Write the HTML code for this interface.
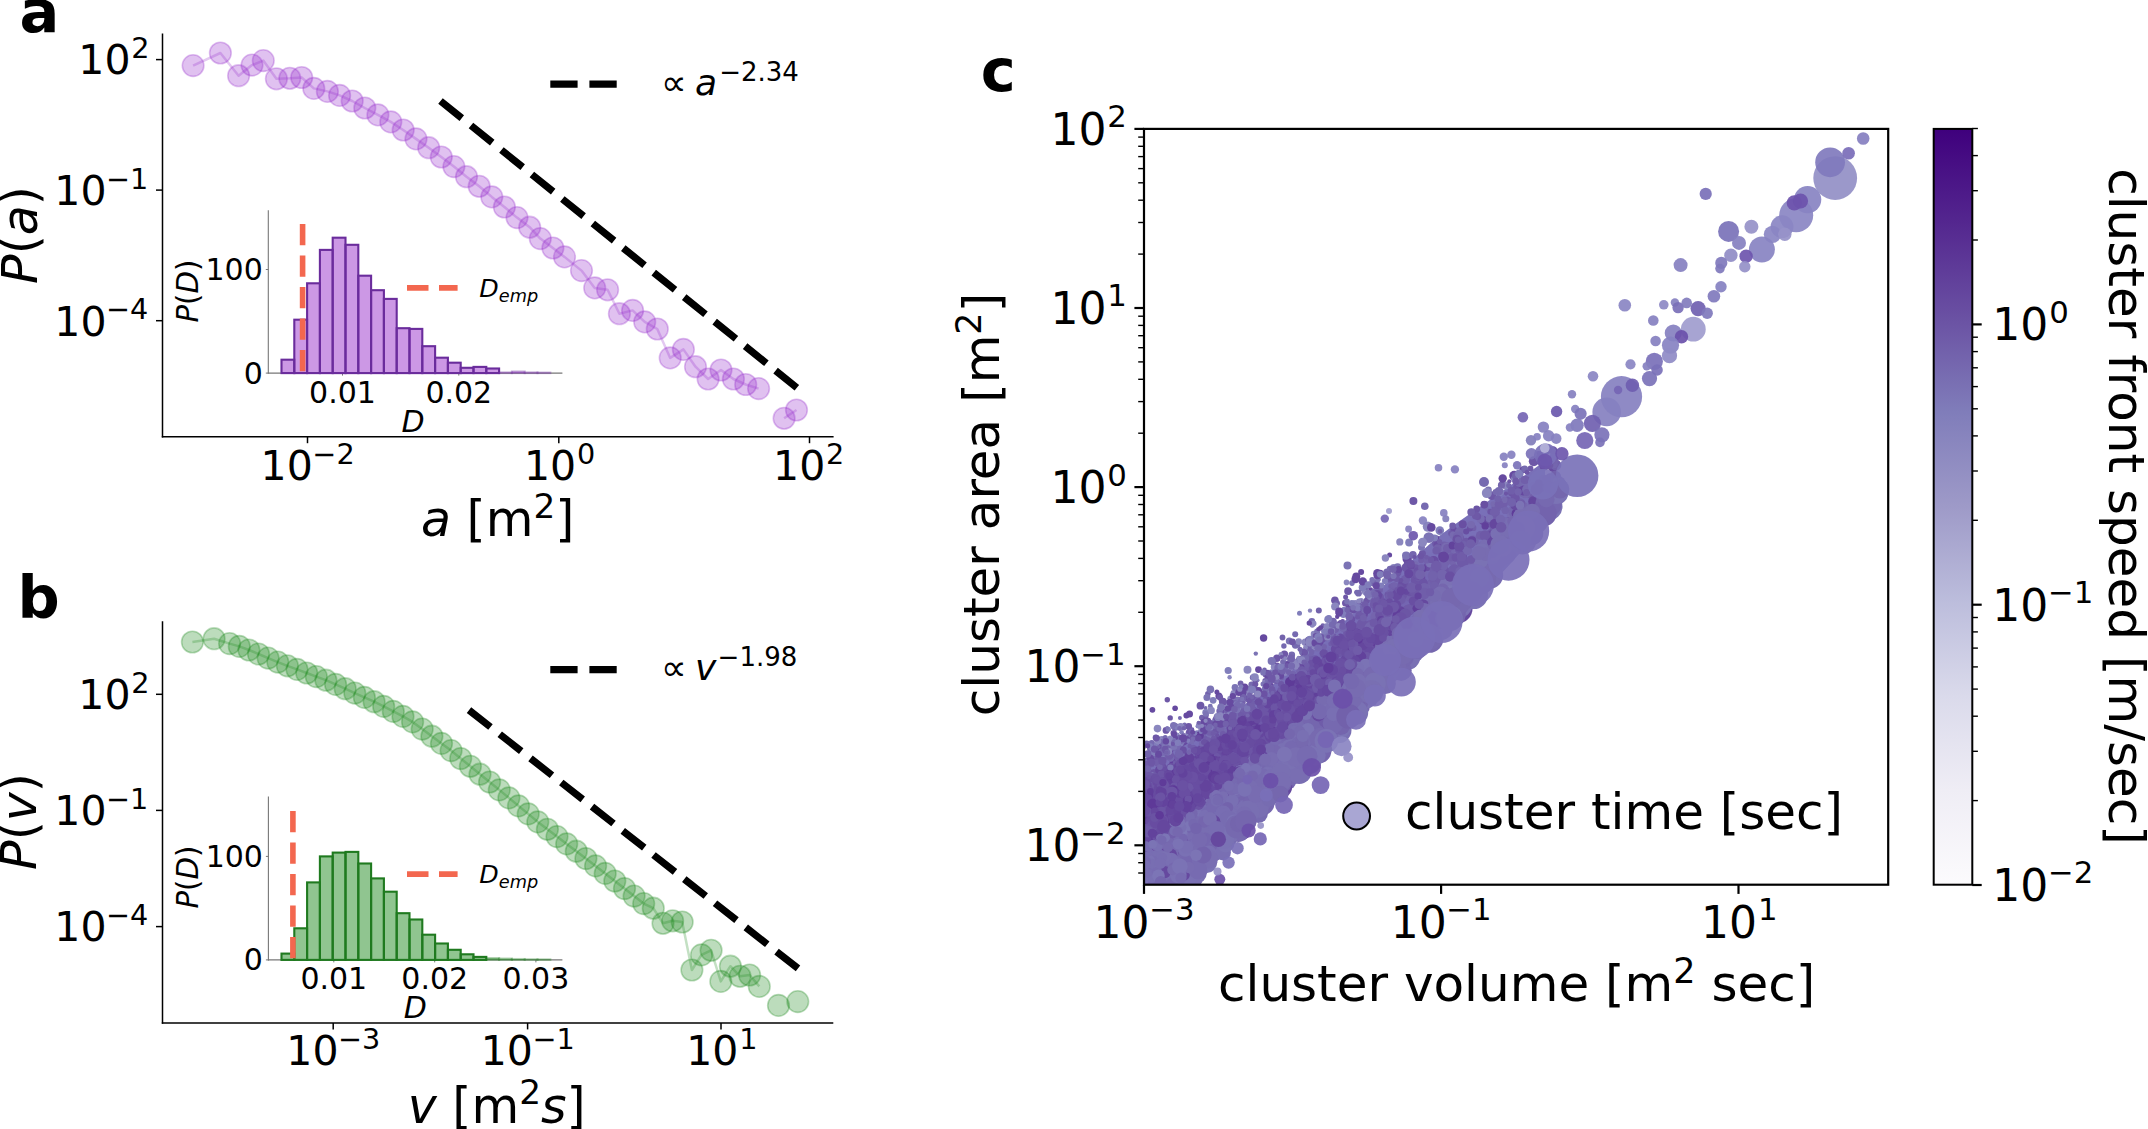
<!DOCTYPE html>
<html lang="en"><head><meta charset="utf-8"><title>Cluster statistics figure</title>
<style>
html,body{margin:0;padding:0;background:#fff;}
body{width:2148px;height:1129px;overflow:hidden;}
svg{display:block;font-family:'DejaVu Sans','Liberation Sans',sans-serif;}
</style></head><body>
<svg width="2148" height="1129" viewBox="0 0 2148 1129">
<rect width="2148" height="1129" fill="#fff"/>
<g id="panel-a">
<text x="19.6" y="32.4" font-size="59" text-anchor="start" font-weight="bold" fill="#000">a</text>
<line x1="162.5" y1="33.6" x2="162.5" y2="437.5" stroke="#000" stroke-width="1.5" />
<line x1="161.8" y1="436.8" x2="833.6" y2="436.8" stroke="#000" stroke-width="1.5" />
<line x1="156" y1="59.6" x2="162.5" y2="59.6" stroke="#000" stroke-width="1.5" />
<text x="78.3" y="74.4" font-size="41">10<tspan dx="0.8" dy="-16.4" font-size="28.7">2</tspan></text>
<line x1="156" y1="190.1" x2="162.5" y2="190.1" stroke="#000" stroke-width="1.5" />
<text x="54.3" y="204.9" font-size="41">10<tspan dx="-0.4" dy="-16.4" font-size="28.7">−1</tspan></text>
<line x1="156" y1="320.7" x2="162.5" y2="320.7" stroke="#000" stroke-width="1.5" />
<text x="54.3" y="335.5" font-size="41">10<tspan dx="-0.4" dy="-16.4" font-size="28.7">−4</tspan></text>
<line x1="307.5" y1="436.8" x2="307.5" y2="443.2" stroke="#000" stroke-width="1.5" />
<text x="260.6" y="480.1" font-size="41">10<tspan dx="-0.4" dy="-16.4" font-size="28.7">−2</tspan></text>
<line x1="558.8" y1="436.8" x2="558.8" y2="443.2" stroke="#000" stroke-width="1.5" />
<text x="524" y="480.1" font-size="41">10<tspan dx="0.8" dy="-16.4" font-size="28.7">0</tspan></text>
<line x1="809.5" y1="436.8" x2="809.5" y2="443.2" stroke="#000" stroke-width="1.5" />
<text x="773.1" y="480.1" font-size="41">10<tspan dx="0.8" dy="-16.4" font-size="28.7">2</tspan></text>
<text x="36.5" y="235" font-size="49" text-anchor="middle" transform="rotate(-90 36.5 235)"><tspan font-style="italic">P</tspan>(<tspan font-style="italic">a</tspan>)</text>
<text x="421" y="536" font-size="49"><tspan font-style="italic">a</tspan> [m<tspan dy="-18.5" font-size="34.3">2</tspan><tspan dy="18.5">]</tspan></text>
<g fill="#9932cc" stroke="#9932cc">
<path d="M193.1 65.6 L220.4 53 L238.6 75.7 L252 65.1 L263.3 60.6 L276.4 78.8 L289.8 78.3 L301.7 77.5 L313.8 88.4 L327.4 91.4 L339.6 95.4 L352.2 101 L364.8 108 L377.9 114.9 L390.8 121.9 L403.2 130 L416 138.9 L428.7 147.7 L441.3 157 L453.9 166.6 L466.5 176.7 L479.2 186.3 L491.8 196.9 L504.4 207 L517 217.6 L529.7 227.2 L540.3 238.6 L552.9 248 L564.5 256.9 L581.5 270.6 L594.7 287.9 L607.6 289.8 L619.4 313.7 L632.6 310.4 L644.7 321.9 L657.3 329 L670.2 357.9 L683.4 349.4 L695.5 366.7 L708.1 379 L721 370 L733.4 379 L745.7 384.5 L758.6 388.6M784.1 418.3 L796.5 410" fill="none" stroke-width="2.5" stroke-opacity="0.27" stroke-linejoin="round"/>
<circle cx="193.1" cy="65.6" r="10.8" fill-opacity="0.3" stroke-opacity="0.3" stroke-width="1.6"/>
<circle cx="220.4" cy="53" r="10.8" fill-opacity="0.3" stroke-opacity="0.3" stroke-width="1.6"/>
<circle cx="238.6" cy="75.7" r="10.8" fill-opacity="0.3" stroke-opacity="0.3" stroke-width="1.6"/>
<circle cx="252" cy="65.1" r="10.8" fill-opacity="0.3" stroke-opacity="0.3" stroke-width="1.6"/>
<circle cx="263.3" cy="60.6" r="10.8" fill-opacity="0.3" stroke-opacity="0.3" stroke-width="1.6"/>
<circle cx="276.4" cy="78.8" r="10.8" fill-opacity="0.3" stroke-opacity="0.3" stroke-width="1.6"/>
<circle cx="289.8" cy="78.3" r="10.8" fill-opacity="0.3" stroke-opacity="0.3" stroke-width="1.6"/>
<circle cx="301.7" cy="77.5" r="10.8" fill-opacity="0.3" stroke-opacity="0.3" stroke-width="1.6"/>
<circle cx="313.8" cy="88.4" r="10.8" fill-opacity="0.3" stroke-opacity="0.3" stroke-width="1.6"/>
<circle cx="327.4" cy="91.4" r="10.8" fill-opacity="0.3" stroke-opacity="0.3" stroke-width="1.6"/>
<circle cx="339.6" cy="95.4" r="10.8" fill-opacity="0.3" stroke-opacity="0.3" stroke-width="1.6"/>
<circle cx="352.2" cy="101" r="10.8" fill-opacity="0.3" stroke-opacity="0.3" stroke-width="1.6"/>
<circle cx="364.8" cy="108" r="10.8" fill-opacity="0.3" stroke-opacity="0.3" stroke-width="1.6"/>
<circle cx="377.9" cy="114.9" r="10.8" fill-opacity="0.3" stroke-opacity="0.3" stroke-width="1.6"/>
<circle cx="390.8" cy="121.9" r="10.8" fill-opacity="0.3" stroke-opacity="0.3" stroke-width="1.6"/>
<circle cx="403.2" cy="130" r="10.8" fill-opacity="0.3" stroke-opacity="0.3" stroke-width="1.6"/>
<circle cx="416" cy="138.9" r="10.8" fill-opacity="0.3" stroke-opacity="0.3" stroke-width="1.6"/>
<circle cx="428.7" cy="147.7" r="10.8" fill-opacity="0.3" stroke-opacity="0.3" stroke-width="1.6"/>
<circle cx="441.3" cy="157" r="10.8" fill-opacity="0.3" stroke-opacity="0.3" stroke-width="1.6"/>
<circle cx="453.9" cy="166.6" r="10.8" fill-opacity="0.3" stroke-opacity="0.3" stroke-width="1.6"/>
<circle cx="466.5" cy="176.7" r="10.8" fill-opacity="0.3" stroke-opacity="0.3" stroke-width="1.6"/>
<circle cx="479.2" cy="186.3" r="10.8" fill-opacity="0.3" stroke-opacity="0.3" stroke-width="1.6"/>
<circle cx="491.8" cy="196.9" r="10.8" fill-opacity="0.3" stroke-opacity="0.3" stroke-width="1.6"/>
<circle cx="504.4" cy="207" r="10.8" fill-opacity="0.3" stroke-opacity="0.3" stroke-width="1.6"/>
<circle cx="517" cy="217.6" r="10.8" fill-opacity="0.3" stroke-opacity="0.3" stroke-width="1.6"/>
<circle cx="529.7" cy="227.2" r="10.8" fill-opacity="0.3" stroke-opacity="0.3" stroke-width="1.6"/>
<circle cx="540.3" cy="238.6" r="10.8" fill-opacity="0.3" stroke-opacity="0.3" stroke-width="1.6"/>
<circle cx="552.9" cy="248" r="10.8" fill-opacity="0.3" stroke-opacity="0.3" stroke-width="1.6"/>
<circle cx="564.5" cy="256.9" r="10.8" fill-opacity="0.3" stroke-opacity="0.3" stroke-width="1.6"/>
<circle cx="581.5" cy="270.6" r="10.8" fill-opacity="0.3" stroke-opacity="0.3" stroke-width="1.6"/>
<circle cx="594.7" cy="287.9" r="10.8" fill-opacity="0.3" stroke-opacity="0.3" stroke-width="1.6"/>
<circle cx="607.6" cy="289.8" r="10.8" fill-opacity="0.3" stroke-opacity="0.3" stroke-width="1.6"/>
<circle cx="619.4" cy="313.7" r="10.8" fill-opacity="0.3" stroke-opacity="0.3" stroke-width="1.6"/>
<circle cx="632.6" cy="310.4" r="10.8" fill-opacity="0.3" stroke-opacity="0.3" stroke-width="1.6"/>
<circle cx="644.7" cy="321.9" r="10.8" fill-opacity="0.3" stroke-opacity="0.3" stroke-width="1.6"/>
<circle cx="657.3" cy="329" r="10.8" fill-opacity="0.3" stroke-opacity="0.3" stroke-width="1.6"/>
<circle cx="670.2" cy="357.9" r="10.8" fill-opacity="0.3" stroke-opacity="0.3" stroke-width="1.6"/>
<circle cx="683.4" cy="349.4" r="10.8" fill-opacity="0.3" stroke-opacity="0.3" stroke-width="1.6"/>
<circle cx="695.5" cy="366.7" r="10.8" fill-opacity="0.3" stroke-opacity="0.3" stroke-width="1.6"/>
<circle cx="708.1" cy="379" r="10.8" fill-opacity="0.3" stroke-opacity="0.3" stroke-width="1.6"/>
<circle cx="721" cy="370" r="10.8" fill-opacity="0.3" stroke-opacity="0.3" stroke-width="1.6"/>
<circle cx="733.4" cy="379" r="10.8" fill-opacity="0.3" stroke-opacity="0.3" stroke-width="1.6"/>
<circle cx="745.7" cy="384.5" r="10.8" fill-opacity="0.3" stroke-opacity="0.3" stroke-width="1.6"/>
<circle cx="758.6" cy="388.6" r="10.8" fill-opacity="0.3" stroke-opacity="0.3" stroke-width="1.6"/>
<circle cx="784.1" cy="418.3" r="10.8" fill-opacity="0.3" stroke-opacity="0.3" stroke-width="1.6"/>
<circle cx="796.5" cy="410" r="10.8" fill-opacity="0.3" stroke-opacity="0.3" stroke-width="1.6"/>
</g>
<line x1="440.5" y1="101" x2="797.9" y2="388.6" stroke="#000" stroke-width="7.2" stroke-dasharray="27.3 11.8"/>
<line x1="550.3" y1="84.1" x2="616.7" y2="84.1" stroke="#000" stroke-width="7.2" stroke-dasharray="27.3 11.8"/>
<text x="661" y="95.3" font-size="36">∝</text>
<text x="695" y="95.3" font-size="36" font-style="italic">a</text>
<text x="719.2" y="81" font-size="26">−2.34</text>
<line x1="268.3" y1="210.3" x2="268.3" y2="373.6" stroke="#777" stroke-width="1.1" />
<line x1="267.8" y1="373.1" x2="562.4" y2="373.1" stroke="#777" stroke-width="1.1" />
<line x1="342.5" y1="373.1" x2="342.5" y2="375.6" stroke="#777" stroke-width="1.0" />
<text x="342.5" y="402.6" font-size="30" text-anchor="middle" fill="#000">0.01</text>
<line x1="458.8" y1="373.1" x2="458.8" y2="375.6" stroke="#777" stroke-width="1.0" />
<text x="458.8" y="402.6" font-size="30" text-anchor="middle" fill="#000">0.02</text>
<line x1="265.8" y1="373.1" x2="268.3" y2="373.1" stroke="#777" stroke-width="1.0" />
<text x="262.8" y="383.5" font-size="30" text-anchor="end" fill="#000">0</text>
<line x1="265.8" y1="269.5" x2="268.3" y2="269.5" stroke="#777" stroke-width="1.0" />
<text x="262.8" y="279.9" font-size="30" text-anchor="end" fill="#000">100</text>
<g fill="#9932cc" fill-opacity="0.5" stroke="#6a2c9c" stroke-width="2.1" stroke-linejoin="miter">
<rect x="281.5" y="359.7" width="12.8" height="13.4"/>
<rect x="294.3" y="319.7" width="12.8" height="53.4"/>
<rect x="307.1" y="283.3" width="12.8" height="89.8"/>
<rect x="319.9" y="249.9" width="12.8" height="123.2"/>
<rect x="332.7" y="237.7" width="12.8" height="135.4"/>
<rect x="345.5" y="244.8" width="12.8" height="128.3"/>
<rect x="358.3" y="275.7" width="12.8" height="97.4"/>
<rect x="371.1" y="290.2" width="12.8" height="82.9"/>
<rect x="383.9" y="298.9" width="12.8" height="74.2"/>
<rect x="396.7" y="328.2" width="12.8" height="44.9"/>
<rect x="409.5" y="328.9" width="12.8" height="44.2"/>
<rect x="422.3" y="346.2" width="12.8" height="26.9"/>
<rect x="435.1" y="357.7" width="12.8" height="15.4"/>
<rect x="447.9" y="362.7" width="12.8" height="10.4"/>
<rect x="460.7" y="367.8" width="12.8" height="5.3"/>
<rect x="473.5" y="366.9" width="12.8" height="6.2"/>
<rect x="486.3" y="368.5" width="12.8" height="4.6"/>
<rect x="499.1" y="372.4" width="12.8" height="0.7" stroke-opacity="0.35"/>
<rect x="511.9" y="371.5" width="12.8" height="1.6" stroke-opacity="0.35"/>
<rect x="524.7" y="372.4" width="12.8" height="0.7" stroke-opacity="0.35"/>
<rect x="537.5" y="372.6" width="12.8" height="0.5" stroke-opacity="0.35"/>
</g>
<line x1="302.6" y1="224" x2="302.6" y2="373.1" stroke="#f3674f" stroke-width="5.6" stroke-dasharray="21.3 10.2"/>
<line x1="407" y1="287.9" x2="457.6" y2="287.9" stroke="#f3674f" stroke-width="5.6" stroke-dasharray="21.5 10.5"/>
<text x="479.3" y="296.5" font-size="25.3" font-style="italic">D<tspan dy="5.5" font-size="17.7">emp</tspan></text>
<text x="413" y="432" font-size="30" text-anchor="middle" font-style="italic" fill="#000">D</text>
<text x="197.5" y="291" font-size="29.3" text-anchor="middle" transform="rotate(-90 197.5 291)"><tspan font-style="italic">P</tspan>(<tspan font-style="italic">D</tspan>)</text>
</g>
<g id="panel-b">
<text x="17.4" y="618.4" font-size="59" text-anchor="start" font-weight="bold" fill="#000">b</text>
<line x1="162.5" y1="621.2" x2="162.5" y2="1023.7" stroke="#000" stroke-width="1.5" />
<line x1="161.8" y1="1023" x2="833.3" y2="1023" stroke="#000" stroke-width="1.5" />
<line x1="156" y1="694.3" x2="162.5" y2="694.3" stroke="#000" stroke-width="1.5" />
<text x="78.3" y="709.1" font-size="41">10<tspan dx="0.8" dy="-16.4" font-size="28.7">2</tspan></text>
<line x1="156" y1="810.4" x2="162.5" y2="810.4" stroke="#000" stroke-width="1.5" />
<text x="54.3" y="825.2" font-size="41">10<tspan dx="-0.4" dy="-16.4" font-size="28.7">−1</tspan></text>
<line x1="156" y1="926.6" x2="162.5" y2="926.6" stroke="#000" stroke-width="1.5" />
<text x="54.3" y="941.4" font-size="41">10<tspan dx="-0.4" dy="-16.4" font-size="28.7">−4</tspan></text>
<line x1="333.2" y1="1023" x2="333.2" y2="1029.4" stroke="#000" stroke-width="1.5" />
<text x="286.3" y="1065.3" font-size="41">10<tspan dx="-0.4" dy="-16.4" font-size="28.7">−3</tspan></text>
<line x1="527.6" y1="1023" x2="527.6" y2="1029.4" stroke="#000" stroke-width="1.5" />
<text x="480.7" y="1065.3" font-size="41">10<tspan dx="-0.4" dy="-16.4" font-size="28.7">−1</tspan></text>
<line x1="721" y1="1023" x2="721" y2="1029.4" stroke="#000" stroke-width="1.5" />
<text x="686.2" y="1065.3" font-size="41">10<tspan dx="0.8" dy="-16.4" font-size="28.7">1</tspan></text>
<text x="36" y="821.5" font-size="49" text-anchor="middle" transform="rotate(-90 36 821.5)"><tspan font-style="italic">P</tspan>(<tspan font-style="italic">v</tspan>)</text>
<text x="407.7" y="1122.5" font-size="49"><tspan font-style="italic">v</tspan> [m<tspan dy="-18.5" font-size="34.3">2</tspan><tspan dy="18.5" font-style="italic">s</tspan>]</text>
<g fill="#228b22" stroke="#228b22">
<path d="M192.4 642 L214.1 638.7 L229.6 643.6 L239.3 646.4 L248.9 650 L258.5 654 L268.1 658.1 L277.8 662.1 L287.4 665.8 L297 669.4 L306.7 673 L316.3 676.6 L325.9 680.2 L335.6 684.4 L345.2 688.7 L354.8 693.1 L364.4 697.4 L374.1 701.7 L383.7 706.4 L393.3 711.4 L403 716.4 L412.6 721.9 L422.2 729.1 L431.9 736.2 L441.5 743.4 L451.1 750.6 L460.7 758.5 L470.4 766.3 L480 774.2 L489.6 782 L499.3 789.9 L508.9 797.9 L518.5 805.9 L528.2 813.9 L537.8 821.9 L547.4 829.3 L557 836.6 L566.7 843.9 L576.3 851.2 L585.9 858.5 L595.6 865.9 L605.2 873.4 L614.8 881 L624.5 888.5 L634.1 896.1 L643.7 903.6 L653.3 908.2 L663 923.3 L672.6 920.8 L682.2 922 L691.9 970 L701.5 954.9 L711.1 950.3 L720.8 981.4 L730.4 966.2 L740 976.3 L749.6 975 L759.3 986.4" fill="none" stroke-width="2.5" stroke-opacity="0.27" stroke-linejoin="round"/>
<circle cx="192.4" cy="642" r="10.8" fill-opacity="0.3" stroke-opacity="0.3" stroke-width="1.6"/>
<circle cx="214.1" cy="638.7" r="10.8" fill-opacity="0.3" stroke-opacity="0.3" stroke-width="1.6"/>
<circle cx="229.6" cy="643.6" r="10.8" fill-opacity="0.3" stroke-opacity="0.3" stroke-width="1.6"/>
<circle cx="239.3" cy="646.4" r="10.8" fill-opacity="0.3" stroke-opacity="0.3" stroke-width="1.6"/>
<circle cx="248.9" cy="650" r="10.8" fill-opacity="0.3" stroke-opacity="0.3" stroke-width="1.6"/>
<circle cx="258.5" cy="654" r="10.8" fill-opacity="0.3" stroke-opacity="0.3" stroke-width="1.6"/>
<circle cx="268.1" cy="658.1" r="10.8" fill-opacity="0.3" stroke-opacity="0.3" stroke-width="1.6"/>
<circle cx="277.8" cy="662.1" r="10.8" fill-opacity="0.3" stroke-opacity="0.3" stroke-width="1.6"/>
<circle cx="287.4" cy="665.8" r="10.8" fill-opacity="0.3" stroke-opacity="0.3" stroke-width="1.6"/>
<circle cx="297" cy="669.4" r="10.8" fill-opacity="0.3" stroke-opacity="0.3" stroke-width="1.6"/>
<circle cx="306.7" cy="673" r="10.8" fill-opacity="0.3" stroke-opacity="0.3" stroke-width="1.6"/>
<circle cx="316.3" cy="676.6" r="10.8" fill-opacity="0.3" stroke-opacity="0.3" stroke-width="1.6"/>
<circle cx="325.9" cy="680.2" r="10.8" fill-opacity="0.3" stroke-opacity="0.3" stroke-width="1.6"/>
<circle cx="335.6" cy="684.4" r="10.8" fill-opacity="0.3" stroke-opacity="0.3" stroke-width="1.6"/>
<circle cx="345.2" cy="688.7" r="10.8" fill-opacity="0.3" stroke-opacity="0.3" stroke-width="1.6"/>
<circle cx="354.8" cy="693.1" r="10.8" fill-opacity="0.3" stroke-opacity="0.3" stroke-width="1.6"/>
<circle cx="364.4" cy="697.4" r="10.8" fill-opacity="0.3" stroke-opacity="0.3" stroke-width="1.6"/>
<circle cx="374.1" cy="701.7" r="10.8" fill-opacity="0.3" stroke-opacity="0.3" stroke-width="1.6"/>
<circle cx="383.7" cy="706.4" r="10.8" fill-opacity="0.3" stroke-opacity="0.3" stroke-width="1.6"/>
<circle cx="393.3" cy="711.4" r="10.8" fill-opacity="0.3" stroke-opacity="0.3" stroke-width="1.6"/>
<circle cx="403" cy="716.4" r="10.8" fill-opacity="0.3" stroke-opacity="0.3" stroke-width="1.6"/>
<circle cx="412.6" cy="721.9" r="10.8" fill-opacity="0.3" stroke-opacity="0.3" stroke-width="1.6"/>
<circle cx="422.2" cy="729.1" r="10.8" fill-opacity="0.3" stroke-opacity="0.3" stroke-width="1.6"/>
<circle cx="431.9" cy="736.2" r="10.8" fill-opacity="0.3" stroke-opacity="0.3" stroke-width="1.6"/>
<circle cx="441.5" cy="743.4" r="10.8" fill-opacity="0.3" stroke-opacity="0.3" stroke-width="1.6"/>
<circle cx="451.1" cy="750.6" r="10.8" fill-opacity="0.3" stroke-opacity="0.3" stroke-width="1.6"/>
<circle cx="460.7" cy="758.5" r="10.8" fill-opacity="0.3" stroke-opacity="0.3" stroke-width="1.6"/>
<circle cx="470.4" cy="766.3" r="10.8" fill-opacity="0.3" stroke-opacity="0.3" stroke-width="1.6"/>
<circle cx="480" cy="774.2" r="10.8" fill-opacity="0.3" stroke-opacity="0.3" stroke-width="1.6"/>
<circle cx="489.6" cy="782" r="10.8" fill-opacity="0.3" stroke-opacity="0.3" stroke-width="1.6"/>
<circle cx="499.3" cy="789.9" r="10.8" fill-opacity="0.3" stroke-opacity="0.3" stroke-width="1.6"/>
<circle cx="508.9" cy="797.9" r="10.8" fill-opacity="0.3" stroke-opacity="0.3" stroke-width="1.6"/>
<circle cx="518.5" cy="805.9" r="10.8" fill-opacity="0.3" stroke-opacity="0.3" stroke-width="1.6"/>
<circle cx="528.2" cy="813.9" r="10.8" fill-opacity="0.3" stroke-opacity="0.3" stroke-width="1.6"/>
<circle cx="537.8" cy="821.9" r="10.8" fill-opacity="0.3" stroke-opacity="0.3" stroke-width="1.6"/>
<circle cx="547.4" cy="829.3" r="10.8" fill-opacity="0.3" stroke-opacity="0.3" stroke-width="1.6"/>
<circle cx="557" cy="836.6" r="10.8" fill-opacity="0.3" stroke-opacity="0.3" stroke-width="1.6"/>
<circle cx="566.7" cy="843.9" r="10.8" fill-opacity="0.3" stroke-opacity="0.3" stroke-width="1.6"/>
<circle cx="576.3" cy="851.2" r="10.8" fill-opacity="0.3" stroke-opacity="0.3" stroke-width="1.6"/>
<circle cx="585.9" cy="858.5" r="10.8" fill-opacity="0.3" stroke-opacity="0.3" stroke-width="1.6"/>
<circle cx="595.6" cy="865.9" r="10.8" fill-opacity="0.3" stroke-opacity="0.3" stroke-width="1.6"/>
<circle cx="605.2" cy="873.4" r="10.8" fill-opacity="0.3" stroke-opacity="0.3" stroke-width="1.6"/>
<circle cx="614.8" cy="881" r="10.8" fill-opacity="0.3" stroke-opacity="0.3" stroke-width="1.6"/>
<circle cx="624.5" cy="888.5" r="10.8" fill-opacity="0.3" stroke-opacity="0.3" stroke-width="1.6"/>
<circle cx="634.1" cy="896.1" r="10.8" fill-opacity="0.3" stroke-opacity="0.3" stroke-width="1.6"/>
<circle cx="643.7" cy="903.6" r="10.8" fill-opacity="0.3" stroke-opacity="0.3" stroke-width="1.6"/>
<circle cx="653.3" cy="908.2" r="10.8" fill-opacity="0.3" stroke-opacity="0.3" stroke-width="1.6"/>
<circle cx="663" cy="923.3" r="10.8" fill-opacity="0.3" stroke-opacity="0.3" stroke-width="1.6"/>
<circle cx="672.6" cy="920.8" r="10.8" fill-opacity="0.3" stroke-opacity="0.3" stroke-width="1.6"/>
<circle cx="682.2" cy="922" r="10.8" fill-opacity="0.3" stroke-opacity="0.3" stroke-width="1.6"/>
<circle cx="691.9" cy="970" r="10.8" fill-opacity="0.3" stroke-opacity="0.3" stroke-width="1.6"/>
<circle cx="701.5" cy="954.9" r="10.8" fill-opacity="0.3" stroke-opacity="0.3" stroke-width="1.6"/>
<circle cx="711.1" cy="950.3" r="10.8" fill-opacity="0.3" stroke-opacity="0.3" stroke-width="1.6"/>
<circle cx="720.8" cy="981.4" r="10.8" fill-opacity="0.3" stroke-opacity="0.3" stroke-width="1.6"/>
<circle cx="730.4" cy="966.2" r="10.8" fill-opacity="0.3" stroke-opacity="0.3" stroke-width="1.6"/>
<circle cx="740" cy="976.3" r="10.8" fill-opacity="0.3" stroke-opacity="0.3" stroke-width="1.6"/>
<circle cx="749.6" cy="975" r="10.8" fill-opacity="0.3" stroke-opacity="0.3" stroke-width="1.6"/>
<circle cx="759.3" cy="986.4" r="10.8" fill-opacity="0.3" stroke-opacity="0.3" stroke-width="1.6"/>
<circle cx="778.5" cy="1005.4" r="10.8" fill-opacity="0.3" stroke-opacity="0.3" stroke-width="1.6"/>
<circle cx="797.8" cy="1001.6" r="10.8" fill-opacity="0.3" stroke-opacity="0.3" stroke-width="1.6"/>
</g>
<line x1="469" y1="710.1" x2="798.5" y2="968.8" stroke="#000" stroke-width="7.2" stroke-dasharray="27.3 11.8"/>
<line x1="550.3" y1="669.7" x2="616.7" y2="669.7" stroke="#000" stroke-width="7.2" stroke-dasharray="27.3 11.8"/>
<text x="661" y="680.4" font-size="36">∝</text>
<text x="695" y="680.4" font-size="36" font-style="italic">v</text>
<text x="717.6" y="666.1" font-size="26">−1.98</text>
<line x1="268.4" y1="796.5" x2="268.4" y2="960.4" stroke="#777" stroke-width="1.1" />
<line x1="267.9" y1="959.9" x2="562.4" y2="959.9" stroke="#777" stroke-width="1.1" />
<line x1="333.8" y1="959.9" x2="333.8" y2="962.4" stroke="#777" stroke-width="1.0" />
<text x="333.8" y="989.4" font-size="30" text-anchor="middle" fill="#000">0.01</text>
<line x1="434.7" y1="959.9" x2="434.7" y2="962.4" stroke="#777" stroke-width="1.0" />
<text x="434.7" y="989.4" font-size="30" text-anchor="middle" fill="#000">0.02</text>
<line x1="535.9" y1="959.9" x2="535.9" y2="962.4" stroke="#777" stroke-width="1.0" />
<text x="535.9" y="989.4" font-size="30" text-anchor="middle" fill="#000">0.03</text>
<line x1="265.9" y1="959.9" x2="268.4" y2="959.9" stroke="#777" stroke-width="1.0" />
<text x="262.9" y="970.3" font-size="30" text-anchor="end" fill="#000">0</text>
<line x1="265.9" y1="856.4" x2="268.4" y2="856.4" stroke="#777" stroke-width="1.0" />
<text x="262.9" y="866.8" font-size="30" text-anchor="end" fill="#000">100</text>
<g fill="#228b22" fill-opacity="0.5" stroke="#1f7a1f" stroke-width="2.1" stroke-linejoin="miter">
<rect x="281.5" y="953.6" width="12.8" height="6.3"/>
<rect x="294.3" y="928.3" width="12.8" height="31.6"/>
<rect x="307.1" y="882.4" width="12.8" height="77.5"/>
<rect x="319.9" y="856.4" width="12.8" height="103.5"/>
<rect x="332.7" y="852.6" width="12.8" height="107.3"/>
<rect x="345.5" y="851.9" width="12.8" height="108"/>
<rect x="358.3" y="863.5" width="12.8" height="96.4"/>
<rect x="371.1" y="878.4" width="12.8" height="81.5"/>
<rect x="383.9" y="891.7" width="12.8" height="68.2"/>
<rect x="396.7" y="913.2" width="12.8" height="46.7"/>
<rect x="409.5" y="919.5" width="12.8" height="40.4"/>
<rect x="422.3" y="934.7" width="12.8" height="25.2"/>
<rect x="435.1" y="943.5" width="12.8" height="16.4"/>
<rect x="447.9" y="949.8" width="12.8" height="10.1"/>
<rect x="460.7" y="954.3" width="12.8" height="5.6"/>
<rect x="473.5" y="956.9" width="12.8" height="3"/>
<rect x="486.3" y="958.1" width="12.8" height="1.8" stroke-opacity="0.35"/>
<rect x="499.1" y="958.6" width="12.8" height="1.3" stroke-opacity="0.35"/>
<rect x="511.9" y="959" width="12.8" height="0.9" stroke-opacity="0.35"/>
<rect x="524.7" y="959.3" width="12.8" height="0.6" stroke-opacity="0.35"/>
<rect x="537.5" y="959.4" width="12.8" height="0.5" stroke-opacity="0.35"/>
</g>
<line x1="292.9" y1="811" x2="292.9" y2="959.9" stroke="#f3674f" stroke-width="5.6" stroke-dasharray="21.3 10.2"/>
<line x1="407" y1="874.1" x2="457.6" y2="874.1" stroke="#f3674f" stroke-width="5.6" stroke-dasharray="21.5 10.5"/>
<text x="479.3" y="882.7" font-size="25.3" font-style="italic">D<tspan dy="5.5" font-size="17.7">emp</tspan></text>
<text x="415.3" y="1017.7" font-size="30" text-anchor="middle" font-style="italic" fill="#000">D</text>
<text x="197.5" y="877" font-size="29.3" text-anchor="middle" transform="rotate(-90 197.5 877)"><tspan font-style="italic">P</tspan>(<tspan font-style="italic">D</tspan>)</text>
</g>
<g id="panel-c">
<text x="980.8" y="91" font-size="59" text-anchor="start" font-weight="bold" fill="#000">c</text>
<defs><clipPath id="clipc"><rect x="1144.0" y="128.9" width="744.2" height="755.8000000000001"/></clipPath>
<linearGradient id="purples" x1="0" y1="1" x2="0" y2="0"><stop offset="0.0" stop-color="#fcfbfd"/><stop offset="0.125" stop-color="#efedf5"/><stop offset="0.25" stop-color="#dadaeb"/><stop offset="0.375" stop-color="#bcbddc"/><stop offset="0.5" stop-color="#9e9ac8"/><stop offset="0.625" stop-color="#807dba"/><stop offset="0.75" stop-color="#6a51a3"/><stop offset="0.875" stop-color="#54278f"/><stop offset="1.0" stop-color="#3f007d"/></linearGradient><filter id="blr" x="-10%" y="-10%" width="120%" height="120%"><feGaussianBlur stdDeviation="5"/></filter></defs>
<g clip-path="url(#clipc)">
<polygon points="1140,767.8 1150.7,761.8 1161.4,755.8 1172.1,749.8 1182.9,743.9 1193.6,737.9 1204.3,731.9 1215,725.4 1225.7,717.8 1236.4,710.3 1247.1,702.7 1257.9,695.2 1268.6,687.7 1279.3,679.6 1290,671.2 1290,789.1 1279.3,798 1268.6,806.8 1257.9,817 1247.1,828.1 1236.4,839.3 1225.7,850.4 1215,861.6 1204.3,872.6 1193.6,883.3 1182.9,894 1172.1,904.7 1161.4,915.4 1150.7,926.1 1140,936.7" fill="#7970b8" opacity="1"/>
<polygon points="1289,671.9 1307.3,656.4 1325.6,639.1 1343.9,621.8 1362.1,604.9 1380.4,588.4 1398.7,572 1417,555.5 1435.3,539 1453.6,525.2 1471.9,512.4 1490.1,499.7 1508.4,486.8 1526.7,474 1545,461.1 1545,525.1 1526.7,545.5 1508.4,566 1490.1,585.4 1471.9,603.9 1453.6,622.4 1435.3,641 1417,659.9 1398.7,678.1 1380.4,696.3 1362.1,714.6 1343.9,732.9 1325.6,751.2 1307.3,769.5 1289,785.9" fill="#7970b8" opacity="1"/>
<polygon points="1120,802.9 1135,793.6 1150,784.4 1165,775.1 1180,765.9 1195,756.6 1210,747.3 1225,736.2 1240,725 1255,713.8 1270,702.8 1285,691 1300,679.1 1315,664.8 1330,650.5 1330,686.9 1315,701.5 1300,716.1 1285,728.2 1270,740.2 1255,752.4 1240,765.2 1225,778 1210,790.8 1195,802.2 1180,813.5 1165,824.9 1150,836.2 1135,847.4 1120,858.6" fill="#66489f" opacity="0.6" filter="url(#blr)"/>
<polygon points="1330,650.5 1337.1,643.7 1344.3,636.9 1351.4,630.1 1358.6,623.5 1365.7,616.9 1372.9,610.4 1380,603.9 1387.1,597.3 1394.3,590.8 1401.4,584.3 1408.6,577.7 1415.7,571.2 1422.9,564.6 1430,558.1 1430,586.7 1422.9,593.6 1415.7,600.4 1408.6,607.1 1401.4,613.8 1394.3,620.6 1387.1,627.3 1380,634 1372.9,640.7 1365.7,647.5 1358.6,654.2 1351.4,660.9 1344.3,667.9 1337.1,674.8 1330,681.7" fill="#66489f" opacity="0.3" filter="url(#blr)"/>
<circle cx="1255.4" cy="783.7" r="5.9" fill="#7a72b4"/>
<circle cx="1161.6" cy="848" r="4" fill="#766ab0"/>
<circle cx="1251.4" cy="757.5" r="6.4" fill="#66499f"/>
<circle cx="1483.3" cy="546.8" r="6" fill="#776ab0"/>
<circle cx="1491.7" cy="495.6" r="4.4" fill="#6e58a7"/>
<circle cx="1237.7" cy="700.1" r="3.6" fill="#7c74b5"/>
<circle cx="1220" cy="721.1" r="3.1" fill="#7362ac"/>
<circle cx="1415.5" cy="564.2" r="2.9" fill="#776bb0"/>
<circle cx="1314.4" cy="688.5" r="4" fill="#674aa0"/>
<circle cx="1146.9" cy="848.7" r="4" fill="#7669b0"/>
<circle cx="1192" cy="801" r="3.8" fill="#664aa0"/>
<circle cx="1276.9" cy="765.3" r="9.2" fill="#786cb1"/>
<circle cx="1169" cy="900.4" r="6" fill="#7a70b3"/>
<circle cx="1197" cy="733.3" r="3" fill="#817ebb"/>
<circle cx="1161.9" cy="750.7" r="2.5" fill="#6e58a7"/>
<circle cx="1361.4" cy="606.3" r="3.1" fill="#6f5ca9"/>
<circle cx="1386.6" cy="623.3" r="5.2" fill="#684ea1"/>
<circle cx="1523" cy="526.2" r="10.6" fill="#7669af"/>
<circle cx="1332.7" cy="669.4" r="5.3" fill="#6a52a3"/>
<circle cx="1314.1" cy="679.1" r="3.2" fill="#694fa2"/>
<circle cx="1353.7" cy="626.9" r="4.6" fill="#6d57a6"/>
<circle cx="1248.3" cy="761.1" r="5.2" fill="#786cb1"/>
<circle cx="1204" cy="727.1" r="2.5" fill="#817ebb"/>
<circle cx="1472.8" cy="540.7" r="5.5" fill="#7567af"/>
<circle cx="1317" cy="668.8" r="3.5" fill="#6b53a4"/>
<circle cx="1201.3" cy="867.2" r="8.2" fill="#786eb2"/>
<circle cx="1184.8" cy="763" r="4.9" fill="#66499f"/>
<circle cx="1272.4" cy="692.3" r="2.9" fill="#6b53a4"/>
<circle cx="1254.8" cy="676.2" r="2" fill="#7363ac"/>
<circle cx="1299.6" cy="753.5" r="9.6" fill="#7466ae"/>
<circle cx="1149.3" cy="798.9" r="3.5" fill="#694ea2"/>
<circle cx="1381.9" cy="658.9" r="7.8" fill="#776bb1"/>
<circle cx="1385.4" cy="629.8" r="6" fill="#684da1"/>
<circle cx="1495.9" cy="555.7" r="8" fill="#786db1"/>
<circle cx="1278.3" cy="771" r="7.5" fill="#776ab0"/>
<circle cx="1202" cy="736.2" r="2.4" fill="#705ca9"/>
<circle cx="1322" cy="728.1" r="7.5" fill="#7566ae"/>
<circle cx="1322.9" cy="625.6" r="2.4" fill="#7363ac"/>
<circle cx="1285.3" cy="698.7" r="3.9" fill="#6950a2"/>
<circle cx="1315" cy="699.3" r="3.9" fill="#694fa2"/>
<circle cx="1249.6" cy="793.1" r="7.6" fill="#796eb2"/>
<circle cx="1462.2" cy="594" r="10.2" fill="#66499f"/>
<circle cx="1409.6" cy="609.7" r="5.2" fill="#6950a2"/>
<circle cx="1355.4" cy="609.7" r="3" fill="#766ab0"/>
<circle cx="1278" cy="782.2" r="7.5" fill="#7a71b4"/>
<circle cx="1276.9" cy="658.2" r="3.7" fill="#6e58a7"/>
<circle cx="1529.6" cy="493" r="5.2" fill="#715faa"/>
<circle cx="1170.4" cy="835.9" r="4.9" fill="#766ab0"/>
<circle cx="1163.7" cy="778.6" r="4.3" fill="#65489f"/>
<circle cx="1188.4" cy="736.8" r="3.1" fill="#8b87bf"/>
<circle cx="1320.8" cy="730.8" r="7.4" fill="#776bb1"/>
<circle cx="1318.8" cy="610.5" r="3" fill="#7363ac"/>
<circle cx="1238.1" cy="792.8" r="5.1" fill="#7b72b4"/>
<circle cx="1307.1" cy="754.6" r="10.8" fill="#7669b0"/>
<circle cx="1370.7" cy="589.7" r="2.4" fill="#664aa0"/>
<circle cx="1153.9" cy="772.5" r="2.9" fill="#6a52a3"/>
<circle cx="1422.4" cy="553.4" r="3.5" fill="#6d58a7"/>
<circle cx="1297.9" cy="764.3" r="10.7" fill="#66499f"/>
<circle cx="1155.6" cy="885.1" r="7" fill="#776cb1"/>
<circle cx="1328.5" cy="701.8" r="5.5" fill="#786eb2"/>
<circle cx="1324.8" cy="682.3" r="6.1" fill="#64469e"/>
<circle cx="1291.2" cy="757.6" r="7.4" fill="#776cb1"/>
<circle cx="1158.6" cy="788.8" r="4.9" fill="#64459d"/>
<circle cx="1167.1" cy="841" r="4.5" fill="#7669b0"/>
<circle cx="1196.8" cy="798.1" r="5.7" fill="#62419c"/>
<circle cx="1478.9" cy="578.7" r="14.2" fill="#786eb2"/>
<circle cx="1445.8" cy="518.8" r="3.5" fill="#8b87bf"/>
<circle cx="1203.1" cy="729.4" r="2" fill="#6e58a7"/>
<circle cx="1172.7" cy="868.9" r="6.5" fill="#786db2"/>
<circle cx="1350.4" cy="651.3" r="5.2" fill="#63439c"/>
<circle cx="1447.3" cy="607.9" r="10.1" fill="#7b74b5"/>
<circle cx="1173.2" cy="783.3" r="3.9" fill="#674ba0"/>
<circle cx="1337.2" cy="719" r="10.2" fill="#7669b0"/>
<circle cx="1190.9" cy="736.7" r="2.2" fill="#664aa0"/>
<circle cx="1326.3" cy="701" r="6" fill="#796eb2"/>
<circle cx="1511.2" cy="492.7" r="3.7" fill="#776cb1"/>
<circle cx="1155" cy="850.4" r="3.9" fill="#7970b3"/>
<circle cx="1180.3" cy="762.5" r="2.2" fill="#7466ae"/>
<circle cx="1399.4" cy="649.2" r="8.9" fill="#66499f"/>
<circle cx="1242.6" cy="740.6" r="3.5" fill="#684da1"/>
<circle cx="1166.3" cy="859" r="6.6" fill="#7568af"/>
<circle cx="1404.1" cy="581.8" r="4.1" fill="#6c54a5"/>
<circle cx="1253.5" cy="742.4" r="3.6" fill="#64469e"/>
<circle cx="1369.2" cy="598.1" r="4.2" fill="#766ab0"/>
<circle cx="1240.6" cy="683.5" r="2.9" fill="#7363ac"/>
<circle cx="1171.7" cy="773.8" r="4.6" fill="#6b53a4"/>
<circle cx="1431.6" cy="582.8" r="4.4" fill="#7260ab"/>
<circle cx="1164" cy="814.9" r="5.1" fill="#6950a3"/>
<circle cx="1371" cy="643.6" r="4.7" fill="#694ea2"/>
<circle cx="1161.8" cy="803.2" r="4.7" fill="#61419b"/>
<circle cx="1178.1" cy="889.5" r="7.8" fill="#7567af"/>
<circle cx="1312.4" cy="678.8" r="5.1" fill="#664aa0"/>
<circle cx="1320.7" cy="685.3" r="3.9" fill="#664a9f"/>
<circle cx="1154.2" cy="879" r="7.1" fill="#776ab0"/>
<circle cx="1297.9" cy="699.3" r="3.6" fill="#6d57a6"/>
<circle cx="1218.2" cy="764.9" r="5.4" fill="#64469e"/>
<circle cx="1535.9" cy="519.2" r="12.3" fill="#786db2"/>
<circle cx="1168.2" cy="746.2" r="2.1" fill="#7363ac"/>
<circle cx="1302.7" cy="762.3" r="10" fill="#776bb0"/>
<circle cx="1362" cy="656.4" r="5.7" fill="#61409b"/>
<circle cx="1185.9" cy="774.1" r="3.7" fill="#684ea1"/>
<circle cx="1338.3" cy="730.1" r="13.2" fill="#796fb3"/>
<circle cx="1243.2" cy="686.8" r="2.2" fill="#6e58a7"/>
<circle cx="1184.5" cy="740.9" r="3.3" fill="#664aa0"/>
<circle cx="1203.1" cy="800.2" r="4.4" fill="#684da1"/>
<circle cx="1347.9" cy="666.6" r="5" fill="#6a51a3"/>
<circle cx="1299.5" cy="613.3" r="2.5" fill="#817ebb"/>
<circle cx="1204.5" cy="758.8" r="4.4" fill="#613f9a"/>
<circle cx="1294.2" cy="683.8" r="4.7" fill="#674ba0"/>
<circle cx="1179.3" cy="798.3" r="5.5" fill="#6d57a6"/>
<circle cx="1174.5" cy="743.2" r="2.8" fill="#766ab0"/>
<circle cx="1381.6" cy="604" r="4" fill="#6e58a7"/>
<circle cx="1460.9" cy="588.8" r="8.7" fill="#786db1"/>
<circle cx="1343" cy="672.7" r="4.1" fill="#7363ad"/>
<circle cx="1313.9" cy="634" r="3.2" fill="#8b87bf"/>
<circle cx="1144.6" cy="844.1" r="5.5" fill="#6b52a4"/>
<circle cx="1319.4" cy="664.3" r="5.4" fill="#63449d"/>
<circle cx="1189.6" cy="733.1" r="4" fill="#6e58a7"/>
<circle cx="1221.8" cy="782.5" r="4.2" fill="#63449d"/>
<circle cx="1177.1" cy="802.4" r="5.7" fill="#674ba0"/>
<circle cx="1233.3" cy="701.6" r="2.7" fill="#7c74b5"/>
<circle cx="1323.5" cy="714.7" r="5.8" fill="#776bb0"/>
<circle cx="1421.5" cy="547.2" r="3.5" fill="#7c74b5"/>
<circle cx="1481.7" cy="519.3" r="3.5" fill="#7668af"/>
<circle cx="1169.3" cy="790.2" r="4.4" fill="#674ca1"/>
<circle cx="1536.4" cy="522.3" r="11.3" fill="#776bb1"/>
<circle cx="1295.1" cy="689.2" r="3.3" fill="#603d9a"/>
<circle cx="1268.5" cy="748" r="4.7" fill="#7466ae"/>
<circle cx="1280" cy="773" r="7.7" fill="#796eb2"/>
<circle cx="1210" cy="738" r="3.4" fill="#796eb2"/>
<circle cx="1233.8" cy="792.7" r="5.8" fill="#776cb1"/>
<circle cx="1233.9" cy="796" r="5.4" fill="#776cb1"/>
<circle cx="1190" cy="737.2" r="3.9" fill="#6c56a5"/>
<circle cx="1361.3" cy="706.8" r="8.6" fill="#7668af"/>
<circle cx="1176.5" cy="863.1" r="6.7" fill="#7568af"/>
<circle cx="1227.2" cy="794.8" r="5.7" fill="#7465ad"/>
<circle cx="1151.6" cy="843.9" r="3.7" fill="#7b73b5"/>
<circle cx="1228.8" cy="771.9" r="5.2" fill="#5e3b98"/>
<circle cx="1393.4" cy="587.1" r="4.1" fill="#7669b0"/>
<circle cx="1433.4" cy="586" r="4.1" fill="#6d57a6"/>
<circle cx="1522.6" cy="491.7" r="5.2" fill="#776bb1"/>
<circle cx="1156.9" cy="801.6" r="3.8" fill="#694fa2"/>
<circle cx="1516.8" cy="507.7" r="3.7" fill="#715faa"/>
<circle cx="1150" cy="883.9" r="5.1" fill="#796fb3"/>
<circle cx="1197.1" cy="873.5" r="9.6" fill="#796eb2"/>
<circle cx="1148.5" cy="780.7" r="5.2" fill="#64459d"/>
<circle cx="1212.1" cy="777.4" r="4.6" fill="#66499f"/>
<circle cx="1324.8" cy="637.9" r="2.8" fill="#6e58a7"/>
<circle cx="1229.3" cy="812.2" r="6.5" fill="#776bb0"/>
<circle cx="1187.9" cy="854.9" r="6.5" fill="#66499f"/>
<circle cx="1273.2" cy="729.7" r="5.3" fill="#64459d"/>
<circle cx="1216" cy="720.8" r="4" fill="#817ebb"/>
<circle cx="1386.4" cy="645.6" r="8.5" fill="#7567af"/>
<circle cx="1392.3" cy="637.4" r="6" fill="#766ab0"/>
<circle cx="1205.8" cy="730.6" r="2.6" fill="#7363ac"/>
<circle cx="1261" cy="749.2" r="4.2" fill="#62429c"/>
<circle cx="1269" cy="735.8" r="4.8" fill="#5f3d99"/>
<circle cx="1515.2" cy="539" r="9.2" fill="#7a71b4"/>
<circle cx="1501.3" cy="544.9" r="9.7" fill="#776cb1"/>
<circle cx="1167.1" cy="748.7" r="3.6" fill="#7363ac"/>
<circle cx="1260" cy="709.4" r="3.2" fill="#7364ad"/>
<circle cx="1231.9" cy="822.9" r="8.6" fill="#66499f"/>
<circle cx="1204.3" cy="840.5" r="8.2" fill="#7c75b6"/>
<circle cx="1157.7" cy="843.5" r="4.2" fill="#776bb1"/>
<circle cx="1269.5" cy="685.7" r="3.9" fill="#664aa0"/>
<circle cx="1159.1" cy="831.1" r="4.7" fill="#61409b"/>
<circle cx="1234.9" cy="720.5" r="2" fill="#694ea2"/>
<circle cx="1149.7" cy="822.9" r="3.7" fill="#684ea2"/>
<circle cx="1274.4" cy="789" r="12.2" fill="#776cb1"/>
<circle cx="1432.9" cy="590.9" r="5.9" fill="#715faa"/>
<circle cx="1364.2" cy="630.4" r="4.2" fill="#6d56a6"/>
<circle cx="1297.6" cy="662.1" r="3.4" fill="#7363ac"/>
<circle cx="1276.8" cy="753" r="7.2" fill="#796eb2"/>
<circle cx="1495.1" cy="507.5" r="3.3" fill="#664aa0"/>
<circle cx="1389.3" cy="608.9" r="3.4" fill="#7363ad"/>
<circle cx="1159.1" cy="786.8" r="5.5" fill="#6d57a6"/>
<circle cx="1272.6" cy="709.3" r="4.3" fill="#63459d"/>
<circle cx="1248.2" cy="743" r="4" fill="#684ca1"/>
<circle cx="1230" cy="752" r="5.7" fill="#664aa0"/>
<circle cx="1310.5" cy="703.3" r="4.5" fill="#6b52a4"/>
<circle cx="1278.3" cy="693.9" r="3.5" fill="#6a50a3"/>
<circle cx="1160.5" cy="782.2" r="3" fill="#64469e"/>
<circle cx="1292.6" cy="733.6" r="6.1" fill="#786db2"/>
<circle cx="1401.6" cy="653.1" r="7.8" fill="#796eb2"/>
<circle cx="1347" cy="650.2" r="4.6" fill="#63439c"/>
<circle cx="1168.4" cy="826.4" r="5.1" fill="#6e5aa8"/>
<circle cx="1234.8" cy="752.8" r="3.8" fill="#63449d"/>
<circle cx="1309.6" cy="692.9" r="5.2" fill="#684ca1"/>
<circle cx="1200" cy="862.3" r="8.1" fill="#7568af"/>
<circle cx="1295.7" cy="740.1" r="6.5" fill="#776bb1"/>
<circle cx="1218.9" cy="696" r="3.5" fill="#664aa0"/>
<circle cx="1210.6" cy="732" r="2.4" fill="#6e59a7"/>
<circle cx="1178.1" cy="857.3" r="7.3" fill="#7a72b4"/>
<circle cx="1165.6" cy="769.8" r="3" fill="#684ca1"/>
<circle cx="1435.9" cy="543.5" r="3.8" fill="#6f5ba8"/>
<circle cx="1176.9" cy="826.5" r="4.7" fill="#7669b0"/>
<circle cx="1265.3" cy="719" r="3.4" fill="#6e5aa8"/>
<circle cx="1172.1" cy="857.4" r="6.8" fill="#7b73b5"/>
<circle cx="1288.6" cy="782.2" r="7.2" fill="#7566ae"/>
<circle cx="1161.3" cy="818.8" r="4" fill="#684ea2"/>
<circle cx="1436.3" cy="610.1" r="10.2" fill="#776ab0"/>
<circle cx="1165.4" cy="810.5" r="5.7" fill="#62419b"/>
<circle cx="1349.6" cy="610.2" r="4.2" fill="#817ebb"/>
<circle cx="1351.9" cy="670.8" r="5.9" fill="#7568af"/>
<circle cx="1194.3" cy="801.7" r="4.5" fill="#64459d"/>
<circle cx="1229.7" cy="837.2" r="8.2" fill="#7b74b5"/>
<circle cx="1232.3" cy="788.4" r="5" fill="#786cb1"/>
<circle cx="1172.6" cy="858.6" r="6.5" fill="#776ab0"/>
<circle cx="1383.8" cy="671.4" r="8" fill="#786db2"/>
<circle cx="1153.3" cy="786.8" r="4.4" fill="#694fa2"/>
<circle cx="1159.7" cy="758.7" r="2.7" fill="#705daa"/>
<circle cx="1299.5" cy="753.8" r="6.9" fill="#7a70b3"/>
<circle cx="1148.6" cy="873.7" r="4.3" fill="#796fb3"/>
<circle cx="1441" cy="610.5" r="9.2" fill="#7567ae"/>
<circle cx="1324.9" cy="671.5" r="4.2" fill="#684ca1"/>
<circle cx="1193.2" cy="880.1" r="7" fill="#786db2"/>
<circle cx="1193.6" cy="779.7" r="4.8" fill="#6a51a3"/>
<circle cx="1277.6" cy="675.9" r="2.2" fill="#7465ad"/>
<circle cx="1271.3" cy="777" r="6.7" fill="#7669af"/>
<circle cx="1439.9" cy="579.6" r="4.5" fill="#7567af"/>
<circle cx="1188.8" cy="816.9" r="4" fill="#7b74b5"/>
<circle cx="1210.9" cy="767" r="4.9" fill="#6b53a4"/>
<circle cx="1347.5" cy="565.4" r="4" fill="#7c74b5"/>
<circle cx="1198.3" cy="797.9" r="4.7" fill="#65479e"/>
<circle cx="1144.5" cy="882.4" r="5.4" fill="#776ab0"/>
<circle cx="1192.6" cy="761.2" r="3.6" fill="#674ca1"/>
<circle cx="1164.2" cy="856.4" r="4.7" fill="#776cb1"/>
<circle cx="1156.6" cy="748.5" r="1.9" fill="#664aa0"/>
<circle cx="1396.5" cy="616.5" r="4.5" fill="#6d58a7"/>
<circle cx="1332.8" cy="680.5" r="5.4" fill="#664a9f"/>
<circle cx="1293.8" cy="727.8" r="5.2" fill="#776cb1"/>
<circle cx="1379.3" cy="612.6" r="3.4" fill="#6b54a5"/>
<circle cx="1363.4" cy="614.2" r="4.6" fill="#684da1"/>
<circle cx="1152.8" cy="898.8" r="8.9" fill="#786cb1"/>
<circle cx="1267.4" cy="767.8" r="6.7" fill="#7464ad"/>
<circle cx="1238.1" cy="727" r="4.1" fill="#63449d"/>
<circle cx="1324.9" cy="679.5" r="4.4" fill="#6950a2"/>
<circle cx="1429" cy="627.6" r="10.8" fill="#796eb2"/>
<circle cx="1340" cy="712.8" r="7.6" fill="#7567ae"/>
<circle cx="1184.5" cy="740.5" r="3.6" fill="#6c56a6"/>
<circle cx="1409.3" cy="597.4" r="3.9" fill="#7261ab"/>
<circle cx="1216.6" cy="792.1" r="4.9" fill="#7b73b5"/>
<circle cx="1447.4" cy="550.1" r="5.5" fill="#7261ab"/>
<circle cx="1407.2" cy="559" r="4.7" fill="#664aa0"/>
<circle cx="1189" cy="761.3" r="5" fill="#64469e"/>
<circle cx="1476.7" cy="509" r="3.4" fill="#6c56a5"/>
<circle cx="1227.2" cy="781.9" r="5.8" fill="#65479e"/>
<circle cx="1274.2" cy="762.4" r="7.6" fill="#7970b3"/>
<circle cx="1181.2" cy="840" r="6.2" fill="#7a70b3"/>
<circle cx="1155.3" cy="824.7" r="3.7" fill="#6f5ba8"/>
<circle cx="1310.5" cy="712.5" r="5.9" fill="#7568af"/>
<circle cx="1152.3" cy="751.5" r="1.9" fill="#664aa0"/>
<circle cx="1207.1" cy="805.4" r="4.5" fill="#776cb1"/>
<circle cx="1201.9" cy="717.6" r="2.9" fill="#7363ac"/>
<circle cx="1183" cy="837.7" r="6.1" fill="#7970b3"/>
<circle cx="1201.1" cy="773.9" r="4.3" fill="#63449d"/>
<circle cx="1151.4" cy="845.5" r="4" fill="#786db2"/>
<circle cx="1304.6" cy="681" r="3.8" fill="#674ca0"/>
<circle cx="1284.4" cy="654.1" r="3.7" fill="#6e58a7"/>
<circle cx="1332.8" cy="621.9" r="4.1" fill="#766ab0"/>
<circle cx="1309.6" cy="695.1" r="5.9" fill="#63439c"/>
<circle cx="1453.6" cy="529.5" r="3.2" fill="#684da1"/>
<circle cx="1181.6" cy="732.3" r="2.3" fill="#817ebb"/>
<circle cx="1154.9" cy="746.3" r="2.1" fill="#817ebb"/>
<circle cx="1234.7" cy="828.3" r="6.7" fill="#766ab0"/>
<circle cx="1363.7" cy="614.2" r="2" fill="#7260ab"/>
<circle cx="1241.7" cy="757.6" r="4.6" fill="#6a50a3"/>
<circle cx="1334.7" cy="688.2" r="5.6" fill="#786cb1"/>
<circle cx="1169.8" cy="796.3" r="4.3" fill="#613f9a"/>
<circle cx="1203.9" cy="831.7" r="5.6" fill="#7a72b4"/>
<circle cx="1254.7" cy="747.2" r="4.6" fill="#6a52a3"/>
<circle cx="1162.8" cy="752.1" r="3.9" fill="#8b87bf"/>
<circle cx="1183.8" cy="735.4" r="2.3" fill="#7363ac"/>
<circle cx="1233.5" cy="780" r="5.1" fill="#7b74b5"/>
<circle cx="1182" cy="893" r="8.1" fill="#7c75b6"/>
<circle cx="1303.2" cy="760.5" r="11.1" fill="#786db2"/>
<circle cx="1327.3" cy="707" r="5.8" fill="#7d76b6"/>
<circle cx="1376.9" cy="609.9" r="4" fill="#6b53a4"/>
<circle cx="1394.4" cy="620.2" r="4" fill="#694ea2"/>
<circle cx="1242.9" cy="693.4" r="3.2" fill="#6e58a7"/>
<circle cx="1226.2" cy="807" r="6.3" fill="#7669b0"/>
<circle cx="1154.9" cy="822.4" r="3.8" fill="#63449d"/>
<circle cx="1508.1" cy="522.9" r="3.9" fill="#7567ae"/>
<circle cx="1217.2" cy="794.2" r="5" fill="#7a70b3"/>
<circle cx="1201.3" cy="837.8" r="7" fill="#796eb2"/>
<circle cx="1204.6" cy="801" r="5.6" fill="#66489f"/>
<circle cx="1252.6" cy="738.1" r="5.8" fill="#63449d"/>
<circle cx="1144.6" cy="763.9" r="2.1" fill="#8b87bf"/>
<circle cx="1553" cy="466.7" r="5.5" fill="#7464ad"/>
<circle cx="1172.7" cy="828.1" r="4" fill="#7364ad"/>
<circle cx="1158.1" cy="893.8" r="8.8" fill="#7668af"/>
<circle cx="1196.9" cy="759.1" r="4.8" fill="#63449d"/>
<circle cx="1259.2" cy="693.3" r="2.3" fill="#664aa0"/>
<circle cx="1245.1" cy="810.2" r="6.5" fill="#796eb2"/>
<circle cx="1279.4" cy="746.5" r="6.5" fill="#7261ab"/>
<circle cx="1168.3" cy="849.1" r="5.5" fill="#66499f"/>
<circle cx="1233.8" cy="775.3" r="4.1" fill="#6b53a4"/>
<circle cx="1366.4" cy="683" r="9.1" fill="#66499f"/>
<circle cx="1244.6" cy="691.5" r="3.1" fill="#817ebb"/>
<circle cx="1255.7" cy="739.5" r="4.9" fill="#684da1"/>
<circle cx="1162" cy="780.3" r="4.6" fill="#684ea1"/>
<circle cx="1422.2" cy="572.8" r="4.6" fill="#7668af"/>
<circle cx="1176.4" cy="796.9" r="4.3" fill="#603e9a"/>
<circle cx="1542.5" cy="459.8" r="4.7" fill="#6e58a7"/>
<circle cx="1181.1" cy="836.2" r="5.4" fill="#7970b3"/>
<circle cx="1188.5" cy="806.1" r="5" fill="#6e59a7"/>
<circle cx="1336" cy="649.1" r="5.2" fill="#684ca1"/>
<circle cx="1223.1" cy="721.1" r="4.1" fill="#7363ac"/>
<circle cx="1365.3" cy="591.8" r="3.4" fill="#8b87bf"/>
<circle cx="1291.7" cy="753.9" r="8.7" fill="#66499f"/>
<circle cx="1358.6" cy="658.3" r="5.8" fill="#694fa2"/>
<circle cx="1185.3" cy="813.2" r="6.1" fill="#603f9a"/>
<circle cx="1209.4" cy="803" r="4.4" fill="#766ab0"/>
<circle cx="1243.4" cy="712.5" r="2.9" fill="#7464ad"/>
<circle cx="1239.7" cy="735.9" r="5.5" fill="#63449d"/>
<circle cx="1229.2" cy="729.3" r="2.9" fill="#6a51a3"/>
<circle cx="1286" cy="668.4" r="2.9" fill="#664aa0"/>
<circle cx="1294.4" cy="708.9" r="5.3" fill="#6e58a7"/>
<circle cx="1258.5" cy="731" r="4.9" fill="#64469e"/>
<circle cx="1153.4" cy="868" r="5.2" fill="#7567ae"/>
<circle cx="1211.9" cy="723.3" r="2.2" fill="#7464ad"/>
<circle cx="1372.6" cy="600.1" r="2.2" fill="#705ca9"/>
<circle cx="1544.7" cy="479.5" r="4.3" fill="#715eaa"/>
<circle cx="1249.7" cy="731.6" r="5.8" fill="#694fa2"/>
<circle cx="1147.6" cy="761.5" r="3.3" fill="#664aa0"/>
<circle cx="1342.7" cy="621.3" r="2.3" fill="#664aa0"/>
<circle cx="1200.5" cy="705.7" r="3.9" fill="#6e58a7"/>
<circle cx="1304.7" cy="653.8" r="4" fill="#664aa0"/>
<circle cx="1202.6" cy="804.9" r="4.1" fill="#786db2"/>
<circle cx="1484.4" cy="504.6" r="3.6" fill="#705ca9"/>
<circle cx="1267.8" cy="743.5" r="6.1" fill="#684ca1"/>
<circle cx="1444.2" cy="545.4" r="3.9" fill="#7160ab"/>
<circle cx="1191.6" cy="875.4" r="9.3" fill="#7a71b4"/>
<circle cx="1220.7" cy="711.7" r="2" fill="#6e58a7"/>
<circle cx="1291.5" cy="663" r="3.1" fill="#8b87bf"/>
<circle cx="1453.8" cy="562" r="4.4" fill="#766ab0"/>
<circle cx="1361.1" cy="600.9" r="3" fill="#8b87bf"/>
<circle cx="1161.8" cy="796.8" r="4.1" fill="#684da1"/>
<circle cx="1243.7" cy="736.9" r="5.5" fill="#63449d"/>
<circle cx="1420.7" cy="599.4" r="5" fill="#6c54a5"/>
<circle cx="1233.4" cy="813.6" r="9.2" fill="#776bb1"/>
<circle cx="1296.8" cy="735.5" r="7" fill="#776cb1"/>
<circle cx="1380.7" cy="656.5" r="7" fill="#786cb1"/>
<circle cx="1144.8" cy="782.6" r="3.8" fill="#6c56a6"/>
<circle cx="1512.5" cy="513.5" r="3.7" fill="#674ca1"/>
<circle cx="1421.2" cy="578.1" r="4" fill="#684ca1"/>
<circle cx="1147.4" cy="800.4" r="3.6" fill="#694fa2"/>
<circle cx="1259.2" cy="784" r="8.9" fill="#7465ad"/>
<circle cx="1208.8" cy="826.3" r="5.5" fill="#7b74b5"/>
<circle cx="1356.3" cy="576.6" r="4" fill="#664aa0"/>
<circle cx="1225.5" cy="757.1" r="4.5" fill="#674ba0"/>
<circle cx="1200.3" cy="764.4" r="4.9" fill="#705ca9"/>
<circle cx="1185.1" cy="843.7" r="4.9" fill="#776cb1"/>
<circle cx="1493.9" cy="555.4" r="7.3" fill="#786db2"/>
<circle cx="1160.1" cy="895.7" r="7.7" fill="#776bb0"/>
<circle cx="1442.6" cy="578.8" r="5.4" fill="#65489f"/>
<circle cx="1268" cy="791" r="11.5" fill="#7a71b4"/>
<circle cx="1173.2" cy="805.2" r="5.7" fill="#6c56a5"/>
<circle cx="1251.6" cy="684.6" r="3.2" fill="#766ab0"/>
<circle cx="1464.7" cy="597.4" r="11.1" fill="#776cb1"/>
<circle cx="1463" cy="570.1" r="6.1" fill="#776cb1"/>
<circle cx="1171" cy="749.1" r="2.3" fill="#7c74b5"/>
<circle cx="1241.3" cy="716.6" r="3.3" fill="#705ca9"/>
<circle cx="1196.4" cy="797.9" r="5.4" fill="#5f3b99"/>
<circle cx="1222.5" cy="777.1" r="5.2" fill="#66499f"/>
<circle cx="1163.5" cy="802.4" r="5.4" fill="#6950a3"/>
<circle cx="1315.2" cy="728.5" r="8.2" fill="#786eb2"/>
<circle cx="1379.7" cy="589.8" r="3.3" fill="#7260ab"/>
<circle cx="1293" cy="749.2" r="9.3" fill="#7669b0"/>
<circle cx="1302.2" cy="737" r="5.7" fill="#766ab0"/>
<circle cx="1178.9" cy="830.7" r="5" fill="#7568af"/>
<circle cx="1388.5" cy="651.7" r="9" fill="#766ab0"/>
<circle cx="1270.6" cy="743" r="4.9" fill="#7a71b4"/>
<circle cx="1315.3" cy="700.9" r="4.9" fill="#6c55a5"/>
<circle cx="1265.3" cy="682.8" r="2.8" fill="#817ebb"/>
<circle cx="1149.1" cy="748.8" r="2.2" fill="#7363ac"/>
<circle cx="1278.7" cy="782.7" r="9.8" fill="#796fb3"/>
<circle cx="1177.1" cy="861.6" r="7.7" fill="#776cb1"/>
<circle cx="1216.3" cy="796.7" r="4.6" fill="#776bb0"/>
<circle cx="1176.1" cy="798.2" r="5.5" fill="#6950a3"/>
<circle cx="1194.1" cy="835" r="5.5" fill="#766ab0"/>
<circle cx="1200.8" cy="782.4" r="5.9" fill="#684da1"/>
<circle cx="1161.9" cy="759.9" r="2" fill="#705da9"/>
<circle cx="1154.2" cy="813" r="5.2" fill="#6b53a4"/>
<circle cx="1230.2" cy="727.8" r="3.6" fill="#664a9f"/>
<circle cx="1161.8" cy="772.9" r="4.8" fill="#6b53a4"/>
<circle cx="1219" cy="815.8" r="5.1" fill="#796eb2"/>
<circle cx="1288.7" cy="668.9" r="3.7" fill="#766ab0"/>
<circle cx="1217.5" cy="784.3" r="3.8" fill="#64469e"/>
<circle cx="1505.9" cy="485.5" r="3.9" fill="#8b87bf"/>
<circle cx="1249.1" cy="794.8" r="8.4" fill="#7c74b6"/>
<circle cx="1239.5" cy="760.6" r="3.9" fill="#6b54a4"/>
<circle cx="1198" cy="851.6" r="8.8" fill="#776bb1"/>
<circle cx="1146.4" cy="801.3" r="3.6" fill="#6950a2"/>
<circle cx="1182.5" cy="809.4" r="5.9" fill="#6a50a3"/>
<circle cx="1536.8" cy="511.7" r="10.2" fill="#776ab0"/>
<circle cx="1319.3" cy="730.7" r="7.7" fill="#7c75b6"/>
<circle cx="1253.9" cy="741.9" r="4.7" fill="#715eaa"/>
<circle cx="1339" cy="705.6" r="9.2" fill="#786db2"/>
<circle cx="1433.7" cy="561.2" r="5.1" fill="#694ea2"/>
<circle cx="1180.3" cy="760.5" r="3.2" fill="#61409b"/>
<circle cx="1155.2" cy="855.2" r="5.4" fill="#7a72b4"/>
<circle cx="1207.9" cy="834.4" r="7.4" fill="#7b72b4"/>
<circle cx="1261.6" cy="771" r="6.6" fill="#776cb1"/>
<circle cx="1239.3" cy="797.2" r="6.1" fill="#7466ae"/>
<circle cx="1356.6" cy="592.2" r="2.5" fill="#766ab0"/>
<circle cx="1229" cy="792.3" r="5.1" fill="#7465ae"/>
<circle cx="1186.9" cy="736.2" r="2.4" fill="#766ab0"/>
<circle cx="1242.6" cy="726.2" r="3.1" fill="#664aa0"/>
<circle cx="1266.8" cy="741.2" r="6.2" fill="#694fa2"/>
<circle cx="1202.7" cy="757.1" r="4.8" fill="#65479e"/>
<circle cx="1361.3" cy="653" r="5" fill="#6b52a4"/>
<circle cx="1176.1" cy="737.5" r="2" fill="#817ebb"/>
<circle cx="1352.6" cy="605.9" r="3.2" fill="#6e58a7"/>
<circle cx="1281.1" cy="684.1" r="3.2" fill="#6d58a6"/>
<circle cx="1175.1" cy="726.9" r="3.8" fill="#766ab0"/>
<circle cx="1289.4" cy="763.6" r="6.5" fill="#776ab0"/>
<circle cx="1166.1" cy="790.5" r="3.2" fill="#63439c"/>
<circle cx="1150.9" cy="838.1" r="4.3" fill="#62419c"/>
<circle cx="1247.3" cy="697.9" r="3.3" fill="#6e59a7"/>
<circle cx="1274.8" cy="692.6" r="2.4" fill="#6f5aa8"/>
<circle cx="1436.9" cy="538" r="2.4" fill="#664aa0"/>
<circle cx="1275.3" cy="732.1" r="5.3" fill="#65489f"/>
<circle cx="1245.8" cy="739.7" r="5.2" fill="#64459d"/>
<circle cx="1167" cy="775.3" r="4.8" fill="#65479e"/>
<circle cx="1151.3" cy="772.9" r="3.7" fill="#7363ac"/>
<circle cx="1145.8" cy="761.3" r="3.8" fill="#8b87bf"/>
<circle cx="1392.6" cy="634.4" r="5.5" fill="#776bb1"/>
<circle cx="1302.3" cy="728.4" r="5.3" fill="#786cb1"/>
<circle cx="1219.4" cy="743.2" r="4.1" fill="#6a50a3"/>
<circle cx="1345.1" cy="699" r="8" fill="#7970b3"/>
<circle cx="1188.5" cy="831.5" r="5.4" fill="#7669af"/>
<circle cx="1264.8" cy="736.8" r="5.6" fill="#6a52a3"/>
<circle cx="1215.1" cy="721.5" r="2.2" fill="#817ebb"/>
<circle cx="1351" cy="704.1" r="8.4" fill="#7668af"/>
<circle cx="1248.4" cy="730.4" r="3.9" fill="#65489f"/>
<circle cx="1162.6" cy="847.9" r="4.7" fill="#7a72b4"/>
<circle cx="1168.2" cy="750.1" r="2.8" fill="#664aa0"/>
<circle cx="1178.7" cy="745.5" r="2.8" fill="#7c74b5"/>
<circle cx="1380.3" cy="677.7" r="10.5" fill="#776bb1"/>
<circle cx="1308.1" cy="680.1" r="4.9" fill="#64459d"/>
<circle cx="1270.1" cy="733.9" r="6.1" fill="#63449d"/>
<circle cx="1335.1" cy="690" r="6.6" fill="#7970b3"/>
<circle cx="1327.9" cy="732.6" r="11.3" fill="#7d77b7"/>
<circle cx="1296.4" cy="705" r="4.6" fill="#63449d"/>
<circle cx="1173.3" cy="803.8" r="5.5" fill="#65489f"/>
<circle cx="1265.1" cy="680.8" r="2.7" fill="#6e58a7"/>
<circle cx="1545.5" cy="511.7" r="11.5" fill="#776ab0"/>
<circle cx="1378.2" cy="633.6" r="5.5" fill="#7262ac"/>
<circle cx="1311" cy="739.5" r="8.9" fill="#66499f"/>
<circle cx="1187.3" cy="798.4" r="3.8" fill="#705da9"/>
<circle cx="1319.8" cy="702.6" r="6.2" fill="#7b73b5"/>
<circle cx="1188.1" cy="877.7" r="8.6" fill="#7a71b4"/>
<circle cx="1161.7" cy="777.7" r="5" fill="#5f3b99"/>
<circle cx="1162.2" cy="836.7" r="3.8" fill="#776bb1"/>
<circle cx="1216.1" cy="723.8" r="3.4" fill="#664aa0"/>
<circle cx="1188.1" cy="777.3" r="4.5" fill="#63449d"/>
<circle cx="1532.9" cy="502.2" r="4.5" fill="#7261ac"/>
<circle cx="1313" cy="646.4" r="3.5" fill="#8b87bf"/>
<circle cx="1155.7" cy="737.6" r="3" fill="#7363ac"/>
<circle cx="1158.2" cy="797.6" r="5.7" fill="#6c55a5"/>
<circle cx="1250.5" cy="692.5" r="2.4" fill="#6e58a7"/>
<circle cx="1489.7" cy="565.6" r="11.8" fill="#786cb1"/>
<circle cx="1239.6" cy="701" r="2.1" fill="#766ab0"/>
<circle cx="1281.8" cy="779.5" r="8.4" fill="#786cb1"/>
<circle cx="1333.5" cy="636.8" r="3.6" fill="#6f5ba8"/>
<circle cx="1187.7" cy="741" r="1.9" fill="#7c74b5"/>
<circle cx="1302.9" cy="657.4" r="2.6" fill="#817ebb"/>
<circle cx="1407.4" cy="649.3" r="12.3" fill="#776cb1"/>
<circle cx="1217.2" cy="847.5" r="7.8" fill="#7669b0"/>
<circle cx="1162.6" cy="752.1" r="3.4" fill="#8b87bf"/>
<circle cx="1330.8" cy="643.7" r="2.5" fill="#705daa"/>
<circle cx="1319.4" cy="642.1" r="4.1" fill="#664aa0"/>
<circle cx="1357.5" cy="662.3" r="4" fill="#6b53a4"/>
<circle cx="1371.4" cy="583.4" r="2.7" fill="#7c74b5"/>
<circle cx="1385.2" cy="646.8" r="7.8" fill="#796fb2"/>
<circle cx="1519.7" cy="503.2" r="5.4" fill="#7669af"/>
<circle cx="1520.5" cy="528.2" r="8.5" fill="#7668af"/>
<circle cx="1348.1" cy="654" r="5.5" fill="#64469e"/>
<circle cx="1171.2" cy="775.6" r="3.2" fill="#684ea1"/>
<circle cx="1232.4" cy="756.7" r="5.2" fill="#65479e"/>
<circle cx="1301.8" cy="686.9" r="5.4" fill="#65489f"/>
<circle cx="1186.7" cy="768" r="4.2" fill="#6950a3"/>
<circle cx="1521.4" cy="478.7" r="2.5" fill="#7568af"/>
<circle cx="1177.5" cy="865.3" r="6.8" fill="#7a71b4"/>
<circle cx="1163.6" cy="876.4" r="6.9" fill="#7b73b5"/>
<circle cx="1235.8" cy="724.6" r="4.1" fill="#6e59a7"/>
<circle cx="1226.6" cy="817.3" r="9" fill="#7a72b4"/>
<circle cx="1376" cy="616.5" r="5.3" fill="#7464ad"/>
<circle cx="1269.5" cy="730.6" r="3.7" fill="#63439c"/>
<circle cx="1446.6" cy="572.7" r="5.3" fill="#7260ab"/>
<circle cx="1292.6" cy="666" r="3.6" fill="#766ab0"/>
<circle cx="1337.7" cy="641.8" r="5.3" fill="#674ba0"/>
<circle cx="1148.8" cy="817.8" r="4.5" fill="#664a9f"/>
<circle cx="1146.3" cy="796.3" r="3.4" fill="#6d58a6"/>
<circle cx="1238.9" cy="768.4" r="6" fill="#674ca0"/>
<circle cx="1175.7" cy="738.4" r="3.6" fill="#817ebb"/>
<circle cx="1182" cy="802.2" r="5.2" fill="#66499f"/>
<circle cx="1165" cy="901.9" r="7.6" fill="#786eb2"/>
<circle cx="1167.2" cy="862" r="6.3" fill="#786eb2"/>
<circle cx="1199.5" cy="779.8" r="3.4" fill="#64459d"/>
<circle cx="1519.3" cy="515.6" r="8.1" fill="#7a70b3"/>
<circle cx="1483.2" cy="520.5" r="4.5" fill="#674ca1"/>
<circle cx="1200" cy="762.2" r="5.1" fill="#664aa0"/>
<circle cx="1219.9" cy="718.3" r="3.4" fill="#6e58a7"/>
<circle cx="1278.2" cy="721.7" r="4.1" fill="#65489f"/>
<circle cx="1259" cy="800.9" r="9.4" fill="#7669af"/>
<circle cx="1512.1" cy="510.9" r="4.7" fill="#786db1"/>
<circle cx="1400.3" cy="618.5" r="6" fill="#684ea2"/>
<circle cx="1318.5" cy="678.3" r="5.5" fill="#6c54a5"/>
<circle cx="1309.5" cy="667.5" r="4.6" fill="#6b54a4"/>
<circle cx="1328.4" cy="665" r="4.9" fill="#694fa2"/>
<circle cx="1209.5" cy="754.8" r="4.7" fill="#64459d"/>
<circle cx="1402.8" cy="589.8" r="4.5" fill="#7160ab"/>
<circle cx="1321.4" cy="709.7" r="6.4" fill="#776ab0"/>
<circle cx="1207.2" cy="831.3" r="6.2" fill="#796fb3"/>
<circle cx="1252" cy="777.4" r="5.6" fill="#776ab0"/>
<circle cx="1250.9" cy="738.5" r="4.4" fill="#63439d"/>
<circle cx="1263" cy="710.5" r="3.5" fill="#6b52a4"/>
<circle cx="1167.2" cy="850.7" r="5.5" fill="#7567af"/>
<circle cx="1248.4" cy="694.4" r="3.5" fill="#664aa0"/>
<circle cx="1472.7" cy="511.9" r="3.1" fill="#6c55a5"/>
<circle cx="1511.7" cy="492.7" r="3.6" fill="#6b54a4"/>
<circle cx="1226.6" cy="720.2" r="4.1" fill="#66499f"/>
<circle cx="1246" cy="690.5" r="2.4" fill="#6e58a7"/>
<circle cx="1204.2" cy="729.7" r="2.6" fill="#766ab0"/>
<circle cx="1201.5" cy="727.1" r="3.5" fill="#7c74b5"/>
<circle cx="1208.7" cy="743.5" r="5.4" fill="#684ea2"/>
<circle cx="1147.2" cy="761.4" r="3.4" fill="#6e58a7"/>
<circle cx="1157.3" cy="774.9" r="4.3" fill="#61409b"/>
<circle cx="1269.1" cy="778" r="9.1" fill="#796fb3"/>
<circle cx="1347.6" cy="606.1" r="2.2" fill="#664aa0"/>
<circle cx="1156.5" cy="751" r="3.7" fill="#7363ac"/>
<circle cx="1206" cy="767.5" r="4.1" fill="#6e59a7"/>
<circle cx="1276.8" cy="666" r="3.4" fill="#6e58a7"/>
<circle cx="1157.6" cy="846" r="4.2" fill="#776cb1"/>
<circle cx="1290.2" cy="712.6" r="4.2" fill="#63449d"/>
<circle cx="1200.6" cy="730.2" r="2" fill="#6e58a7"/>
<circle cx="1233.8" cy="739.6" r="4.3" fill="#66489f"/>
<circle cx="1193.2" cy="747.9" r="3.2" fill="#705eaa"/>
<circle cx="1217.5" cy="774.5" r="5.9" fill="#64469e"/>
<circle cx="1163.2" cy="817.1" r="3.8" fill="#64459d"/>
<circle cx="1387.8" cy="594.8" r="3.2" fill="#6d57a6"/>
<circle cx="1239.3" cy="799.4" r="6.3" fill="#7465ad"/>
<circle cx="1395.5" cy="664.4" r="11.1" fill="#7465ad"/>
<circle cx="1455.8" cy="605.5" r="10.7" fill="#66499f"/>
<circle cx="1324.9" cy="638.2" r="3.3" fill="#7363ac"/>
<circle cx="1155.5" cy="784.6" r="5.1" fill="#64469e"/>
<circle cx="1398.1" cy="627.5" r="6.1" fill="#7669b0"/>
<circle cx="1159.8" cy="754.7" r="1.9" fill="#766ab0"/>
<circle cx="1154.5" cy="826.6" r="5" fill="#6d58a7"/>
<circle cx="1163.6" cy="782.7" r="3.5" fill="#6e59a7"/>
<circle cx="1383.5" cy="625.1" r="4.4" fill="#7566ae"/>
<circle cx="1545.7" cy="465.5" r="2.7" fill="#6f5ba8"/>
<circle cx="1217.4" cy="719.1" r="3.2" fill="#766ab0"/>
<circle cx="1163.9" cy="770.4" r="4.7" fill="#694fa2"/>
<circle cx="1419.9" cy="569" r="3.4" fill="#66499f"/>
<circle cx="1451.2" cy="533.6" r="3" fill="#6f5ba8"/>
<circle cx="1487.1" cy="509.3" r="2" fill="#786eb2"/>
<circle cx="1429.3" cy="638.6" r="14.2" fill="#7567ae"/>
<circle cx="1447.1" cy="547.3" r="4.8" fill="#6f5ba8"/>
<circle cx="1452.6" cy="525.9" r="3.3" fill="#715eaa"/>
<circle cx="1511" cy="527.7" r="7.9" fill="#776bb0"/>
<circle cx="1275.4" cy="726.2" r="4.5" fill="#63449d"/>
<circle cx="1311.9" cy="725" r="7.1" fill="#7a72b4"/>
<circle cx="1159.6" cy="889.1" r="5.7" fill="#66499f"/>
<circle cx="1353.8" cy="673.3" r="5.6" fill="#796fb3"/>
<circle cx="1402.9" cy="651.1" r="7.2" fill="#7c76b6"/>
<circle cx="1173.4" cy="826.2" r="4.4" fill="#664aa0"/>
<circle cx="1189.7" cy="746" r="2.2" fill="#6f5ca9"/>
<circle cx="1175.1" cy="779.7" r="3.8" fill="#63449d"/>
<circle cx="1523.8" cy="506.3" r="4.3" fill="#7668af"/>
<circle cx="1222.8" cy="713" r="3.8" fill="#7c74b5"/>
<circle cx="1170.6" cy="804.6" r="4.1" fill="#694ea2"/>
<circle cx="1174.7" cy="800.1" r="4.7" fill="#674ba0"/>
<circle cx="1200.4" cy="726.1" r="2.2" fill="#817ebb"/>
<circle cx="1151.3" cy="867.9" r="5.5" fill="#786eb2"/>
<circle cx="1198.5" cy="830.1" r="4.6" fill="#7465ae"/>
<circle cx="1509.3" cy="481.3" r="2.1" fill="#6d57a6"/>
<circle cx="1233.8" cy="734.1" r="4.5" fill="#62429c"/>
<circle cx="1452.4" cy="578.3" r="6.1" fill="#796eb2"/>
<circle cx="1161" cy="893.6" r="9.4" fill="#7c74b5"/>
<circle cx="1419.5" cy="606.4" r="3.9" fill="#7568af"/>
<circle cx="1169.8" cy="855.6" r="4.8" fill="#7a71b3"/>
<circle cx="1149.8" cy="819.6" r="6" fill="#6c55a5"/>
<circle cx="1490.8" cy="533.7" r="4.6" fill="#705da9"/>
<circle cx="1186.1" cy="754.8" r="3.1" fill="#664aa0"/>
<circle cx="1247.6" cy="723.2" r="5" fill="#66499f"/>
<circle cx="1284.9" cy="690" r="2.9" fill="#6a52a4"/>
<circle cx="1282" cy="749.6" r="6" fill="#776ab0"/>
<circle cx="1334.9" cy="600.3" r="3.8" fill="#6e58a7"/>
<circle cx="1352" cy="583.1" r="2.8" fill="#7c74b5"/>
<circle cx="1292.7" cy="755.9" r="8.9" fill="#66499f"/>
<circle cx="1178.5" cy="887.3" r="6.8" fill="#796fb3"/>
<circle cx="1156.4" cy="805.4" r="3.4" fill="#664aa0"/>
<circle cx="1259.7" cy="763.4" r="5.8" fill="#7669b0"/>
<circle cx="1542.2" cy="488.7" r="5.6" fill="#766ab0"/>
<circle cx="1247.2" cy="802.7" r="8.2" fill="#776cb1"/>
<circle cx="1305.3" cy="748.2" r="7.3" fill="#807cba"/>
<circle cx="1219.5" cy="719.6" r="2.5" fill="#766ab0"/>
<circle cx="1379.4" cy="621.1" r="5.2" fill="#6e58a7"/>
<circle cx="1519.5" cy="527.2" r="7" fill="#66499f"/>
<circle cx="1295.5" cy="729.1" r="5.2" fill="#766ab0"/>
<circle cx="1199.2" cy="815.5" r="5.3" fill="#776bb0"/>
<circle cx="1156.8" cy="811.6" r="3.5" fill="#65489f"/>
<circle cx="1310.6" cy="642.2" r="3.1" fill="#7c74b5"/>
<circle cx="1269.1" cy="753.9" r="4.9" fill="#66499f"/>
<circle cx="1282.6" cy="727.8" r="4.4" fill="#6a51a3"/>
<circle cx="1276" cy="680.1" r="3.7" fill="#6e58a7"/>
<circle cx="1164.8" cy="750.5" r="2.2" fill="#6e58a7"/>
<circle cx="1289.6" cy="720.1" r="4.5" fill="#6a50a3"/>
<circle cx="1345.9" cy="686" r="6" fill="#7c74b5"/>
<circle cx="1323.2" cy="689.4" r="6" fill="#694fa2"/>
<circle cx="1152.4" cy="709.8" r="2.9" fill="#664aa0"/>
<circle cx="1206.9" cy="757.3" r="4.3" fill="#66499f"/>
<circle cx="1159.4" cy="739.8" r="2" fill="#766ab0"/>
<circle cx="1277.6" cy="765.4" r="7.3" fill="#7669af"/>
<circle cx="1202.6" cy="852" r="6" fill="#776cb1"/>
<circle cx="1196.2" cy="785.2" r="5.3" fill="#674ba0"/>
<circle cx="1167.5" cy="798.8" r="4.7" fill="#6b53a4"/>
<circle cx="1309.3" cy="647.3" r="2.5" fill="#766ab0"/>
<circle cx="1241.3" cy="750.5" r="5.6" fill="#66499f"/>
<circle cx="1180.1" cy="827.9" r="4.1" fill="#766ab0"/>
<circle cx="1189.3" cy="811.7" r="5.1" fill="#66499f"/>
<circle cx="1295.2" cy="634.3" r="3" fill="#766ab0"/>
<circle cx="1514.2" cy="475.8" r="5" fill="#664aa0"/>
<circle cx="1346.3" cy="684.4" r="6" fill="#796fb2"/>
<circle cx="1327.5" cy="627" r="4" fill="#8b87bf"/>
<circle cx="1509.8" cy="529.4" r="6.9" fill="#776cb1"/>
<circle cx="1185.1" cy="881.6" r="6.1" fill="#7a72b4"/>
<circle cx="1178.5" cy="791.3" r="4.7" fill="#664aa0"/>
<circle cx="1210.6" cy="766.1" r="3.2" fill="#6d56a6"/>
<circle cx="1226.3" cy="787.8" r="4.8" fill="#776cb1"/>
<circle cx="1512" cy="514.4" r="5.2" fill="#786cb1"/>
<circle cx="1277.8" cy="672.2" r="2.5" fill="#7363ac"/>
<circle cx="1335.6" cy="641.5" r="5.4" fill="#6c55a5"/>
<circle cx="1251.5" cy="795.6" r="7.4" fill="#66499f"/>
<circle cx="1348.4" cy="613" r="2.4" fill="#6e58a7"/>
<circle cx="1146.5" cy="873.9" r="4.3" fill="#776bb1"/>
<circle cx="1333.8" cy="628.2" r="2.5" fill="#8b87bf"/>
<circle cx="1162.7" cy="844.7" r="4.9" fill="#7970b3"/>
<circle cx="1186.4" cy="715.5" r="3" fill="#664aa0"/>
<circle cx="1283.2" cy="662.1" r="3.1" fill="#766ab0"/>
<circle cx="1243.9" cy="789.1" r="8" fill="#766ab0"/>
<circle cx="1368.2" cy="675.7" r="7.1" fill="#786db1"/>
<circle cx="1457" cy="541" r="4.6" fill="#776cb1"/>
<circle cx="1437.4" cy="544.9" r="3.8" fill="#694ea2"/>
<circle cx="1185.3" cy="882.9" r="9.9" fill="#7669b0"/>
<circle cx="1238.3" cy="778.4" r="5.3" fill="#766ab0"/>
<circle cx="1190.5" cy="820.2" r="4.8" fill="#776cb1"/>
<circle cx="1337" cy="603.3" r="3" fill="#7363ac"/>
<circle cx="1161.5" cy="755.4" r="3.2" fill="#766ab0"/>
<circle cx="1427.3" cy="566.9" r="4.2" fill="#6a50a3"/>
<circle cx="1182.3" cy="755.5" r="2.9" fill="#786db2"/>
<circle cx="1155.6" cy="804.1" r="4.9" fill="#6b53a4"/>
<circle cx="1446.2" cy="555.8" r="5.1" fill="#7669af"/>
<circle cx="1172" cy="843.9" r="5.6" fill="#7a70b3"/>
<circle cx="1328.3" cy="695.6" r="6.4" fill="#7567ae"/>
<circle cx="1459" cy="562.2" r="6" fill="#7567ae"/>
<circle cx="1331.4" cy="674.8" r="4.8" fill="#6d57a6"/>
<circle cx="1500.8" cy="526.6" r="4.2" fill="#64469e"/>
<circle cx="1288.1" cy="663.7" r="3.2" fill="#766ab0"/>
<circle cx="1222.1" cy="816.4" r="5.2" fill="#7669af"/>
<circle cx="1210.9" cy="727.3" r="2.8" fill="#8b87bf"/>
<circle cx="1466.2" cy="543.4" r="5.7" fill="#6e59a7"/>
<circle cx="1167.6" cy="825.6" r="5.7" fill="#674ba0"/>
<circle cx="1473.2" cy="527.9" r="3.2" fill="#715faa"/>
<circle cx="1416.2" cy="580.2" r="5.4" fill="#6c55a5"/>
<circle cx="1183" cy="737.7" r="3.4" fill="#7363ac"/>
<circle cx="1484.7" cy="558.8" r="9.9" fill="#776bb1"/>
<circle cx="1213.2" cy="851.1" r="10" fill="#796fb3"/>
<circle cx="1154" cy="778.5" r="3.3" fill="#6950a2"/>
<circle cx="1526" cy="513.6" r="7.1" fill="#766ab0"/>
<circle cx="1270.1" cy="726.5" r="5.7" fill="#684ea2"/>
<circle cx="1190.7" cy="740.1" r="3.5" fill="#7260ab"/>
<circle cx="1278.4" cy="744" r="4.9" fill="#786eb2"/>
<circle cx="1344.7" cy="674.8" r="4.9" fill="#66499f"/>
<circle cx="1237.1" cy="768.4" r="5" fill="#664aa0"/>
<circle cx="1460.1" cy="531.3" r="4.2" fill="#7566ae"/>
<circle cx="1213.9" cy="769" r="4.2" fill="#694fa2"/>
<circle cx="1502.8" cy="507.5" r="3.5" fill="#776bb1"/>
<circle cx="1265.8" cy="683" r="3.4" fill="#8b87bf"/>
<circle cx="1145.8" cy="814.9" r="4.7" fill="#6950a2"/>
<circle cx="1219.6" cy="847.1" r="7.3" fill="#776bb1"/>
<circle cx="1190.2" cy="831.9" r="5.1" fill="#7568af"/>
<circle cx="1418" cy="574.6" r="3.4" fill="#674ca1"/>
<circle cx="1328.5" cy="703.6" r="6.6" fill="#796eb2"/>
<circle cx="1197.6" cy="847.1" r="7.2" fill="#776cb1"/>
<circle cx="1193.2" cy="781.9" r="5.5" fill="#64469e"/>
<circle cx="1297.3" cy="710.7" r="5.7" fill="#6d56a6"/>
<circle cx="1168.5" cy="903.6" r="10.7" fill="#776bb1"/>
<circle cx="1223.2" cy="790.6" r="4.8" fill="#776ab0"/>
<circle cx="1314.2" cy="695" r="4.1" fill="#684ea1"/>
<circle cx="1273.6" cy="729.9" r="4.5" fill="#684da1"/>
<circle cx="1261.6" cy="753.8" r="4.7" fill="#776bb0"/>
<circle cx="1167.7" cy="778.4" r="3.1" fill="#64459d"/>
<circle cx="1258.2" cy="761.1" r="5.1" fill="#7a71b4"/>
<circle cx="1305.3" cy="642.3" r="3.8" fill="#8b87bf"/>
<circle cx="1442.7" cy="575.9" r="6" fill="#6b53a4"/>
<circle cx="1273.1" cy="750.3" r="5.2" fill="#796fb3"/>
<circle cx="1225.2" cy="770.1" r="5.2" fill="#6b53a4"/>
<circle cx="1488.1" cy="546.2" r="7.7" fill="#796fb3"/>
<circle cx="1299.2" cy="660.5" r="3.8" fill="#7c74b5"/>
<circle cx="1420.5" cy="588.5" r="3.9" fill="#7262ac"/>
<circle cx="1169" cy="818.3" r="3.9" fill="#6a50a3"/>
<circle cx="1369.8" cy="646.6" r="5.6" fill="#694fa2"/>
<circle cx="1324" cy="723.3" r="6.6" fill="#66499f"/>
<circle cx="1226.7" cy="760" r="4.5" fill="#664aa0"/>
<circle cx="1183.6" cy="806.6" r="4.6" fill="#674ba0"/>
<circle cx="1318.6" cy="750.7" r="12.8" fill="#7566ae"/>
<circle cx="1405" cy="640.5" r="9.6" fill="#786db2"/>
<circle cx="1337.2" cy="684.1" r="5.9" fill="#64459d"/>
<circle cx="1180.3" cy="741.1" r="3.2" fill="#7262ac"/>
<circle cx="1429.8" cy="562.9" r="4.6" fill="#7362ac"/>
<circle cx="1216" cy="800.7" r="4.7" fill="#7567ae"/>
<circle cx="1264.5" cy="687.6" r="2.3" fill="#817ebb"/>
<circle cx="1515.1" cy="497.9" r="4.7" fill="#6d56a6"/>
<circle cx="1403.1" cy="583.5" r="5.4" fill="#6d56a6"/>
<circle cx="1347.8" cy="711.6" r="12.2" fill="#7b73b5"/>
<circle cx="1491.5" cy="534.9" r="4.6" fill="#674ba0"/>
<circle cx="1292.9" cy="674.5" r="3.5" fill="#7364ad"/>
<circle cx="1397.3" cy="634.7" r="6.7" fill="#7669b0"/>
<circle cx="1389.6" cy="555" r="2.5" fill="#664aa0"/>
<circle cx="1295.4" cy="645.1" r="3.6" fill="#766ab0"/>
<circle cx="1226.4" cy="785.6" r="4.9" fill="#776cb1"/>
<circle cx="1204.6" cy="767" r="3.5" fill="#63449d"/>
<circle cx="1206" cy="776.4" r="3.6" fill="#684da1"/>
<circle cx="1164.3" cy="743.9" r="3.5" fill="#817ebb"/>
<circle cx="1149.1" cy="784.6" r="4.3" fill="#6a50a3"/>
<circle cx="1155.8" cy="753.1" r="2.1" fill="#8b87bf"/>
<circle cx="1208" cy="721" r="3.3" fill="#6e58a7"/>
<circle cx="1326.1" cy="696.1" r="5.1" fill="#684da1"/>
<circle cx="1170.1" cy="778.2" r="5.5" fill="#674ca1"/>
<circle cx="1291" cy="741.3" r="6.5" fill="#7970b3"/>
<circle cx="1308.7" cy="640.2" r="3.7" fill="#7363ac"/>
<circle cx="1160" cy="756.5" r="2.2" fill="#7c74b5"/>
<circle cx="1535.2" cy="509.4" r="8.3" fill="#786db2"/>
<circle cx="1430.1" cy="563.4" r="4.2" fill="#7b73b5"/>
<circle cx="1284" cy="717.4" r="5.4" fill="#63439d"/>
<circle cx="1323.2" cy="672.3" r="5.4" fill="#705ca9"/>
<circle cx="1332" cy="716.4" r="8.3" fill="#7b72b4"/>
<circle cx="1390.8" cy="586.2" r="2.5" fill="#7160ab"/>
<circle cx="1154.3" cy="815" r="4.5" fill="#63459d"/>
<circle cx="1374.6" cy="591.6" r="2.3" fill="#6e58a7"/>
<circle cx="1208.9" cy="755.5" r="4.3" fill="#674aa0"/>
<circle cx="1265.6" cy="704.8" r="5.2" fill="#64469e"/>
<circle cx="1149.7" cy="840" r="6" fill="#6a51a3"/>
<circle cx="1169.4" cy="805.1" r="5.1" fill="#664aa0"/>
<circle cx="1260.4" cy="762.5" r="5.1" fill="#66499f"/>
<circle cx="1227.5" cy="823.8" r="8.6" fill="#796eb2"/>
<circle cx="1223.6" cy="802.3" r="5.5" fill="#796fb2"/>
<circle cx="1294.1" cy="665.4" r="2.9" fill="#817ebb"/>
<circle cx="1307.4" cy="710.8" r="3.9" fill="#63449d"/>
<circle cx="1281.7" cy="678.1" r="2.3" fill="#7261ab"/>
<circle cx="1252.9" cy="801.7" r="9.9" fill="#7668af"/>
<circle cx="1228.8" cy="787.3" r="4.6" fill="#7b73b5"/>
<circle cx="1153.9" cy="800.6" r="5.5" fill="#684ca1"/>
<circle cx="1186.7" cy="769.8" r="4.5" fill="#694ea2"/>
<circle cx="1246.9" cy="744.1" r="5.2" fill="#674ba0"/>
<circle cx="1266.5" cy="674" r="4" fill="#6e58a7"/>
<circle cx="1167.7" cy="870" r="5.6" fill="#776bb0"/>
<circle cx="1235.9" cy="818.7" r="9" fill="#7568af"/>
<circle cx="1225.9" cy="772.1" r="5.5" fill="#6e59a7"/>
<circle cx="1173.5" cy="790.4" r="3.4" fill="#6e58a7"/>
<circle cx="1319.5" cy="672.7" r="3.4" fill="#6a51a3"/>
<circle cx="1167" cy="752.1" r="2.4" fill="#817ebb"/>
<circle cx="1154.4" cy="773.9" r="4.1" fill="#6a51a3"/>
<circle cx="1413.1" cy="631.8" r="8.9" fill="#786db2"/>
<circle cx="1199.3" cy="724.2" r="2.9" fill="#766ab0"/>
<circle cx="1156.8" cy="786.1" r="4.6" fill="#674ba0"/>
<circle cx="1233.9" cy="719.6" r="4.2" fill="#7261ab"/>
<circle cx="1533.3" cy="501.2" r="5" fill="#65479e"/>
<circle cx="1267.1" cy="706.8" r="3.2" fill="#6b52a4"/>
<circle cx="1163.7" cy="869.4" r="6.7" fill="#776bb1"/>
<circle cx="1233.2" cy="753.3" r="4" fill="#674ba0"/>
<circle cx="1348.9" cy="611.8" r="4.1" fill="#7363ac"/>
<circle cx="1167.4" cy="812.5" r="4.6" fill="#63439c"/>
<circle cx="1372.5" cy="690.6" r="10.6" fill="#786eb2"/>
<circle cx="1192.1" cy="795.9" r="3.6" fill="#694fa2"/>
<circle cx="1298.7" cy="704.2" r="4.1" fill="#5f3c99"/>
<circle cx="1381.3" cy="683.3" r="9.5" fill="#7566ae"/>
<circle cx="1160.5" cy="849.4" r="4.8" fill="#796fb2"/>
<circle cx="1148.1" cy="833.3" r="5.7" fill="#65489f"/>
<circle cx="1201.9" cy="800.9" r="3.8" fill="#5e3a98"/>
<circle cx="1164" cy="870.5" r="6.8" fill="#7a71b4"/>
<circle cx="1444.2" cy="551.3" r="4.6" fill="#776bb1"/>
<circle cx="1523.5" cy="492.2" r="3.9" fill="#6c56a5"/>
<circle cx="1524.3" cy="535" r="14.1" fill="#776ab0"/>
<circle cx="1258.5" cy="669.6" r="3.4" fill="#664aa0"/>
<circle cx="1199.3" cy="754.3" r="3.1" fill="#6b53a4"/>
<circle cx="1326.7" cy="719.7" r="10.1" fill="#786db2"/>
<circle cx="1501.5" cy="485.2" r="3.6" fill="#7464ad"/>
<circle cx="1437.7" cy="574.5" r="4.7" fill="#7363ac"/>
<circle cx="1183.1" cy="835.3" r="6.3" fill="#7567ae"/>
<circle cx="1202.2" cy="793.7" r="5.4" fill="#63439c"/>
<circle cx="1341.8" cy="727.5" r="7.8" fill="#796eb2"/>
<circle cx="1271" cy="748.9" r="5.4" fill="#796eb2"/>
<circle cx="1353.5" cy="677.3" r="7.3" fill="#66499f"/>
<circle cx="1297" cy="663.5" r="3.8" fill="#817ebb"/>
<circle cx="1204.9" cy="730.1" r="2.1" fill="#817ebb"/>
<circle cx="1387" cy="573.5" r="3.8" fill="#7c74b5"/>
<circle cx="1327" cy="664.9" r="5" fill="#6a51a3"/>
<circle cx="1339" cy="652.7" r="4.2" fill="#6d56a6"/>
<circle cx="1233.5" cy="814.3" r="5.8" fill="#7a71b4"/>
<circle cx="1308" cy="650.2" r="3.3" fill="#664aa0"/>
<circle cx="1176.8" cy="735.6" r="3" fill="#8b87bf"/>
<circle cx="1277.5" cy="711.7" r="3.6" fill="#603e9a"/>
<circle cx="1312.3" cy="686.5" r="5.7" fill="#65479e"/>
<circle cx="1181.8" cy="781.2" r="3.2" fill="#66499f"/>
<circle cx="1342.3" cy="623.3" r="2.8" fill="#817ebb"/>
<circle cx="1248.6" cy="747.2" r="5.4" fill="#5f3c99"/>
<circle cx="1166.4" cy="818.4" r="4.5" fill="#6b53a4"/>
<circle cx="1156.2" cy="777.5" r="5.1" fill="#6e59a7"/>
<circle cx="1160.4" cy="794.8" r="4.3" fill="#684da1"/>
<circle cx="1320.7" cy="673.1" r="4.4" fill="#66489f"/>
<circle cx="1186.3" cy="735.9" r="2.3" fill="#8b87bf"/>
<circle cx="1192" cy="729.6" r="2.3" fill="#6e58a7"/>
<circle cx="1403.2" cy="639.8" r="7.5" fill="#776cb1"/>
<circle cx="1177.9" cy="771.4" r="5" fill="#6a51a3"/>
<circle cx="1205.9" cy="718" r="2.6" fill="#6e58a7"/>
<circle cx="1160.4" cy="791.9" r="3.6" fill="#674ca0"/>
<circle cx="1319.5" cy="729.6" r="8.7" fill="#7465ae"/>
<circle cx="1433.7" cy="584.2" r="5.7" fill="#7261ac"/>
<circle cx="1154.7" cy="902.7" r="9.1" fill="#796fb3"/>
<circle cx="1423.8" cy="587.8" r="3.9" fill="#7567af"/>
<circle cx="1313.2" cy="724.4" r="6.5" fill="#7669b0"/>
<circle cx="1205.1" cy="738.4" r="2.7" fill="#6f5ca9"/>
<circle cx="1217.6" cy="730.2" r="2.7" fill="#6c56a5"/>
<circle cx="1436.4" cy="595.4" r="6.3" fill="#7c75b6"/>
<circle cx="1323.7" cy="653.3" r="4.2" fill="#6950a2"/>
<circle cx="1234.4" cy="706.1" r="2.2" fill="#6e58a7"/>
<circle cx="1508.8" cy="485.6" r="2.6" fill="#7466ae"/>
<circle cx="1224.5" cy="837" r="9.5" fill="#796eb2"/>
<circle cx="1176" cy="822.7" r="4.2" fill="#796eb2"/>
<circle cx="1311.8" cy="621.4" r="3.4" fill="#766ab0"/>
<circle cx="1219.1" cy="836.9" r="8.1" fill="#7b73b5"/>
<circle cx="1270.4" cy="687.7" r="3.1" fill="#7261ab"/>
<circle cx="1196" cy="766.6" r="4.2" fill="#64459d"/>
<circle cx="1292.8" cy="662.2" r="4" fill="#8b87bf"/>
<circle cx="1243.3" cy="783.6" r="6" fill="#796eb2"/>
<circle cx="1314.5" cy="687.4" r="5.1" fill="#684ca1"/>
<circle cx="1159.8" cy="864.5" r="5.6" fill="#7b73b5"/>
<circle cx="1266.9" cy="726.7" r="4.7" fill="#664aa0"/>
<circle cx="1257" cy="764.6" r="6.4" fill="#7b72b5"/>
<circle cx="1370.1" cy="698.3" r="8.3" fill="#796fb3"/>
<circle cx="1300.8" cy="689.3" r="3.3" fill="#664aa0"/>
<circle cx="1256.5" cy="777.2" r="8" fill="#7c74b5"/>
<circle cx="1184.6" cy="766.7" r="4.2" fill="#64459d"/>
<circle cx="1268.3" cy="768.3" r="6.3" fill="#7668af"/>
<circle cx="1367.3" cy="669.4" r="7" fill="#776bb1"/>
<circle cx="1285.1" cy="658.4" r="2.2" fill="#8b87bf"/>
<circle cx="1249.5" cy="696.3" r="3.4" fill="#817ebb"/>
<circle cx="1437.1" cy="595.6" r="6.2" fill="#7568af"/>
<circle cx="1240.2" cy="727.2" r="4.2" fill="#66499f"/>
<circle cx="1283.8" cy="752.5" r="7.9" fill="#786db2"/>
<circle cx="1157.9" cy="856.6" r="4.6" fill="#7970b3"/>
<circle cx="1234" cy="709.9" r="2.9" fill="#7c74b5"/>
<circle cx="1284" cy="672.5" r="3" fill="#705eaa"/>
<circle cx="1161.9" cy="739.8" r="3.7" fill="#8b87bf"/>
<circle cx="1388.2" cy="643.9" r="7" fill="#776ab0"/>
<circle cx="1332.2" cy="732.5" r="9.5" fill="#7566ae"/>
<circle cx="1202.4" cy="830.8" r="6.7" fill="#7363ac"/>
<circle cx="1290.2" cy="722.7" r="3.7" fill="#64459d"/>
<circle cx="1245" cy="783.2" r="5.6" fill="#7970b3"/>
<circle cx="1147.1" cy="767.1" r="4.2" fill="#6c55a5"/>
<circle cx="1153.9" cy="907.9" r="9.8" fill="#786db2"/>
<circle cx="1212.3" cy="748.6" r="3.1" fill="#66489f"/>
<circle cx="1480.3" cy="535.3" r="4.4" fill="#715faa"/>
<circle cx="1276.5" cy="765.8" r="6.8" fill="#786db1"/>
<circle cx="1207.9" cy="693.8" r="2.8" fill="#7363ac"/>
<circle cx="1375.5" cy="629.4" r="4" fill="#6e59a7"/>
<circle cx="1351.1" cy="672.7" r="6.2" fill="#66499f"/>
<circle cx="1146.5" cy="823.5" r="5.7" fill="#62439c"/>
<circle cx="1274.5" cy="675.9" r="2.5" fill="#7c74b5"/>
<circle cx="1222.4" cy="743.1" r="4.7" fill="#6b53a4"/>
<circle cx="1179.1" cy="753.4" r="3.4" fill="#6e5aa8"/>
<circle cx="1357.2" cy="641" r="5.3" fill="#6a51a3"/>
<circle cx="1381.4" cy="651.8" r="5.8" fill="#786cb1"/>
<circle cx="1145.5" cy="845.1" r="4.2" fill="#776cb1"/>
<circle cx="1158.6" cy="833.2" r="5.8" fill="#61409b"/>
<circle cx="1315.1" cy="751.9" r="12.6" fill="#7567af"/>
<circle cx="1360.3" cy="667.6" r="5.9" fill="#7568af"/>
<circle cx="1355.1" cy="669" r="5.2" fill="#786cb1"/>
<circle cx="1162.5" cy="768.9" r="3.4" fill="#7363ac"/>
<circle cx="1230.4" cy="763.5" r="4.7" fill="#6e59a7"/>
<circle cx="1304.6" cy="664.8" r="2.7" fill="#65489f"/>
<circle cx="1263.1" cy="684" r="2.6" fill="#7c74b5"/>
<circle cx="1219.5" cy="740.6" r="4.4" fill="#684da1"/>
<circle cx="1218.5" cy="791" r="4.7" fill="#7566ae"/>
<circle cx="1184.6" cy="724.7" r="2.1" fill="#766ab0"/>
<circle cx="1187.6" cy="803.5" r="4.2" fill="#6a51a3"/>
<circle cx="1282.7" cy="734.8" r="6" fill="#65479e"/>
<circle cx="1348.1" cy="591.1" r="3.9" fill="#6e58a7"/>
<circle cx="1180.1" cy="742.5" r="1.9" fill="#7363ac"/>
<circle cx="1234.6" cy="703.2" r="3" fill="#7363ac"/>
<circle cx="1290.7" cy="741" r="5.2" fill="#796eb2"/>
<circle cx="1219.6" cy="723.2" r="4" fill="#715faa"/>
<circle cx="1307.2" cy="644.7" r="2.4" fill="#7363ac"/>
<circle cx="1513.2" cy="508.9" r="3.7" fill="#7466ae"/>
<circle cx="1263.8" cy="707.7" r="5" fill="#6c56a6"/>
<circle cx="1190.2" cy="877.5" r="10.4" fill="#66499f"/>
<circle cx="1172.6" cy="791.7" r="3.2" fill="#65479e"/>
<circle cx="1248.4" cy="695.1" r="2.9" fill="#6e58a7"/>
<circle cx="1178.4" cy="806.5" r="5.1" fill="#674ca0"/>
<circle cx="1152.4" cy="810.7" r="4.2" fill="#66499f"/>
<circle cx="1233.8" cy="693.4" r="3.4" fill="#8b87bf"/>
<circle cx="1305.1" cy="679.2" r="3.9" fill="#6b54a4"/>
<circle cx="1242.5" cy="797.1" r="6.6" fill="#7669af"/>
<circle cx="1496.6" cy="507.1" r="4.7" fill="#7160ab"/>
<circle cx="1471.6" cy="588.9" r="12" fill="#7669b0"/>
<circle cx="1180.9" cy="891" r="7.6" fill="#786db2"/>
<circle cx="1160.5" cy="862.1" r="6.1" fill="#7b72b4"/>
<circle cx="1330.7" cy="633.6" r="3.3" fill="#766ab0"/>
<circle cx="1247.2" cy="699.7" r="2.5" fill="#7363ac"/>
<circle cx="1188.7" cy="726.4" r="3.4" fill="#6e58a7"/>
<circle cx="1532.9" cy="486.9" r="4.5" fill="#7566ae"/>
<circle cx="1153.8" cy="772.8" r="3.4" fill="#6c56a5"/>
<circle cx="1146.5" cy="780" r="3.2" fill="#6d58a7"/>
<circle cx="1456.4" cy="578" r="6.2" fill="#7a72b4"/>
<circle cx="1271" cy="776.9" r="9.2" fill="#796eb2"/>
<circle cx="1184.4" cy="772.6" r="5.4" fill="#65479e"/>
<circle cx="1153.1" cy="858.4" r="4.8" fill="#786db2"/>
<circle cx="1174.9" cy="897.1" r="8.2" fill="#7567ae"/>
<circle cx="1152.6" cy="788" r="4.6" fill="#694ea2"/>
<circle cx="1488.4" cy="489.8" r="3.4" fill="#7c74b5"/>
<circle cx="1202.2" cy="730" r="3.6" fill="#8b87bf"/>
<circle cx="1160.4" cy="840" r="4.7" fill="#7a70b3"/>
<circle cx="1164.7" cy="749.2" r="2.2" fill="#817ebb"/>
<circle cx="1423.1" cy="619.3" r="7" fill="#796eb2"/>
<circle cx="1274.3" cy="697.1" r="3" fill="#6a51a3"/>
<circle cx="1188.9" cy="852.4" r="5.3" fill="#786db2"/>
<circle cx="1159" cy="788.5" r="3.7" fill="#63439c"/>
<circle cx="1160.8" cy="760.2" r="3.7" fill="#7568af"/>
<circle cx="1250.7" cy="753.6" r="4" fill="#65479e"/>
<circle cx="1225.5" cy="716.7" r="2" fill="#817ebb"/>
<circle cx="1316.8" cy="667.2" r="3" fill="#684da1"/>
<circle cx="1244.7" cy="747.8" r="6" fill="#65489f"/>
<circle cx="1152.2" cy="750.6" r="2.9" fill="#7363ac"/>
<circle cx="1149" cy="752.8" r="2.3" fill="#664aa0"/>
<circle cx="1557" cy="493.1" r="11.2" fill="#7a71b4"/>
<circle cx="1194.6" cy="823.4" r="5" fill="#7568af"/>
<circle cx="1367.6" cy="627" r="5.5" fill="#674ba0"/>
<circle cx="1227.3" cy="706.5" r="2.8" fill="#7c74b5"/>
<circle cx="1298.1" cy="645.4" r="2.2" fill="#766ab0"/>
<circle cx="1171" cy="757" r="3.9" fill="#7363ac"/>
<circle cx="1241.6" cy="757.1" r="5.7" fill="#66499f"/>
<circle cx="1205.7" cy="830.7" r="5.6" fill="#7668af"/>
<circle cx="1203" cy="770.8" r="5.8" fill="#6b52a4"/>
<circle cx="1151.8" cy="747.8" r="3.5" fill="#7c74b5"/>
<circle cx="1382.8" cy="649.4" r="8.1" fill="#7d76b6"/>
<circle cx="1156.7" cy="879" r="6.4" fill="#776bb1"/>
<circle cx="1362.1" cy="646.1" r="4.6" fill="#6c54a5"/>
<circle cx="1545.5" cy="479.8" r="3.3" fill="#6d57a6"/>
<circle cx="1252.4" cy="730.4" r="3.8" fill="#62429c"/>
<circle cx="1188.5" cy="781.2" r="5.8" fill="#684ca1"/>
<circle cx="1221.4" cy="785.3" r="5" fill="#6a51a3"/>
<circle cx="1166.6" cy="905.4" r="6.8" fill="#7465ae"/>
<circle cx="1264.5" cy="669.7" r="2.3" fill="#7363ac"/>
<circle cx="1205.8" cy="855" r="7.9" fill="#7a71b4"/>
<circle cx="1437.7" cy="548.4" r="4.1" fill="#7261ab"/>
<circle cx="1236.5" cy="762.7" r="6.1" fill="#6950a3"/>
<circle cx="1161" cy="755.8" r="2.1" fill="#766ab0"/>
<circle cx="1171.6" cy="840.6" r="5.3" fill="#7465ad"/>
<circle cx="1322.7" cy="717.5" r="7.8" fill="#766ab0"/>
<circle cx="1185.1" cy="859.2" r="6.7" fill="#7567ae"/>
<circle cx="1193.8" cy="810.7" r="4.6" fill="#776bb0"/>
<circle cx="1500.3" cy="491.5" r="2.2" fill="#776bb1"/>
<circle cx="1317.2" cy="631.5" r="3.1" fill="#7c74b5"/>
<circle cx="1457.4" cy="608.3" r="15.2" fill="#66499f"/>
<circle cx="1213" cy="769.2" r="5.4" fill="#684da1"/>
<circle cx="1338.5" cy="724.8" r="8.7" fill="#786eb2"/>
<circle cx="1226.5" cy="824.2" r="7.9" fill="#7970b3"/>
<circle cx="1347.3" cy="655.4" r="4.7" fill="#6b53a4"/>
<circle cx="1154.8" cy="880.4" r="6.7" fill="#7669b0"/>
<circle cx="1189.4" cy="739.1" r="4" fill="#7262ac"/>
<circle cx="1307.9" cy="715.3" r="3.9" fill="#6a50a3"/>
<circle cx="1155.3" cy="802.9" r="5.4" fill="#613f9b"/>
<circle cx="1234.7" cy="755" r="4.1" fill="#61409b"/>
<circle cx="1424.4" cy="599" r="5.9" fill="#705da9"/>
<circle cx="1254.5" cy="728.1" r="4" fill="#66499f"/>
<circle cx="1167" cy="838.8" r="4.1" fill="#776ab0"/>
<circle cx="1206.4" cy="771.8" r="3.8" fill="#63449d"/>
<circle cx="1202.8" cy="766.8" r="4.6" fill="#63449d"/>
<circle cx="1196.7" cy="783.1" r="3.6" fill="#61409b"/>
<circle cx="1183.2" cy="837.5" r="6.2" fill="#796fb3"/>
<circle cx="1242.9" cy="712.6" r="3.8" fill="#6f5ca9"/>
<circle cx="1250.7" cy="794.7" r="9" fill="#7568af"/>
<circle cx="1415.2" cy="569.2" r="5" fill="#6d57a6"/>
<circle cx="1250.1" cy="782.4" r="7.7" fill="#7669af"/>
<circle cx="1167.8" cy="749.6" r="2.8" fill="#7464ad"/>
<circle cx="1160.7" cy="886.6" r="8.5" fill="#786eb2"/>
<circle cx="1228.2" cy="828" r="6.6" fill="#7464ad"/>
<circle cx="1278" cy="728.3" r="4.4" fill="#65489f"/>
<circle cx="1258.2" cy="694.1" r="3.9" fill="#715fab"/>
<circle cx="1177.5" cy="763.1" r="3.6" fill="#6c54a5"/>
<circle cx="1214.2" cy="732.8" r="2.1" fill="#705da9"/>
<circle cx="1181.2" cy="771.8" r="5.3" fill="#684da1"/>
<circle cx="1530.5" cy="468.5" r="2.9" fill="#6f5ba8"/>
<circle cx="1353.3" cy="609.3" r="3.9" fill="#6a51a3"/>
<circle cx="1206" cy="728.7" r="3.5" fill="#6e58a7"/>
<circle cx="1154.1" cy="755.8" r="2.7" fill="#7c74b5"/>
<circle cx="1206.5" cy="754.4" r="3.6" fill="#6a51a3"/>
<circle cx="1442.7" cy="590.2" r="6.2" fill="#786cb1"/>
<circle cx="1513.4" cy="512.2" r="4.9" fill="#7466ae"/>
<circle cx="1190" cy="852.3" r="6.1" fill="#776ab0"/>
<circle cx="1195.2" cy="803.9" r="4.1" fill="#6a50a3"/>
<circle cx="1252.8" cy="687.7" r="2.4" fill="#8b87bf"/>
<circle cx="1505.2" cy="553.7" r="10.7" fill="#7669b0"/>
<circle cx="1181.2" cy="898.1" r="7.2" fill="#7567ae"/>
<circle cx="1158.4" cy="809" r="3.9" fill="#64459e"/>
<circle cx="1248.7" cy="756.1" r="5" fill="#674aa0"/>
<circle cx="1232.7" cy="789" r="5" fill="#776cb1"/>
<circle cx="1330.8" cy="730.2" r="7.8" fill="#786db2"/>
<circle cx="1217.1" cy="759.5" r="3.9" fill="#64459d"/>
<circle cx="1469.8" cy="528.5" r="3" fill="#6a52a3"/>
<circle cx="1247.3" cy="777.5" r="6.2" fill="#776bb1"/>
<circle cx="1254.9" cy="736.3" r="3.8" fill="#5e3998"/>
<circle cx="1283.4" cy="703" r="3.4" fill="#64459d"/>
<circle cx="1407.4" cy="564.5" r="3.7" fill="#6a51a3"/>
<circle cx="1154.2" cy="831.3" r="6" fill="#684ea1"/>
<circle cx="1418.7" cy="576" r="5.2" fill="#6e5aa7"/>
<circle cx="1407.7" cy="567.5" r="3.9" fill="#6c56a6"/>
<circle cx="1151.3" cy="824.5" r="4.4" fill="#62419c"/>
<circle cx="1410.2" cy="592.2" r="4" fill="#6b53a4"/>
<circle cx="1242.1" cy="787.5" r="6.7" fill="#7b73b5"/>
<circle cx="1151.1" cy="873.8" r="4.8" fill="#7b73b5"/>
<circle cx="1256.8" cy="772.1" r="5.8" fill="#7566ae"/>
<circle cx="1360.3" cy="607.1" r="2.4" fill="#7669b0"/>
<circle cx="1171.8" cy="870.4" r="8.2" fill="#786db2"/>
<circle cx="1463.9" cy="581" r="10.7" fill="#7669af"/>
<circle cx="1237.4" cy="783.3" r="5.3" fill="#786eb2"/>
<circle cx="1229.7" cy="698.5" r="2.4" fill="#8b87bf"/>
<circle cx="1200.3" cy="776.3" r="3.5" fill="#705ca9"/>
<circle cx="1144.3" cy="885.3" r="6.9" fill="#786db2"/>
<circle cx="1341" cy="639.6" r="4.6" fill="#715faa"/>
<circle cx="1433.8" cy="596.7" r="6" fill="#7970b3"/>
<circle cx="1248.9" cy="811.1" r="9.3" fill="#7668af"/>
<circle cx="1166.4" cy="856" r="6.6" fill="#7465ae"/>
<circle cx="1144.3" cy="806.9" r="3.5" fill="#66499f"/>
<circle cx="1226.6" cy="837.8" r="10.1" fill="#776cb1"/>
<circle cx="1396" cy="603.3" r="4.6" fill="#65479e"/>
<circle cx="1358.4" cy="685.6" r="6.9" fill="#786eb2"/>
<circle cx="1150.9" cy="865.7" r="4.2" fill="#7567ae"/>
<circle cx="1222.1" cy="806.6" r="5.2" fill="#7568af"/>
<circle cx="1251.5" cy="719.2" r="4.9" fill="#6a52a3"/>
<circle cx="1173.1" cy="763.2" r="4" fill="#705eaa"/>
<circle cx="1173.2" cy="828.2" r="4.3" fill="#7669b0"/>
<circle cx="1342.5" cy="642.2" r="5.3" fill="#6e58a7"/>
<circle cx="1236.1" cy="734" r="5.2" fill="#674ba0"/>
<circle cx="1192.4" cy="782.3" r="4" fill="#684da1"/>
<circle cx="1251.6" cy="811.9" r="6.3" fill="#7669b0"/>
<circle cx="1192.4" cy="835.3" r="6.4" fill="#7b74b5"/>
<circle cx="1322.4" cy="639.6" r="3.1" fill="#6b52a4"/>
<circle cx="1286.9" cy="730" r="4.6" fill="#684da1"/>
<circle cx="1155.2" cy="781.4" r="3.8" fill="#64469e"/>
<circle cx="1218.4" cy="752.1" r="4.6" fill="#6d57a6"/>
<circle cx="1316.8" cy="689.1" r="4.4" fill="#6b52a4"/>
<circle cx="1549.7" cy="500.1" r="8.9" fill="#7566ae"/>
<circle cx="1216.7" cy="717.7" r="2.5" fill="#8b87bf"/>
<circle cx="1184.4" cy="774.5" r="5.3" fill="#63449d"/>
<circle cx="1154.8" cy="792.4" r="5.6" fill="#674ca0"/>
<circle cx="1145.4" cy="868.1" r="6" fill="#786eb2"/>
<circle cx="1267.1" cy="792.7" r="10.8" fill="#7466ae"/>
<circle cx="1228.4" cy="702.8" r="3.1" fill="#7c74b5"/>
<circle cx="1318.6" cy="640.8" r="2.2" fill="#6d57a6"/>
<circle cx="1414.8" cy="574.7" r="4.5" fill="#6c55a5"/>
<circle cx="1222.4" cy="751.6" r="4.2" fill="#6950a3"/>
<circle cx="1173.6" cy="725.6" r="3.6" fill="#7c74b5"/>
<circle cx="1351.8" cy="618.5" r="3.3" fill="#7362ac"/>
<circle cx="1189.9" cy="762" r="4.8" fill="#684ea2"/>
<circle cx="1473.6" cy="594.7" r="14.4" fill="#7b73b5"/>
<circle cx="1441.9" cy="629.2" r="10.7" fill="#7a70b3"/>
<circle cx="1270.3" cy="715.6" r="5.3" fill="#65489f"/>
<circle cx="1178.1" cy="787.1" r="4" fill="#7262ac"/>
<circle cx="1341.4" cy="721.8" r="10.6" fill="#786db2"/>
<circle cx="1205.6" cy="707.9" r="1.9" fill="#766ab0"/>
<circle cx="1343.7" cy="702.8" r="8.6" fill="#796fb3"/>
<circle cx="1278.1" cy="770.7" r="7" fill="#786cb1"/>
<circle cx="1190.8" cy="813.1" r="4.7" fill="#7c74b5"/>
<circle cx="1253.7" cy="771.5" r="6.2" fill="#7a71b3"/>
<circle cx="1362.6" cy="670.8" r="6.5" fill="#796eb2"/>
<circle cx="1426.8" cy="559.4" r="4" fill="#7261ac"/>
<circle cx="1268.2" cy="681.8" r="3.6" fill="#766ab0"/>
<circle cx="1417.8" cy="626.6" r="6.8" fill="#7970b3"/>
<circle cx="1336.9" cy="690.3" r="6.7" fill="#7c74b5"/>
<circle cx="1317.6" cy="672.1" r="4.5" fill="#66499f"/>
<circle cx="1161.1" cy="800.7" r="5.7" fill="#66499f"/>
<circle cx="1320.3" cy="721.1" r="8" fill="#786db2"/>
<circle cx="1471.2" cy="524.8" r="3.8" fill="#776ab0"/>
<circle cx="1175.3" cy="812.9" r="4" fill="#6c55a5"/>
<circle cx="1301.5" cy="740.5" r="7.6" fill="#796eb2"/>
<circle cx="1387.2" cy="624.9" r="4.9" fill="#64459d"/>
<circle cx="1516.3" cy="513.4" r="4.7" fill="#5f3c99"/>
<circle cx="1381.6" cy="661.6" r="6.5" fill="#7a70b3"/>
<circle cx="1309.3" cy="646.7" r="2.9" fill="#7c74b5"/>
<circle cx="1345.5" cy="602.9" r="3.5" fill="#6e58a7"/>
<circle cx="1170.5" cy="749.7" r="3.1" fill="#664aa0"/>
<circle cx="1290.5" cy="689.2" r="5.4" fill="#63449d"/>
<circle cx="1165.9" cy="898.1" r="9.5" fill="#7c74b5"/>
<circle cx="1145.9" cy="847.8" r="4" fill="#7567ae"/>
<circle cx="1424" cy="595.3" r="5.7" fill="#7567af"/>
<circle cx="1206" cy="847" r="9.9" fill="#786eb2"/>
<circle cx="1366.8" cy="587.6" r="2.5" fill="#766ab0"/>
<circle cx="1152.4" cy="765.1" r="2.1" fill="#7260ab"/>
<circle cx="1240.9" cy="802.6" r="6.3" fill="#7566ae"/>
<circle cx="1256.3" cy="775.3" r="5.5" fill="#7261ac"/>
<circle cx="1153.4" cy="784.6" r="4.9" fill="#674ba0"/>
<circle cx="1283.6" cy="781.2" r="9.3" fill="#796eb2"/>
<circle cx="1402.4" cy="584.6" r="4" fill="#694fa2"/>
<circle cx="1223.6" cy="709.8" r="3.6" fill="#8b87bf"/>
<circle cx="1160.5" cy="758.8" r="2.1" fill="#776bb1"/>
<circle cx="1215.6" cy="810" r="4.6" fill="#7261ac"/>
<circle cx="1332.4" cy="726.5" r="8.5" fill="#796fb2"/>
<circle cx="1289.5" cy="754.4" r="6.3" fill="#7568af"/>
<circle cx="1522.6" cy="540.8" r="13.7" fill="#7b73b5"/>
<circle cx="1226.8" cy="837" r="8.2" fill="#786db2"/>
<circle cx="1170.1" cy="739.1" r="2" fill="#7363ac"/>
<circle cx="1163.9" cy="872.9" r="4.7" fill="#776bb0"/>
<circle cx="1489.4" cy="523.2" r="3.7" fill="#6d57a6"/>
<circle cx="1200.3" cy="799.6" r="6.4" fill="#684ea1"/>
<circle cx="1543.3" cy="479.7" r="4.5" fill="#7465ae"/>
<circle cx="1446.6" cy="605.3" r="7.7" fill="#786eb2"/>
<circle cx="1166.4" cy="862.9" r="5.6" fill="#786cb1"/>
<circle cx="1274" cy="784.5" r="8.8" fill="#766ab0"/>
<circle cx="1264.3" cy="786" r="9.4" fill="#796fb2"/>
<circle cx="1241.6" cy="702.4" r="3.4" fill="#766ab0"/>
<circle cx="1186.3" cy="818" r="4.1" fill="#7566ae"/>
<circle cx="1208.1" cy="783" r="6.1" fill="#6f5aa8"/>
<circle cx="1367.5" cy="633.7" r="5.1" fill="#694fa2"/>
<circle cx="1154.2" cy="806.9" r="3.4" fill="#66499f"/>
<circle cx="1284.7" cy="672.3" r="3.7" fill="#8b87bf"/>
<circle cx="1231.2" cy="777.3" r="3.9" fill="#664aa0"/>
<circle cx="1345.8" cy="699.1" r="8.1" fill="#7668af"/>
<circle cx="1213.1" cy="742.1" r="3.3" fill="#674ba0"/>
<circle cx="1241" cy="760.5" r="3.8" fill="#64459d"/>
<circle cx="1376.4" cy="627.9" r="5.2" fill="#6c54a5"/>
<circle cx="1362.2" cy="587.3" r="3.5" fill="#8b87bf"/>
<circle cx="1161.1" cy="745.9" r="3.5" fill="#6e58a7"/>
<circle cx="1271.8" cy="672.1" r="2.7" fill="#7c74b5"/>
<circle cx="1179.9" cy="799.2" r="3.8" fill="#63449d"/>
<circle cx="1283" cy="667.5" r="2.8" fill="#8b87bf"/>
<circle cx="1157.7" cy="853.3" r="4.3" fill="#776bb1"/>
<circle cx="1242.2" cy="761.7" r="5.4" fill="#694fa2"/>
<circle cx="1452.9" cy="561.3" r="3.9" fill="#7464ad"/>
<circle cx="1185.6" cy="760.8" r="4.8" fill="#63459d"/>
<circle cx="1162.8" cy="753.4" r="3.3" fill="#664aa0"/>
<circle cx="1153.4" cy="821.9" r="5.4" fill="#6b54a5"/>
<circle cx="1481.2" cy="581" r="13.2" fill="#7567af"/>
<circle cx="1206.2" cy="763.4" r="4.7" fill="#6950a2"/>
<circle cx="1200.8" cy="840.1" r="5.6" fill="#7a71b4"/>
<circle cx="1508" cy="523.7" r="6.2" fill="#65489f"/>
<circle cx="1380.8" cy="601.8" r="5.1" fill="#6d56a6"/>
<circle cx="1307.9" cy="650" r="3.8" fill="#7363ac"/>
<circle cx="1421.9" cy="623.6" r="8.9" fill="#776ab0"/>
<circle cx="1203.1" cy="732.4" r="3.9" fill="#7363ac"/>
<circle cx="1328.9" cy="711.1" r="7.1" fill="#776bb0"/>
<circle cx="1341.5" cy="622.9" r="2.8" fill="#7364ad"/>
<circle cx="1230.2" cy="820.2" r="7.1" fill="#7567af"/>
<circle cx="1226.1" cy="803.1" r="6.4" fill="#786cb1"/>
<circle cx="1470.2" cy="597.4" r="9.2" fill="#796fb3"/>
<circle cx="1379.7" cy="654.1" r="6.1" fill="#766ab0"/>
<circle cx="1355.2" cy="603.3" r="3.3" fill="#8b87bf"/>
<circle cx="1282.8" cy="774.9" r="6.8" fill="#776bb0"/>
<circle cx="1375.6" cy="624" r="4.6" fill="#64459d"/>
<circle cx="1412.7" cy="650.8" r="11.8" fill="#796eb2"/>
<circle cx="1291.8" cy="654.9" r="3.3" fill="#766ab0"/>
<circle cx="1144.5" cy="745.5" r="3.1" fill="#817ebb"/>
<circle cx="1223.1" cy="762" r="3.4" fill="#664aa0"/>
<circle cx="1259.9" cy="759.3" r="4.9" fill="#786db1"/>
<circle cx="1293.2" cy="740.1" r="5.6" fill="#7b74b5"/>
<circle cx="1370.2" cy="670.5" r="6.4" fill="#796eb2"/>
<circle cx="1216.2" cy="720.1" r="2.4" fill="#766ab0"/>
<circle cx="1336.6" cy="709.8" r="9.1" fill="#776cb1"/>
<circle cx="1172.4" cy="747.6" r="3.1" fill="#6e58a7"/>
<circle cx="1419.5" cy="637.6" r="9.9" fill="#7464ad"/>
<circle cx="1480.7" cy="518.9" r="4.1" fill="#776bb1"/>
<circle cx="1167.7" cy="822.9" r="4.7" fill="#64459d"/>
<circle cx="1162.6" cy="855.2" r="5.4" fill="#776cb1"/>
<circle cx="1190.3" cy="755.7" r="3.8" fill="#694ea2"/>
<circle cx="1205.7" cy="796.2" r="3.8" fill="#674ba0"/>
<circle cx="1324.5" cy="722.6" r="7.8" fill="#7a72b4"/>
<circle cx="1402.5" cy="595.2" r="4.6" fill="#6d58a6"/>
<circle cx="1292.7" cy="724.3" r="5.1" fill="#684da1"/>
<circle cx="1202.8" cy="728.2" r="2.1" fill="#6e58a7"/>
<circle cx="1332.8" cy="690" r="5.9" fill="#786db2"/>
<circle cx="1230.9" cy="719.7" r="2.6" fill="#715faa"/>
<circle cx="1184.7" cy="796.7" r="5.5" fill="#66499f"/>
<circle cx="1167.5" cy="772.7" r="4.4" fill="#664aa0"/>
<circle cx="1215" cy="796.3" r="5" fill="#776bb1"/>
<circle cx="1310" cy="610.6" r="2.2" fill="#8b87bf"/>
<circle cx="1348.8" cy="644.3" r="3.2" fill="#715fab"/>
<circle cx="1355.1" cy="676.3" r="5.5" fill="#766ab0"/>
<circle cx="1443.5" cy="571.1" r="5.8" fill="#6c55a5"/>
<circle cx="1227.6" cy="714.3" r="3.4" fill="#7363ac"/>
<circle cx="1264.2" cy="776.3" r="7.3" fill="#7c74b5"/>
<circle cx="1445.7" cy="583.9" r="6.8" fill="#7a71b4"/>
<circle cx="1168" cy="784.7" r="3.5" fill="#63449d"/>
<circle cx="1334.9" cy="679.6" r="4.9" fill="#6d56a6"/>
<circle cx="1189.5" cy="713.9" r="3.5" fill="#664aa0"/>
<circle cx="1446.3" cy="547.5" r="5.1" fill="#776ab0"/>
<circle cx="1291" cy="771" r="7.9" fill="#786cb1"/>
<circle cx="1161.2" cy="742.6" r="2.8" fill="#7c74b5"/>
<circle cx="1177.3" cy="792.7" r="3.7" fill="#64469e"/>
<circle cx="1193.1" cy="736.3" r="3.2" fill="#817ebb"/>
<circle cx="1187.3" cy="740" r="3.2" fill="#684ea1"/>
<circle cx="1174" cy="872.1" r="8.2" fill="#786db2"/>
<circle cx="1190.8" cy="758.4" r="4.6" fill="#65489f"/>
<circle cx="1243.8" cy="702.7" r="2" fill="#7363ac"/>
<circle cx="1391.1" cy="667.3" r="11.1" fill="#7566ae"/>
<circle cx="1350.4" cy="626.8" r="2.4" fill="#674ba0"/>
<circle cx="1157" cy="754.2" r="1.9" fill="#766ab0"/>
<circle cx="1176" cy="849.1" r="5.6" fill="#776bb1"/>
<circle cx="1267.8" cy="729" r="4.8" fill="#62429c"/>
<circle cx="1283.1" cy="692" r="5.1" fill="#684ea1"/>
<circle cx="1271.7" cy="774.8" r="8.9" fill="#7970b3"/>
<circle cx="1153" cy="798.5" r="5.2" fill="#674ba0"/>
<circle cx="1177.9" cy="860" r="7.4" fill="#776cb1"/>
<circle cx="1204.7" cy="727.5" r="3.5" fill="#7c74b5"/>
<circle cx="1164.7" cy="861" r="5.3" fill="#786cb1"/>
<circle cx="1406.1" cy="555.7" r="4.1" fill="#7c74b5"/>
<circle cx="1309.7" cy="709.9" r="4.2" fill="#674ba0"/>
<circle cx="1239.6" cy="705.5" r="3.3" fill="#8b87bf"/>
<circle cx="1200.1" cy="812.2" r="4" fill="#776bb1"/>
<circle cx="1198.1" cy="752.5" r="4.2" fill="#684ea2"/>
<circle cx="1348.6" cy="656.3" r="5.5" fill="#62439c"/>
<circle cx="1307.4" cy="711.6" r="5.8" fill="#65479e"/>
<circle cx="1422.6" cy="595.8" r="6.1" fill="#6c55a5"/>
<circle cx="1159.8" cy="837.7" r="4" fill="#796eb2"/>
<circle cx="1207.9" cy="824.8" r="5.4" fill="#66499f"/>
<circle cx="1327.9" cy="688.7" r="6.2" fill="#6b52a4"/>
<circle cx="1514.8" cy="478.9" r="3.7" fill="#8b87bf"/>
<circle cx="1496.1" cy="543.4" r="7.5" fill="#7b73b5"/>
<circle cx="1396.3" cy="594.4" r="3.9" fill="#6b52a4"/>
<circle cx="1190.3" cy="838" r="6.3" fill="#776bb1"/>
<circle cx="1221.1" cy="714.3" r="4.1" fill="#715eaa"/>
<circle cx="1233.4" cy="745.3" r="4.1" fill="#684da1"/>
<circle cx="1235.8" cy="788.8" r="5.4" fill="#66499f"/>
<circle cx="1207.8" cy="812.9" r="5.7" fill="#786db1"/>
<circle cx="1154.6" cy="758.5" r="2.9" fill="#817ebb"/>
<circle cx="1275.3" cy="676.7" r="3.4" fill="#8b87bf"/>
<circle cx="1206.5" cy="847.3" r="7.7" fill="#7a71b4"/>
<circle cx="1419.4" cy="587.4" r="3.8" fill="#705da9"/>
<circle cx="1350.4" cy="615.2" r="2.7" fill="#8b87bf"/>
<circle cx="1219.5" cy="711.1" r="3.2" fill="#766ab0"/>
<circle cx="1392.5" cy="609.4" r="4.9" fill="#6c55a5"/>
<circle cx="1300.2" cy="679.8" r="5.5" fill="#62429c"/>
<circle cx="1226.8" cy="792.1" r="4.5" fill="#796eb2"/>
<circle cx="1274.2" cy="661.4" r="2.1" fill="#766ab0"/>
<circle cx="1342.5" cy="680.8" r="6.1" fill="#7668af"/>
<circle cx="1166" cy="730.4" r="3.4" fill="#6e58a7"/>
<circle cx="1208.7" cy="726.2" r="2.6" fill="#776bb0"/>
<circle cx="1553.1" cy="466.9" r="4.6" fill="#674ba0"/>
<circle cx="1191.3" cy="738.2" r="3" fill="#817ebb"/>
<circle cx="1147.1" cy="804.1" r="3.2" fill="#65489f"/>
<circle cx="1149.9" cy="795.6" r="3.3" fill="#5f3c99"/>
<circle cx="1248.1" cy="725.5" r="5.4" fill="#694fa2"/>
<circle cx="1202.5" cy="749.1" r="5" fill="#674ca1"/>
<circle cx="1367.3" cy="699.6" r="8.6" fill="#7b73b5"/>
<circle cx="1254.8" cy="723.3" r="3.2" fill="#63449d"/>
<circle cx="1467.6" cy="588.2" r="9.1" fill="#796fb3"/>
<circle cx="1318.4" cy="665.7" r="5.1" fill="#64459d"/>
<circle cx="1221.1" cy="819.1" r="7.5" fill="#766ab0"/>
<circle cx="1217.3" cy="719.8" r="2.2" fill="#8b87bf"/>
<circle cx="1192.4" cy="839.2" r="5.8" fill="#776bb1"/>
<circle cx="1381.4" cy="609.3" r="4.2" fill="#7261ab"/>
<circle cx="1362.5" cy="588.2" r="3.2" fill="#817ebb"/>
<circle cx="1377.7" cy="623.3" r="3.6" fill="#6b53a4"/>
<circle cx="1188.5" cy="758" r="4.6" fill="#684ea2"/>
<circle cx="1355.9" cy="578.2" r="2.2" fill="#6e58a7"/>
<circle cx="1188.3" cy="761.5" r="3.8" fill="#5e3998"/>
<circle cx="1151.4" cy="761.3" r="2.9" fill="#664aa0"/>
<circle cx="1159.7" cy="822.1" r="5.8" fill="#694fa2"/>
<circle cx="1455.3" cy="572.2" r="4.2" fill="#7261ac"/>
<circle cx="1197.5" cy="869.8" r="9.7" fill="#7567ae"/>
<circle cx="1280.7" cy="786.8" r="11.5" fill="#66499f"/>
<circle cx="1279.8" cy="741.8" r="4.7" fill="#7566ae"/>
<circle cx="1174.1" cy="899" r="10.8" fill="#786eb2"/>
<circle cx="1324.6" cy="721" r="7.7" fill="#776cb1"/>
<circle cx="1493" cy="558.3" r="8.4" fill="#776bb0"/>
<circle cx="1431.1" cy="634.4" r="12.7" fill="#7d77b7"/>
<circle cx="1238.5" cy="772.8" r="5.6" fill="#7668af"/>
<circle cx="1212.5" cy="851.1" r="7.1" fill="#7363ad"/>
<circle cx="1162.9" cy="767.5" r="4" fill="#6950a2"/>
<circle cx="1190.6" cy="731" r="3.5" fill="#6e58a7"/>
<circle cx="1282.1" cy="750.2" r="5.4" fill="#7b74b5"/>
<circle cx="1153.7" cy="854.8" r="4.9" fill="#776bb1"/>
<circle cx="1159.7" cy="820.3" r="5.1" fill="#6a50a3"/>
<circle cx="1272.4" cy="752.4" r="4.9" fill="#776bb0"/>
<circle cx="1173.3" cy="744.5" r="2.5" fill="#7c74b5"/>
<circle cx="1229" cy="712.5" r="3" fill="#6e58a7"/>
<circle cx="1155.4" cy="880.1" r="6.3" fill="#786eb2"/>
<circle cx="1260.5" cy="754.5" r="5.1" fill="#776bb1"/>
<circle cx="1308.8" cy="679.2" r="3.5" fill="#6e58a7"/>
<circle cx="1239.4" cy="755.2" r="5.6" fill="#684da1"/>
<circle cx="1185.6" cy="853.8" r="6.8" fill="#786db2"/>
<circle cx="1367.7" cy="642.9" r="6.1" fill="#6f5ca9"/>
<circle cx="1485" cy="535.6" r="5.3" fill="#6e59a7"/>
<circle cx="1296.9" cy="728.7" r="6.4" fill="#796eb2"/>
<circle cx="1490.3" cy="511.8" r="3" fill="#6c55a5"/>
<circle cx="1445.5" cy="560.7" r="5.4" fill="#7363ac"/>
<circle cx="1148.3" cy="885.4" r="6.2" fill="#786cb1"/>
<circle cx="1325.9" cy="633" r="3.3" fill="#664aa0"/>
<circle cx="1463.4" cy="568.4" r="5.1" fill="#66499f"/>
<circle cx="1384.5" cy="638.6" r="5.8" fill="#65489f"/>
<circle cx="1487.1" cy="549.5" r="7.5" fill="#66499f"/>
<circle cx="1218.3" cy="762" r="4.3" fill="#684da1"/>
<circle cx="1354.8" cy="672.5" r="5.9" fill="#786eb2"/>
<circle cx="1251.2" cy="698.3" r="3.4" fill="#664aa0"/>
<circle cx="1227.8" cy="759.6" r="4.5" fill="#5f3c99"/>
<circle cx="1318.2" cy="698.2" r="6.3" fill="#61409b"/>
<circle cx="1307.7" cy="738.9" r="7.7" fill="#7362ac"/>
<circle cx="1211.5" cy="795.9" r="3.9" fill="#65479e"/>
<circle cx="1344" cy="609.4" r="2.6" fill="#817ebb"/>
<circle cx="1156.8" cy="756.7" r="4.2" fill="#6e58a7"/>
<circle cx="1282.5" cy="637.5" r="2.9" fill="#7363ac"/>
<circle cx="1553.2" cy="450.5" r="4.2" fill="#6e58a7"/>
<circle cx="1380.9" cy="652.4" r="6" fill="#7b73b5"/>
<circle cx="1153.4" cy="852.2" r="3.8" fill="#786db2"/>
<circle cx="1257.7" cy="690.1" r="3.1" fill="#6e58a7"/>
<circle cx="1147.4" cy="787.5" r="3.4" fill="#64459d"/>
<circle cx="1146.9" cy="887.1" r="6.1" fill="#7b72b4"/>
<circle cx="1184.2" cy="834" r="5.9" fill="#7669b0"/>
<circle cx="1249.1" cy="715.9" r="3.5" fill="#6c54a5"/>
<circle cx="1197.4" cy="860.9" r="7.9" fill="#7b74b5"/>
<circle cx="1379.8" cy="597" r="4" fill="#6d56a6"/>
<circle cx="1324.7" cy="635.7" r="3.4" fill="#817ebb"/>
<circle cx="1229" cy="833" r="10.3" fill="#7669b0"/>
<circle cx="1193.3" cy="837.7" r="5.9" fill="#786db2"/>
<circle cx="1228.2" cy="670.5" r="3.6" fill="#817ebb"/>
<circle cx="1335" cy="629" r="4" fill="#7261ab"/>
<circle cx="1283" cy="745.4" r="5.4" fill="#796fb3"/>
<circle cx="1280.8" cy="654.3" r="2.3" fill="#8b87bf"/>
<circle cx="1160.9" cy="750" r="3.1" fill="#766ab0"/>
<circle cx="1318.6" cy="644.1" r="3.4" fill="#684ea2"/>
<circle cx="1328.9" cy="618" r="3" fill="#817ebb"/>
<circle cx="1180" cy="744.7" r="3.7" fill="#7260ab"/>
<circle cx="1447.8" cy="606.5" r="11.3" fill="#766ab0"/>
<circle cx="1343.5" cy="669.3" r="4.9" fill="#65479e"/>
<circle cx="1232.7" cy="770.4" r="3.9" fill="#674ba0"/>
<circle cx="1231.2" cy="762.7" r="4.5" fill="#684da1"/>
<circle cx="1172" cy="747" r="3.4" fill="#7c74b5"/>
<circle cx="1390.9" cy="593.7" r="4.7" fill="#7262ac"/>
<circle cx="1285.3" cy="666" r="2.4" fill="#817ebb"/>
<circle cx="1253.5" cy="757.6" r="5.5" fill="#674aa0"/>
<circle cx="1326.5" cy="658.8" r="4.1" fill="#64469e"/>
<circle cx="1337.2" cy="616.7" r="2.2" fill="#664aa0"/>
<circle cx="1144.7" cy="915.9" r="8.8" fill="#786eb2"/>
<circle cx="1356.3" cy="631.9" r="4" fill="#694fa2"/>
<circle cx="1165.2" cy="737.5" r="2.6" fill="#766ab0"/>
<circle cx="1244.4" cy="727.9" r="4.5" fill="#613f9b"/>
<circle cx="1502.9" cy="503.5" r="5" fill="#715eaa"/>
<circle cx="1374.8" cy="592" r="3.7" fill="#766ab0"/>
<circle cx="1497.7" cy="528.4" r="4.1" fill="#7363ac"/>
<circle cx="1207.5" cy="850.3" r="8.1" fill="#7567af"/>
<circle cx="1171.6" cy="782.5" r="5.6" fill="#684da1"/>
<circle cx="1389.6" cy="604.9" r="3.1" fill="#684da1"/>
<circle cx="1332.7" cy="712.7" r="8" fill="#776ab0"/>
<circle cx="1181.7" cy="743.6" r="3.3" fill="#6e58a7"/>
<circle cx="1162.8" cy="893.2" r="5.6" fill="#66499f"/>
<circle cx="1148.1" cy="820.5" r="5.8" fill="#61409b"/>
<circle cx="1556" cy="465.1" r="5.4" fill="#7160ab"/>
<circle cx="1375.6" cy="583.7" r="4.2" fill="#7363ac"/>
<circle cx="1226.6" cy="723.3" r="2.6" fill="#6b53a4"/>
<circle cx="1423.4" cy="582.8" r="4.4" fill="#6b54a5"/>
<circle cx="1246.1" cy="732.7" r="4.9" fill="#65489f"/>
<circle cx="1201.5" cy="858.3" r="9.4" fill="#7465ae"/>
<circle cx="1208.2" cy="739.9" r="2.7" fill="#715faa"/>
<circle cx="1204.4" cy="767.2" r="3.6" fill="#65479e"/>
<circle cx="1390.4" cy="623.7" r="4.4" fill="#6a51a3"/>
<circle cx="1236.3" cy="747.3" r="4.5" fill="#684da1"/>
<circle cx="1210.2" cy="731.7" r="4.1" fill="#7260ab"/>
<circle cx="1287.8" cy="730.2" r="5.7" fill="#61409b"/>
<circle cx="1200.9" cy="786" r="4.8" fill="#664a9f"/>
<circle cx="1155.4" cy="807.2" r="4.8" fill="#674ca0"/>
<circle cx="1531.8" cy="533.5" r="11.5" fill="#7363ad"/>
<circle cx="1254" cy="687.6" r="3" fill="#6e58a7"/>
<circle cx="1465.1" cy="574.7" r="9.7" fill="#776cb1"/>
<circle cx="1494.4" cy="546.8" r="6.9" fill="#7567af"/>
<circle cx="1240.4" cy="706.2" r="4" fill="#8b87bf"/>
<circle cx="1293.6" cy="666.4" r="3.2" fill="#6e58a7"/>
<circle cx="1365" cy="608.6" r="4.1" fill="#7465ad"/>
<circle cx="1481" cy="575" r="10.1" fill="#796eb2"/>
<circle cx="1225.8" cy="752.3" r="5.4" fill="#664aa0"/>
<circle cx="1191.2" cy="774.5" r="4.3" fill="#5f3c99"/>
<circle cx="1347" cy="601.4" r="2.8" fill="#7c74b5"/>
<circle cx="1532.9" cy="514.8" r="9.5" fill="#776ab0"/>
<circle cx="1556.4" cy="485.5" r="10.2" fill="#7567ae"/>
<circle cx="1224.6" cy="801.5" r="6.3" fill="#7566ae"/>
<circle cx="1165.9" cy="867.3" r="5.4" fill="#786eb2"/>
<circle cx="1286" cy="763.7" r="9.9" fill="#786db2"/>
<circle cx="1228.4" cy="733.8" r="4.9" fill="#65489f"/>
<circle cx="1316.2" cy="667.3" r="3.4" fill="#66499f"/>
<circle cx="1516.1" cy="486.9" r="3" fill="#6e59a7"/>
<circle cx="1310.3" cy="710.1" r="4.2" fill="#694ea2"/>
<circle cx="1246.2" cy="696.8" r="3" fill="#664aa0"/>
<circle cx="1316.3" cy="642.5" r="3.2" fill="#664aa0"/>
<circle cx="1340.6" cy="718.6" r="10.9" fill="#7b73b5"/>
<circle cx="1542.6" cy="489.9" r="5.8" fill="#674ca1"/>
<circle cx="1549.8" cy="476.7" r="3.4" fill="#6e5aa8"/>
<circle cx="1457.4" cy="531.4" r="2.4" fill="#7567ae"/>
<circle cx="1336" cy="692.2" r="5.7" fill="#66499f"/>
<circle cx="1369.8" cy="687.1" r="8.2" fill="#796eb2"/>
<circle cx="1312.1" cy="712.1" r="5.6" fill="#786eb2"/>
<circle cx="1252" cy="776.4" r="5" fill="#776bb1"/>
<circle cx="1238.9" cy="756.5" r="3.8" fill="#63449d"/>
<circle cx="1435.2" cy="601.4" r="8.9" fill="#786eb2"/>
<circle cx="1379.5" cy="606.6" r="3" fill="#6e59a7"/>
<circle cx="1173.7" cy="743" r="2.7" fill="#8b87bf"/>
<circle cx="1189.7" cy="788.4" r="5.5" fill="#6d57a6"/>
<circle cx="1298.2" cy="714.5" r="4.3" fill="#674aa0"/>
<circle cx="1175.9" cy="784.9" r="5.1" fill="#5e3998"/>
<circle cx="1282.1" cy="725.3" r="4.1" fill="#63439c"/>
<circle cx="1235.3" cy="737.3" r="5.2" fill="#694ea2"/>
<circle cx="1506" cy="493.6" r="2.1" fill="#6c55a5"/>
<circle cx="1292.7" cy="715.5" r="5.1" fill="#674ca1"/>
<circle cx="1167.1" cy="745.4" r="2" fill="#817ebb"/>
<circle cx="1196.6" cy="780.6" r="5.6" fill="#62429c"/>
<circle cx="1377.7" cy="643" r="4.6" fill="#6d57a6"/>
<circle cx="1208.1" cy="843.9" r="9.3" fill="#7a71b4"/>
<circle cx="1172.8" cy="764.4" r="3.2" fill="#603d9a"/>
<circle cx="1310.1" cy="639.7" r="4" fill="#817ebb"/>
<circle cx="1149" cy="892.9" r="6.6" fill="#786cb1"/>
<circle cx="1489.7" cy="575.3" r="13.5" fill="#786db2"/>
<circle cx="1206.5" cy="769.6" r="4.7" fill="#6c54a5"/>
<circle cx="1156.6" cy="824.7" r="3.7" fill="#6d57a6"/>
<circle cx="1366.7" cy="600.6" r="3" fill="#6d57a6"/>
<circle cx="1217.7" cy="763.5" r="5.6" fill="#66489f"/>
<circle cx="1229.9" cy="704.1" r="2.8" fill="#7c74b5"/>
<circle cx="1165.6" cy="781.3" r="4.6" fill="#5f3c99"/>
<circle cx="1266.2" cy="775.7" r="6.4" fill="#7970b3"/>
<circle cx="1270.2" cy="737.2" r="4.9" fill="#65479e"/>
<circle cx="1312.3" cy="625.1" r="2.6" fill="#8b87bf"/>
<circle cx="1462.7" cy="524.2" r="4" fill="#694fa2"/>
<circle cx="1226.2" cy="750.7" r="5.3" fill="#63439c"/>
<circle cx="1204.1" cy="789.1" r="5.5" fill="#674ca1"/>
<circle cx="1278.4" cy="695.4" r="3" fill="#64459d"/>
<circle cx="1522.5" cy="517.2" r="9.4" fill="#796fb3"/>
<circle cx="1234.9" cy="799.4" r="6.1" fill="#66499f"/>
<circle cx="1309.1" cy="697.6" r="5.7" fill="#664aa0"/>
<circle cx="1511.5" cy="490.7" r="3.9" fill="#705eaa"/>
<circle cx="1354.1" cy="708.2" r="11.1" fill="#7566ae"/>
<circle cx="1429.2" cy="537.8" r="4.9" fill="#8b87bf"/>
<circle cx="1173.7" cy="862.4" r="7.5" fill="#786cb1"/>
<circle cx="1206.3" cy="714.9" r="2.6" fill="#7363ac"/>
<circle cx="1186" cy="831.1" r="6" fill="#776cb1"/>
<circle cx="1210.2" cy="800.5" r="4.6" fill="#796eb2"/>
<circle cx="1538.9" cy="508.5" r="9.9" fill="#7d77b7"/>
<circle cx="1246.7" cy="778.9" r="6.3" fill="#796fb3"/>
<circle cx="1493.2" cy="504.1" r="2.8" fill="#776ab0"/>
<circle cx="1280.5" cy="740.1" r="5" fill="#7466ae"/>
<circle cx="1206.7" cy="727.2" r="2.9" fill="#7567ae"/>
<circle cx="1244.7" cy="755.8" r="5.6" fill="#664a9f"/>
<circle cx="1490.5" cy="548.9" r="7.4" fill="#786db2"/>
<circle cx="1326.7" cy="637.5" r="3.4" fill="#7363ac"/>
<circle cx="1246.9" cy="728.5" r="3.8" fill="#63439c"/>
<circle cx="1171.8" cy="805.6" r="4.4" fill="#61409b"/>
<circle cx="1168.1" cy="770.9" r="3.3" fill="#6a52a3"/>
<circle cx="1180.5" cy="743.2" r="2.6" fill="#664aa0"/>
<circle cx="1247.9" cy="785.6" r="6.4" fill="#7a72b4"/>
<circle cx="1343.3" cy="614.6" r="3.4" fill="#817ebb"/>
<circle cx="1176.7" cy="762" r="4" fill="#65489f"/>
<circle cx="1351.1" cy="668.2" r="5.6" fill="#65489f"/>
<circle cx="1183.3" cy="862.3" r="8.4" fill="#7669b0"/>
<circle cx="1244.5" cy="710.5" r="3.8" fill="#7160ab"/>
<circle cx="1168.5" cy="775.6" r="5.4" fill="#674ba0"/>
<circle cx="1182.4" cy="779.5" r="4" fill="#674ba0"/>
<circle cx="1169.6" cy="876.6" r="6.5" fill="#796fb3"/>
<circle cx="1389.1" cy="595.4" r="3.2" fill="#6c56a5"/>
<circle cx="1434.7" cy="570.2" r="5.2" fill="#7160ab"/>
<circle cx="1307" cy="658.4" r="3.5" fill="#6d57a6"/>
<circle cx="1274.6" cy="786.5" r="8.5" fill="#7668af"/>
<circle cx="1163.2" cy="877.3" r="4.9" fill="#776ab0"/>
<circle cx="1170.4" cy="841.6" r="5.4" fill="#7669af"/>
<circle cx="1215.4" cy="765.2" r="4.3" fill="#62439c"/>
<circle cx="1406.8" cy="623.6" r="6.1" fill="#66499f"/>
<circle cx="1372.2" cy="579.9" r="2.8" fill="#7c74b5"/>
<circle cx="1414.1" cy="592.3" r="4.5" fill="#6d58a6"/>
<circle cx="1286.1" cy="714" r="4.1" fill="#674ba0"/>
<circle cx="1290.6" cy="668.1" r="2.8" fill="#8b87bf"/>
<circle cx="1470.5" cy="589.5" r="12.9" fill="#7668af"/>
<circle cx="1204.2" cy="807.9" r="4.5" fill="#7668af"/>
<circle cx="1255.4" cy="684.2" r="2.9" fill="#6e58a7"/>
<circle cx="1281.6" cy="674.7" r="2.2" fill="#7363ac"/>
<circle cx="1485.2" cy="525.9" r="3.7" fill="#61409b"/>
<circle cx="1453.4" cy="535.3" r="3.8" fill="#776ab0"/>
<circle cx="1177.9" cy="869.2" r="5.9" fill="#7e78b7"/>
<circle cx="1390.1" cy="599.6" r="4.2" fill="#7668af"/>
<circle cx="1378" cy="579.5" r="2.8" fill="#7c74b5"/>
<circle cx="1251" cy="699.6" r="2.3" fill="#7364ad"/>
<circle cx="1168.4" cy="742.9" r="1.9" fill="#8b87bf"/>
<circle cx="1319.2" cy="724.2" r="7.7" fill="#786db2"/>
<circle cx="1244.9" cy="781.5" r="5.1" fill="#776ab0"/>
<circle cx="1161.9" cy="747.3" r="3.9" fill="#8b87bf"/>
<circle cx="1368.9" cy="650.4" r="4.3" fill="#674ca1"/>
<circle cx="1198.9" cy="844.2" r="6.8" fill="#7970b3"/>
<circle cx="1213.9" cy="809.4" r="5" fill="#776ab0"/>
<circle cx="1242.2" cy="821.6" r="10.8" fill="#786db2"/>
<circle cx="1225.1" cy="832.7" r="8.1" fill="#776bb1"/>
<circle cx="1380" cy="573.7" r="4" fill="#664aa0"/>
<circle cx="1175.7" cy="738.7" r="3" fill="#664aa0"/>
<circle cx="1260.7" cy="785" r="6.5" fill="#7466ae"/>
<circle cx="1442.8" cy="565.5" r="5.3" fill="#7363ad"/>
<circle cx="1407.3" cy="571.2" r="3.2" fill="#6e58a7"/>
<circle cx="1312.2" cy="687.2" r="4.6" fill="#6a52a3"/>
<circle cx="1193.4" cy="736.2" r="2.9" fill="#664aa0"/>
<circle cx="1205.6" cy="727.5" r="3.5" fill="#766ab0"/>
<circle cx="1316.2" cy="657.7" r="2.2" fill="#6d57a6"/>
<circle cx="1397.3" cy="573.9" r="2.9" fill="#6b53a4"/>
<circle cx="1272.9" cy="719.4" r="5.3" fill="#674ca0"/>
<circle cx="1347.1" cy="643" r="5.5" fill="#6a51a3"/>
<circle cx="1258.6" cy="692.5" r="3.7" fill="#7363ac"/>
<circle cx="1193.9" cy="824.3" r="6.1" fill="#7669b0"/>
<circle cx="1313.4" cy="676.8" r="4" fill="#5f3d99"/>
<circle cx="1161.8" cy="741.3" r="2.3" fill="#8b87bf"/>
<circle cx="1188.3" cy="828.7" r="4.9" fill="#786cb1"/>
<circle cx="1547.2" cy="449.5" r="4.7" fill="#664aa0"/>
<circle cx="1207.9" cy="764.7" r="5.8" fill="#694fa2"/>
<circle cx="1182.7" cy="787.3" r="5.3" fill="#674aa0"/>
<circle cx="1295.1" cy="745.8" r="6.6" fill="#7a72b4"/>
<circle cx="1299.8" cy="748.6" r="8.5" fill="#776ab0"/>
<circle cx="1289.6" cy="709.3" r="4" fill="#5e3998"/>
<circle cx="1354.3" cy="706" r="10.2" fill="#796eb2"/>
<circle cx="1151.2" cy="918.7" r="5.9" fill="#7464ad"/>
<circle cx="1215.2" cy="728.4" r="3" fill="#6d57a6"/>
<circle cx="1298.7" cy="688" r="3.6" fill="#603d9a"/>
<circle cx="1261.1" cy="744.1" r="5.3" fill="#65479e"/>
<circle cx="1156.9" cy="784.7" r="5.4" fill="#6c55a5"/>
<circle cx="1287.7" cy="664.6" r="3" fill="#7363ac"/>
<circle cx="1527.1" cy="492.8" r="4" fill="#6c55a5"/>
<circle cx="1244.2" cy="802.4" r="8.6" fill="#796fb3"/>
<circle cx="1457.9" cy="604" r="14.5" fill="#7b73b5"/>
<circle cx="1255.1" cy="749.7" r="4.8" fill="#66499f"/>
<circle cx="1250.1" cy="746.6" r="4.6" fill="#66499f"/>
<circle cx="1293.3" cy="728.2" r="5.5" fill="#776cb1"/>
<circle cx="1215" cy="853.9" r="7.1" fill="#786db2"/>
<circle cx="1326.6" cy="725.9" r="10.2" fill="#7970b3"/>
<circle cx="1236.9" cy="761.4" r="4.3" fill="#6b54a4"/>
<circle cx="1260.1" cy="705.5" r="3.2" fill="#6b53a4"/>
<circle cx="1157.3" cy="889.6" r="5.8" fill="#7b74b5"/>
<circle cx="1187.4" cy="805.2" r="6.2" fill="#65489f"/>
<circle cx="1161" cy="834.5" r="4.9" fill="#6b54a4"/>
<circle cx="1318.5" cy="701.7" r="5.8" fill="#6c55a5"/>
<circle cx="1210.6" cy="798.9" r="4.3" fill="#7465ae"/>
<circle cx="1316.2" cy="709.3" r="5.3" fill="#7568af"/>
<circle cx="1366.4" cy="683.4" r="9.6" fill="#796fb3"/>
<circle cx="1279.8" cy="692.9" r="3.3" fill="#63449d"/>
<circle cx="1319.7" cy="676.6" r="3.7" fill="#62419c"/>
<circle cx="1170.2" cy="717.9" r="2.7" fill="#6e58a7"/>
<circle cx="1215.3" cy="773" r="5.6" fill="#5e3998"/>
<circle cx="1192.7" cy="738.3" r="3.6" fill="#6e58a7"/>
<circle cx="1434.7" cy="537.9" r="3.4" fill="#817ebb"/>
<circle cx="1160.3" cy="768.1" r="2.3" fill="#715faa"/>
<circle cx="1208.9" cy="763" r="5.4" fill="#684da1"/>
<circle cx="1144" cy="889.7" r="7.1" fill="#776ab0"/>
<circle cx="1254.1" cy="696.8" r="2.5" fill="#7363ac"/>
<circle cx="1515.5" cy="475.9" r="3.7" fill="#7363ac"/>
<circle cx="1507.5" cy="499.5" r="2.9" fill="#6f5ca9"/>
<circle cx="1324.8" cy="694.1" r="4.3" fill="#64469e"/>
<circle cx="1466.2" cy="531.4" r="3" fill="#684ea2"/>
<circle cx="1222.3" cy="804.8" r="4.6" fill="#7a71b4"/>
<circle cx="1191.7" cy="733.1" r="2.2" fill="#7363ac"/>
<circle cx="1144.8" cy="892.9" r="7.6" fill="#786db2"/>
<circle cx="1274.9" cy="756.5" r="5.6" fill="#7b73b5"/>
<circle cx="1406.2" cy="591.6" r="3.2" fill="#65489f"/>
<circle cx="1362.8" cy="581.4" r="4.2" fill="#664aa0"/>
<circle cx="1166.3" cy="740.6" r="2.6" fill="#7c74b5"/>
<circle cx="1496" cy="559.9" r="10.4" fill="#7669b0"/>
<circle cx="1247.5" cy="740.2" r="5.7" fill="#694fa2"/>
<circle cx="1156.1" cy="753" r="3" fill="#7c74b5"/>
<circle cx="1220.1" cy="772" r="4.2" fill="#6b52a4"/>
<circle cx="1230.1" cy="728.1" r="2.2" fill="#7567ae"/>
<circle cx="1188.5" cy="822.3" r="4.6" fill="#776bb0"/>
<circle cx="1428.8" cy="537.5" r="5.3" fill="#7c74b5"/>
<circle cx="1511.6" cy="538" r="8.1" fill="#786eb2"/>
<circle cx="1428" cy="599.1" r="7.4" fill="#796fb3"/>
<circle cx="1162" cy="893.3" r="5.4" fill="#786db2"/>
<circle cx="1255.7" cy="702.3" r="2.1" fill="#6e5aa8"/>
<circle cx="1311.8" cy="681.4" r="4.8" fill="#694fa2"/>
<circle cx="1210.3" cy="706.2" r="2.4" fill="#7c74b5"/>
<circle cx="1242.7" cy="752.2" r="5.5" fill="#66499f"/>
<circle cx="1216.9" cy="692.1" r="2.5" fill="#664aa0"/>
<circle cx="1477.4" cy="575.1" r="11.2" fill="#7464ad"/>
<circle cx="1318.4" cy="629.1" r="2.2" fill="#664aa0"/>
<circle cx="1366.8" cy="656.7" r="4.7" fill="#6d57a6"/>
<circle cx="1305.8" cy="659.1" r="3.2" fill="#7160ab"/>
<circle cx="1152.1" cy="809.5" r="3.7" fill="#6d56a6"/>
<circle cx="1213.9" cy="837.2" r="8.8" fill="#786db1"/>
<circle cx="1425.8" cy="592" r="4.2" fill="#7669b0"/>
<circle cx="1241.4" cy="830.5" r="9.8" fill="#66499f"/>
<circle cx="1166.5" cy="776.5" r="3.2" fill="#63439d"/>
<circle cx="1168.9" cy="744" r="2.3" fill="#766ab0"/>
<circle cx="1212.8" cy="785.6" r="4.3" fill="#66499f"/>
<circle cx="1160.1" cy="764.7" r="2.6" fill="#715faa"/>
<circle cx="1147.4" cy="754.8" r="1.9" fill="#766ab0"/>
<circle cx="1289.7" cy="743.8" r="6.4" fill="#7566ae"/>
<circle cx="1167.1" cy="753.8" r="2.1" fill="#705da9"/>
<circle cx="1302.7" cy="652.1" r="3.7" fill="#766ab0"/>
<circle cx="1202.8" cy="830.1" r="5.9" fill="#776ab0"/>
<circle cx="1205.7" cy="712.5" r="3.4" fill="#817ebb"/>
<circle cx="1214.7" cy="784.8" r="5.5" fill="#684da1"/>
<circle cx="1201" cy="752" r="5.3" fill="#6d56a6"/>
<circle cx="1447.6" cy="548.5" r="4.6" fill="#715eaa"/>
<circle cx="1201.3" cy="788.9" r="5" fill="#684da1"/>
<circle cx="1165.1" cy="880.2" r="7.2" fill="#7668af"/>
<circle cx="1456.4" cy="551.2" r="5.2" fill="#7567af"/>
<circle cx="1254.5" cy="716.9" r="3" fill="#684da1"/>
<circle cx="1383.2" cy="669.9" r="9.9" fill="#786db2"/>
<circle cx="1548.3" cy="506.4" r="14.2" fill="#7b73b5"/>
<circle cx="1150.5" cy="778" r="3.8" fill="#715fab"/>
<circle cx="1247.9" cy="727.3" r="4.2" fill="#66499f"/>
<circle cx="1306.1" cy="695.6" r="5.3" fill="#62429c"/>
<circle cx="1372.7" cy="632.6" r="3.9" fill="#6a52a3"/>
<circle cx="1200.2" cy="733.4" r="2.7" fill="#705eaa"/>
<circle cx="1205.5" cy="779" r="5.5" fill="#65479e"/>
<circle cx="1396" cy="604.3" r="4.8" fill="#7669af"/>
<circle cx="1185.2" cy="883.8" r="8.7" fill="#786cb1"/>
<circle cx="1383.8" cy="629.8" r="4.4" fill="#6f5ba8"/>
<circle cx="1157.2" cy="788.5" r="3.5" fill="#664a9f"/>
<circle cx="1254.7" cy="791.7" r="7.5" fill="#7669b0"/>
<circle cx="1307.9" cy="761.6" r="9.9" fill="#7669b0"/>
<circle cx="1230" cy="737.8" r="5" fill="#674ba0"/>
<circle cx="1164.3" cy="789.4" r="3.4" fill="#6c54a5"/>
<circle cx="1279.7" cy="745.5" r="5.5" fill="#7a71b4"/>
<circle cx="1196" cy="809.2" r="4.7" fill="#776bb0"/>
<circle cx="1163.4" cy="808.7" r="5" fill="#6a50a3"/>
<circle cx="1288.2" cy="703.7" r="4.6" fill="#64469e"/>
<circle cx="1228.1" cy="739.8" r="4.8" fill="#64459d"/>
<circle cx="1321.2" cy="637.2" r="4" fill="#6e58a7"/>
<circle cx="1502.8" cy="546.1" r="9.9" fill="#7568af"/>
<circle cx="1298.9" cy="666.4" r="3.5" fill="#684ea1"/>
<circle cx="1533.8" cy="461.3" r="5" fill="#6e58a7"/>
<circle cx="1505.8" cy="523" r="5.8" fill="#7669af"/>
<circle cx="1398.6" cy="567.3" r="2.5" fill="#7c74b5"/>
<circle cx="1171.7" cy="767.9" r="5.1" fill="#694fa2"/>
<circle cx="1151.2" cy="876.2" r="5" fill="#7669b0"/>
<circle cx="1408.9" cy="609.8" r="5.4" fill="#705da9"/>
<circle cx="1345.6" cy="659.9" r="5.3" fill="#664a9f"/>
<circle cx="1248.5" cy="791.7" r="7" fill="#786eb2"/>
<circle cx="1190.2" cy="798.5" r="5.5" fill="#6b52a4"/>
<circle cx="1283.5" cy="718.1" r="5.4" fill="#6d57a6"/>
<circle cx="1265.8" cy="748.8" r="4.7" fill="#7464ad"/>
<circle cx="1440.2" cy="574.2" r="5" fill="#6f5aa8"/>
<circle cx="1187.4" cy="863" r="6.6" fill="#7a70b3"/>
<circle cx="1289.4" cy="776.6" r="7.3" fill="#796fb3"/>
<circle cx="1160.8" cy="745.8" r="3.1" fill="#766ab0"/>
<circle cx="1171.2" cy="758.3" r="3.1" fill="#7669b0"/>
<circle cx="1514.4" cy="527.8" r="8.4" fill="#7a70b3"/>
<circle cx="1160.4" cy="753.1" r="3.5" fill="#715faa"/>
<circle cx="1509.9" cy="522.2" r="3.8" fill="#7262ac"/>
<circle cx="1315.6" cy="738.3" r="10.2" fill="#7669b0"/>
<circle cx="1162" cy="753.9" r="3.6" fill="#817ebb"/>
<circle cx="1178.3" cy="763" r="3.3" fill="#6b52a4"/>
<circle cx="1310.4" cy="684.5" r="3.9" fill="#65479e"/>
<circle cx="1198.6" cy="852.1" r="8.2" fill="#766ab0"/>
<circle cx="1276.5" cy="673.4" r="3.8" fill="#766ab0"/>
<circle cx="1356.3" cy="642.3" r="4.2" fill="#6950a2"/>
<circle cx="1435" cy="579.2" r="5.7" fill="#705da9"/>
<circle cx="1227.3" cy="708.1" r="2.4" fill="#817ebb"/>
<circle cx="1302.6" cy="725.7" r="5.6" fill="#776cb1"/>
<circle cx="1161.1" cy="742.4" r="3.5" fill="#766ab0"/>
<circle cx="1465.6" cy="583.6" r="11.9" fill="#7568af"/>
<circle cx="1167.8" cy="749.3" r="3.8" fill="#7c74b5"/>
<circle cx="1210.4" cy="722.6" r="2" fill="#7363ac"/>
<circle cx="1431.1" cy="638.3" r="11.1" fill="#7669b0"/>
<circle cx="1166.6" cy="834.1" r="4.8" fill="#796fb3"/>
<circle cx="1151.3" cy="821.5" r="6" fill="#684ca1"/>
<circle cx="1250.3" cy="688.3" r="3" fill="#7c74b5"/>
<circle cx="1254.9" cy="727.7" r="4.2" fill="#6a51a3"/>
<circle cx="1203.5" cy="728.4" r="2.7" fill="#6e58a7"/>
<circle cx="1149.2" cy="873.8" r="5.7" fill="#786eb2"/>
<circle cx="1352.9" cy="690.2" r="9.4" fill="#776bb0"/>
<circle cx="1219.2" cy="748.7" r="4.7" fill="#694fa2"/>
<circle cx="1220.9" cy="764.4" r="4" fill="#6950a2"/>
<circle cx="1148" cy="916" r="9.9" fill="#7669b0"/>
<circle cx="1214" cy="764" r="5.1" fill="#6b54a4"/>
<circle cx="1467" cy="569.4" r="6.3" fill="#786db2"/>
<circle cx="1155" cy="751.2" r="3.1" fill="#7c74b5"/>
<circle cx="1213.7" cy="726.2" r="2.6" fill="#766ab0"/>
<circle cx="1346.4" cy="718.1" r="9.4" fill="#7a71b4"/>
<circle cx="1346.1" cy="686.5" r="7.2" fill="#66499f"/>
<circle cx="1541.7" cy="461.1" r="4.3" fill="#7c74b5"/>
<circle cx="1494.9" cy="512.4" r="5" fill="#715faa"/>
<circle cx="1339.7" cy="673.5" r="4.3" fill="#66499f"/>
<circle cx="1175.7" cy="805.6" r="5.5" fill="#6a51a3"/>
<circle cx="1181.8" cy="743.3" r="2.1" fill="#817ebb"/>
<circle cx="1254.9" cy="714.1" r="3.7" fill="#674aa0"/>
<circle cx="1348" cy="637" r="5.2" fill="#694fa2"/>
<circle cx="1370.9" cy="594.6" r="2.3" fill="#7363ac"/>
<circle cx="1183.4" cy="786.4" r="4.5" fill="#6a50a3"/>
<circle cx="1147.3" cy="833" r="6.2" fill="#603d9a"/>
<circle cx="1413.4" cy="500.9" r="4" fill="#6e58a7"/>
<circle cx="1484" cy="482" r="5" fill="#766ab0"/>
<circle cx="1186.3" cy="771.4" r="5.5" fill="#65489f"/>
<circle cx="1427.9" cy="591.6" r="3.8" fill="#6f5ba8"/>
<circle cx="1216.2" cy="810.3" r="7" fill="#7669b0"/>
<circle cx="1189.3" cy="812.5" r="5.3" fill="#62439c"/>
<circle cx="1333.5" cy="623.5" r="3.3" fill="#766ab0"/>
<circle cx="1339.2" cy="701.7" r="7" fill="#7a70b3"/>
<circle cx="1209.3" cy="723.9" r="3.6" fill="#664aa0"/>
<circle cx="1399.8" cy="541.9" r="3.6" fill="#8b87bf"/>
<circle cx="1183.6" cy="813.4" r="4.9" fill="#7261ab"/>
<circle cx="1240.5" cy="762.9" r="6.2" fill="#6950a2"/>
<circle cx="1314.6" cy="658.4" r="3.2" fill="#6f5ca9"/>
<circle cx="1259.6" cy="733" r="5.1" fill="#65479e"/>
<circle cx="1550.7" cy="496.1" r="7.5" fill="#7c75b6"/>
<circle cx="1172.4" cy="809.7" r="6" fill="#63439c"/>
<circle cx="1267.6" cy="673.3" r="3.5" fill="#664aa0"/>
<circle cx="1255.2" cy="760.1" r="4.5" fill="#6b53a4"/>
<circle cx="1387.8" cy="629.6" r="5" fill="#6950a2"/>
<circle cx="1146.7" cy="743.7" r="3.3" fill="#766ab0"/>
<circle cx="1313.5" cy="623.4" r="3" fill="#8b87bf"/>
<circle cx="1266.6" cy="688.4" r="4" fill="#817ebb"/>
<circle cx="1230.4" cy="804.4" r="5.9" fill="#796fb3"/>
<circle cx="1400.9" cy="599.8" r="4.7" fill="#6f5ca9"/>
<circle cx="1521.8" cy="516.3" r="8.7" fill="#796eb2"/>
<circle cx="1213" cy="812.1" r="6.7" fill="#7a71b4"/>
<circle cx="1184.4" cy="735.5" r="2" fill="#8b87bf"/>
<circle cx="1221.5" cy="717.3" r="3.9" fill="#664aa0"/>
<circle cx="1309.1" cy="762.4" r="11.9" fill="#7669af"/>
<circle cx="1207.2" cy="840.3" r="6.2" fill="#776ab0"/>
<circle cx="1328.3" cy="714.2" r="7" fill="#7566ae"/>
<circle cx="1550.2" cy="490.1" r="6.6" fill="#7566ae"/>
<circle cx="1253.3" cy="721.5" r="5.1" fill="#684ea1"/>
<circle cx="1209.1" cy="724" r="2" fill="#664aa0"/>
<circle cx="1277" cy="716.1" r="5.9" fill="#64469e"/>
<circle cx="1165.8" cy="892.4" r="8.1" fill="#7669b0"/>
<circle cx="1436.2" cy="550.7" r="3.8" fill="#705da9"/>
<circle cx="1230.2" cy="766.7" r="4.3" fill="#6d57a6"/>
<circle cx="1340.8" cy="624.2" r="4.2" fill="#6e59a7"/>
<circle cx="1174.8" cy="776.2" r="3.5" fill="#6d58a6"/>
<circle cx="1281.5" cy="733" r="5.3" fill="#694fa2"/>
<circle cx="1162.2" cy="799.7" r="4.3" fill="#684ea1"/>
<circle cx="1334" cy="656.6" r="4.9" fill="#674ca1"/>
<circle cx="1168.4" cy="729.2" r="2.5" fill="#817ebb"/>
<circle cx="1394.5" cy="586.4" r="3.4" fill="#6e59a7"/>
<circle cx="1175.3" cy="873.5" r="6.6" fill="#7465ae"/>
<circle cx="1221.1" cy="716.8" r="2.5" fill="#8b87bf"/>
<circle cx="1149.1" cy="864.2" r="5.4" fill="#7465ad"/>
<circle cx="1298.7" cy="658" r="2.2" fill="#8b87bf"/>
<circle cx="1164.8" cy="888.8" r="7.5" fill="#7669b0"/>
<circle cx="1198.4" cy="858.8" r="7.5" fill="#786cb1"/>
<circle cx="1167.2" cy="727.8" r="1.9" fill="#7c74b5"/>
<circle cx="1229.4" cy="776.2" r="5" fill="#6b53a4"/>
<circle cx="1167.9" cy="787.3" r="4.7" fill="#664aa0"/>
<circle cx="1319.5" cy="685" r="5.1" fill="#65489f"/>
<circle cx="1186.9" cy="890.8" r="8.2" fill="#7466ae"/>
<circle cx="1204.7" cy="799" r="3.9" fill="#6d57a6"/>
<circle cx="1147.9" cy="844.8" r="3.8" fill="#7567af"/>
<circle cx="1424.8" cy="506.2" r="3.8" fill="#766ab0"/>
<circle cx="1168.7" cy="756.5" r="3.9" fill="#7261ac"/>
<circle cx="1235.6" cy="807.4" r="8.5" fill="#7464ad"/>
<circle cx="1302.2" cy="658.9" r="3.2" fill="#7c74b5"/>
<circle cx="1183.4" cy="785.9" r="3.7" fill="#64469e"/>
<circle cx="1408.3" cy="566.9" r="3.6" fill="#705eaa"/>
<circle cx="1477.1" cy="570.1" r="8.7" fill="#796eb2"/>
<circle cx="1253.2" cy="722" r="5.5" fill="#603e9a"/>
<circle cx="1339" cy="671.6" r="4.8" fill="#6950a2"/>
<circle cx="1201.6" cy="825.3" r="5.1" fill="#7261ac"/>
<circle cx="1389" cy="578.7" r="3.7" fill="#7261ac"/>
<circle cx="1362.5" cy="630.4" r="4.2" fill="#63439c"/>
<circle cx="1307.9" cy="719.8" r="5.5" fill="#7567af"/>
<circle cx="1216.7" cy="768.2" r="4.7" fill="#6b53a4"/>
<circle cx="1162.9" cy="877.9" r="7.7" fill="#7568af"/>
<circle cx="1267.6" cy="675.9" r="3" fill="#664aa0"/>
<circle cx="1238.4" cy="781.3" r="4.8" fill="#766ab0"/>
<circle cx="1156.4" cy="852.4" r="4" fill="#786eb2"/>
<circle cx="1254.7" cy="727.6" r="3.1" fill="#6b54a4"/>
<circle cx="1515.1" cy="505.5" r="4.6" fill="#674ba0"/>
<circle cx="1405.4" cy="579.4" r="4.5" fill="#705eaa"/>
<circle cx="1156.1" cy="865.8" r="4.6" fill="#66499f"/>
<circle cx="1152.8" cy="878.1" r="5.2" fill="#776bb1"/>
<circle cx="1190" cy="823.8" r="4.8" fill="#786db2"/>
<circle cx="1251.4" cy="760.4" r="6" fill="#6d58a6"/>
<circle cx="1270.7" cy="733.9" r="5.7" fill="#6b52a4"/>
<circle cx="1145.4" cy="804.4" r="3.8" fill="#684ea2"/>
<circle cx="1209.5" cy="780.2" r="4.5" fill="#664aa0"/>
<circle cx="1291.4" cy="701.2" r="4.5" fill="#65479e"/>
<circle cx="1150.8" cy="823.3" r="4.8" fill="#684ea1"/>
<circle cx="1269.8" cy="749.5" r="6" fill="#796eb2"/>
<circle cx="1176.6" cy="784.1" r="4.6" fill="#5e3998"/>
<circle cx="1307.5" cy="692.7" r="3.4" fill="#674ca1"/>
<circle cx="1248.7" cy="716.1" r="5.3" fill="#694fa2"/>
<circle cx="1484.2" cy="543.9" r="4.3" fill="#786db2"/>
<circle cx="1491.8" cy="542.1" r="4.8" fill="#664aa0"/>
<circle cx="1244.1" cy="817" r="6.8" fill="#7669af"/>
<circle cx="1187.4" cy="795.8" r="4.9" fill="#66499f"/>
<circle cx="1272.7" cy="690.3" r="2.6" fill="#6e59a7"/>
<circle cx="1159" cy="805.5" r="5.4" fill="#64459d"/>
<circle cx="1278.8" cy="672.4" r="4.1" fill="#7363ac"/>
<circle cx="1525.4" cy="492.6" r="5.7" fill="#7669af"/>
<circle cx="1347.1" cy="689.4" r="8.5" fill="#7970b3"/>
<circle cx="1310.8" cy="670.1" r="4.1" fill="#6b54a5"/>
<circle cx="1201.4" cy="754.5" r="4.5" fill="#63449d"/>
<circle cx="1148.6" cy="809.1" r="4.3" fill="#674ba0"/>
<circle cx="1318.5" cy="730" r="6.1" fill="#786eb2"/>
<circle cx="1515.4" cy="531.3" r="10.4" fill="#776bb1"/>
<circle cx="1173.7" cy="733.1" r="3.2" fill="#6e58a7"/>
<circle cx="1352.2" cy="619.5" r="3" fill="#6a52a3"/>
<circle cx="1327.4" cy="637.2" r="3.3" fill="#8b87bf"/>
<circle cx="1146.4" cy="792" r="3" fill="#65479e"/>
<circle cx="1184.6" cy="789.5" r="3.6" fill="#66499f"/>
<circle cx="1281.6" cy="657.1" r="2.1" fill="#6e58a7"/>
<circle cx="1492.1" cy="556.7" r="7.7" fill="#796fb3"/>
<circle cx="1252" cy="740.6" r="4" fill="#664aa0"/>
<circle cx="1303.5" cy="698.1" r="5.1" fill="#65479e"/>
<circle cx="1385.1" cy="605" r="5.4" fill="#65489f"/>
<circle cx="1464.4" cy="563.9" r="6.3" fill="#715faa"/>
<circle cx="1190.1" cy="838.6" r="5.3" fill="#786db2"/>
<circle cx="1308" cy="649.9" r="2.9" fill="#7363ac"/>
<circle cx="1300.2" cy="709.5" r="4.8" fill="#65489f"/>
<circle cx="1173.4" cy="873.6" r="8.4" fill="#7669af"/>
<circle cx="1234.3" cy="789.8" r="6.3" fill="#776bb1"/>
<circle cx="1175.4" cy="820.8" r="4.6" fill="#6e59a7"/>
<circle cx="1426.7" cy="590.4" r="6.2" fill="#7364ad"/>
<circle cx="1214.4" cy="822.9" r="5.5" fill="#7a70b3"/>
<circle cx="1229.3" cy="710.2" r="3.9" fill="#7363ac"/>
<circle cx="1219.3" cy="826" r="6.2" fill="#7668af"/>
<circle cx="1175.6" cy="847" r="4.3" fill="#7a72b4"/>
<circle cx="1238.7" cy="768.9" r="4.6" fill="#65479e"/>
<circle cx="1294.2" cy="713.2" r="4.6" fill="#684da1"/>
<circle cx="1525.2" cy="483.1" r="3" fill="#786db2"/>
<circle cx="1459.6" cy="561.6" r="4.2" fill="#7b74b5"/>
<circle cx="1168" cy="755.6" r="2.4" fill="#715faa"/>
<circle cx="1210.1" cy="833.4" r="6.3" fill="#7669b0"/>
<circle cx="1214.9" cy="818.1" r="5.3" fill="#7465ae"/>
<circle cx="1316.7" cy="660.6" r="4.1" fill="#66499f"/>
<circle cx="1253.7" cy="803.8" r="9.4" fill="#715faa"/>
<circle cx="1284.9" cy="773.9" r="7.8" fill="#766ab0"/>
<circle cx="1155.3" cy="864.9" r="5.5" fill="#786eb2"/>
<circle cx="1372.1" cy="674.2" r="9" fill="#776bb1"/>
<circle cx="1377.3" cy="641.2" r="6.1" fill="#603e9a"/>
<circle cx="1206" cy="845.1" r="7.4" fill="#7567ae"/>
<circle cx="1224" cy="775.2" r="5.8" fill="#6950a2"/>
<circle cx="1182.5" cy="742.1" r="2.9" fill="#8b87bf"/>
<circle cx="1206.2" cy="747.4" r="2.8" fill="#6d56a6"/>
<circle cx="1242.1" cy="825.1" r="7.2" fill="#776bb0"/>
<circle cx="1236" cy="785.5" r="5.1" fill="#776cb1"/>
<circle cx="1156.5" cy="829.9" r="5.5" fill="#61409b"/>
<circle cx="1340.4" cy="636.7" r="3.1" fill="#674ca1"/>
<circle cx="1297.7" cy="678.8" r="5.1" fill="#62439c"/>
<circle cx="1522.9" cy="490.5" r="5.1" fill="#65489f"/>
<circle cx="1203.3" cy="842.5" r="9.1" fill="#7668af"/>
<circle cx="1225" cy="714.8" r="2.9" fill="#766ab0"/>
<circle cx="1151" cy="884.7" r="5.2" fill="#7669b0"/>
<circle cx="1295.6" cy="698" r="5.8" fill="#6b52a4"/>
<circle cx="1240.4" cy="823.7" r="11.2" fill="#7669af"/>
<circle cx="1177.1" cy="812.1" r="3.9" fill="#5e3998"/>
<circle cx="1168.4" cy="744.8" r="3.3" fill="#6e58a7"/>
<circle cx="1149.7" cy="757.5" r="3.1" fill="#7c74b5"/>
<circle cx="1312.4" cy="651.5" r="2.2" fill="#7669af"/>
<circle cx="1529.4" cy="525.9" r="11.2" fill="#776ab0"/>
<circle cx="1324.8" cy="661" r="3.2" fill="#6c54a5"/>
<circle cx="1411.9" cy="570.8" r="2.4" fill="#7464ad"/>
<circle cx="1362.1" cy="679.2" r="7.9" fill="#7364ad"/>
<circle cx="1257.5" cy="680.3" r="2.1" fill="#817ebb"/>
<circle cx="1423.2" cy="602.4" r="6.3" fill="#786db2"/>
<circle cx="1552.3" cy="500.1" r="9.7" fill="#796fb3"/>
<circle cx="1148" cy="760.7" r="2.3" fill="#6e58a7"/>
<circle cx="1275.1" cy="757.2" r="6.5" fill="#7567ae"/>
<circle cx="1179.8" cy="738" r="3.2" fill="#7363ac"/>
<circle cx="1458.2" cy="556.2" r="5.9" fill="#776ab0"/>
<circle cx="1518.2" cy="491.8" r="3.6" fill="#7363ad"/>
<circle cx="1153" cy="808" r="3.9" fill="#66499f"/>
<circle cx="1233.1" cy="720.1" r="3.7" fill="#6d57a6"/>
<circle cx="1254" cy="709.9" r="2.8" fill="#684ea2"/>
<circle cx="1256.4" cy="690.6" r="3.1" fill="#664aa0"/>
<circle cx="1245.6" cy="726.7" r="5.4" fill="#63449d"/>
<circle cx="1251.7" cy="708.6" r="3.8" fill="#7465ad"/>
<circle cx="1168.8" cy="864.1" r="6" fill="#7568af"/>
<circle cx="1359.5" cy="640.8" r="4.2" fill="#6a51a3"/>
<circle cx="1248.8" cy="693.4" r="3.1" fill="#8b87bf"/>
<circle cx="1237.8" cy="779.3" r="6.2" fill="#796fb3"/>
<circle cx="1267.5" cy="702.1" r="5.4" fill="#674ca1"/>
<circle cx="1294.6" cy="717.9" r="4.8" fill="#684ea1"/>
<circle cx="1370.9" cy="636.9" r="3.9" fill="#684ca1"/>
<circle cx="1307.9" cy="658.6" r="3.7" fill="#7261ab"/>
<circle cx="1144.9" cy="810.9" r="5.5" fill="#6e5aa8"/>
<circle cx="1218.3" cy="840.6" r="9.6" fill="#7567af"/>
<circle cx="1207.3" cy="798" r="4.2" fill="#7a70b3"/>
<circle cx="1408.1" cy="610.3" r="5.7" fill="#6f5ba8"/>
<circle cx="1423.4" cy="617.8" r="7.9" fill="#7669af"/>
<circle cx="1357.3" cy="608.3" r="2.9" fill="#817ebb"/>
<circle cx="1306.2" cy="651.9" r="3.4" fill="#8b87bf"/>
<circle cx="1407.2" cy="657.1" r="13" fill="#7a71b4"/>
<circle cx="1186.6" cy="739.9" r="3.1" fill="#766ab0"/>
<circle cx="1360.6" cy="656.6" r="5.6" fill="#62429c"/>
<circle cx="1264.3" cy="695.7" r="2.1" fill="#766ab0"/>
<circle cx="1273.2" cy="693.9" r="3.1" fill="#7362ac"/>
<circle cx="1451.6" cy="614.3" r="14.1" fill="#7466ae"/>
<circle cx="1190.1" cy="834.8" r="4.9" fill="#796fb3"/>
<circle cx="1229.6" cy="763.7" r="4.9" fill="#603d9a"/>
<circle cx="1450.1" cy="608" r="8.5" fill="#776cb1"/>
<circle cx="1324.2" cy="646.8" r="2.7" fill="#7363ac"/>
<circle cx="1199" cy="734" r="3.6" fill="#817ebb"/>
<circle cx="1338.4" cy="625.8" r="2.9" fill="#8b87bf"/>
<circle cx="1261.1" cy="761.4" r="5.4" fill="#766ab0"/>
<circle cx="1265.3" cy="689.5" r="3.3" fill="#766ab0"/>
<circle cx="1462.5" cy="568" r="6" fill="#7465ad"/>
<circle cx="1284.8" cy="694.4" r="4.9" fill="#6a50a3"/>
<circle cx="1330" cy="671" r="5.5" fill="#6d58a7"/>
<circle cx="1451.6" cy="557.3" r="4.1" fill="#705da9"/>
<circle cx="1322.4" cy="716.5" r="7.1" fill="#7b74b5"/>
<circle cx="1176.2" cy="738.1" r="2" fill="#664aa0"/>
<circle cx="1210.7" cy="829.4" r="7.8" fill="#7e78b7"/>
<circle cx="1153.5" cy="779.5" r="4.2" fill="#705eaa"/>
<circle cx="1184" cy="794.1" r="5.5" fill="#6a51a3"/>
<circle cx="1255" cy="767.2" r="5.9" fill="#7668af"/>
<circle cx="1289.3" cy="641" r="3.5" fill="#7c74b5"/>
<circle cx="1171.7" cy="809.4" r="4.8" fill="#684ea2"/>
<circle cx="1459" cy="549.9" r="3.8" fill="#6e5aa8"/>
<circle cx="1386.9" cy="572" r="3.6" fill="#766ab0"/>
<circle cx="1220.1" cy="814.9" r="6.1" fill="#786db1"/>
<circle cx="1350" cy="674.5" r="5.7" fill="#776bb0"/>
<circle cx="1198.9" cy="844.8" r="6.2" fill="#7b72b4"/>
<circle cx="1175.3" cy="777.5" r="4.8" fill="#674ba0"/>
<circle cx="1401.2" cy="670.4" r="10.5" fill="#7669b0"/>
<circle cx="1340.3" cy="678.2" r="5.7" fill="#6d57a6"/>
<circle cx="1188.4" cy="808.3" r="6" fill="#65479e"/>
<circle cx="1348.4" cy="663.2" r="6.1" fill="#674ba0"/>
<circle cx="1168.8" cy="747.3" r="2.6" fill="#8b87bf"/>
<circle cx="1238.8" cy="729" r="5.1" fill="#64469e"/>
<circle cx="1227.7" cy="706.7" r="3.5" fill="#8b87bf"/>
<circle cx="1258.3" cy="730.2" r="5.4" fill="#6e59a7"/>
<circle cx="1290" cy="712.5" r="5.8" fill="#684da1"/>
<circle cx="1170.5" cy="773.8" r="4.9" fill="#5f3c99"/>
<circle cx="1302.9" cy="659.3" r="4.1" fill="#664aa0"/>
<circle cx="1204.4" cy="752.2" r="2.9" fill="#63449d"/>
<circle cx="1239.6" cy="716.6" r="3.9" fill="#7568af"/>
<circle cx="1157.5" cy="728.6" r="3.8" fill="#8b87bf"/>
<circle cx="1157" cy="781.6" r="4.9" fill="#674aa0"/>
<circle cx="1422.9" cy="605.5" r="6.2" fill="#66499f"/>
<circle cx="1412.9" cy="554.9" r="3.8" fill="#7566ae"/>
<circle cx="1336.6" cy="704.5" r="6.8" fill="#776bb0"/>
<circle cx="1232.6" cy="792.3" r="6.3" fill="#776cb1"/>
<circle cx="1362.1" cy="644.5" r="6" fill="#65479e"/>
<circle cx="1301.8" cy="759.1" r="10.4" fill="#7567af"/>
<circle cx="1178.4" cy="865.4" r="5.5" fill="#786eb2"/>
<circle cx="1362.6" cy="624.9" r="5.5" fill="#7260ab"/>
<circle cx="1372.9" cy="684.8" r="11.7" fill="#7a72b4"/>
<circle cx="1321.9" cy="699.6" r="5.6" fill="#776cb1"/>
<circle cx="1331" cy="689.6" r="6.3" fill="#6b53a4"/>
<circle cx="1164.8" cy="752.4" r="3.3" fill="#7363ac"/>
<circle cx="1177.5" cy="774.1" r="4.9" fill="#674ba0"/>
<circle cx="1253.3" cy="712.5" r="2.1" fill="#6d58a6"/>
<circle cx="1493.2" cy="525.6" r="4.3" fill="#705eaa"/>
<circle cx="1263.4" cy="672.4" r="3.2" fill="#7c74b5"/>
<circle cx="1373.2" cy="592.5" r="2.9" fill="#766ab0"/>
<circle cx="1174" cy="878" r="8.6" fill="#7a71b4"/>
<circle cx="1320.2" cy="709.5" r="5.9" fill="#786db2"/>
<circle cx="1162.5" cy="866.4" r="4.9" fill="#776bb0"/>
<circle cx="1502.9" cy="527.9" r="4.9" fill="#776bb1"/>
<circle cx="1291.4" cy="703.7" r="5.2" fill="#65489f"/>
<circle cx="1309.4" cy="642.3" r="4.1" fill="#8b87bf"/>
<circle cx="1235.4" cy="778.6" r="5.4" fill="#766ab0"/>
<circle cx="1222.1" cy="826.4" r="7" fill="#7567ae"/>
<circle cx="1349.1" cy="646.6" r="5.8" fill="#61409b"/>
<circle cx="1437.1" cy="620.1" r="9.6" fill="#786cb1"/>
<circle cx="1210.4" cy="689.4" r="3.8" fill="#7c74b5"/>
<circle cx="1499.9" cy="492.1" r="4.2" fill="#817ebb"/>
<circle cx="1224.7" cy="840.9" r="8.9" fill="#7b73b5"/>
<circle cx="1204.9" cy="777.5" r="5.5" fill="#65479e"/>
<circle cx="1359.5" cy="615.4" r="4.1" fill="#6f5ba8"/>
<circle cx="1276.9" cy="746.8" r="6" fill="#766ab0"/>
<circle cx="1188.2" cy="856.7" r="6.5" fill="#7669af"/>
<circle cx="1498.9" cy="491.2" r="4.1" fill="#766ab0"/>
<circle cx="1161.2" cy="800.2" r="4.7" fill="#6a51a3"/>
<circle cx="1173.3" cy="904.4" r="6.5" fill="#796fb3"/>
<circle cx="1353.1" cy="660.1" r="4.8" fill="#6d57a6"/>
<circle cx="1178" cy="801.7" r="3.7" fill="#674ba0"/>
<circle cx="1295.9" cy="665.9" r="3.8" fill="#8b87bf"/>
<circle cx="1209.2" cy="809.6" r="5.6" fill="#7363ad"/>
<circle cx="1246.7" cy="748.4" r="5.7" fill="#5f3c99"/>
<circle cx="1239.9" cy="734.2" r="3.4" fill="#6a52a3"/>
<circle cx="1215.4" cy="790.1" r="4.3" fill="#62429c"/>
<circle cx="1187.7" cy="831.5" r="4.5" fill="#7466ae"/>
<circle cx="1435.7" cy="604.9" r="6.8" fill="#786db2"/>
<circle cx="1208.4" cy="782.1" r="5.8" fill="#65489f"/>
<circle cx="1345.6" cy="596.9" r="2.5" fill="#6e58a7"/>
<circle cx="1326" cy="709.6" r="5.8" fill="#776bb1"/>
<circle cx="1250.6" cy="698.7" r="3.8" fill="#7363ac"/>
<circle cx="1212.6" cy="723.8" r="3.2" fill="#817ebb"/>
<circle cx="1168.3" cy="745.6" r="2.8" fill="#7c74b5"/>
<circle cx="1218.1" cy="719.3" r="2" fill="#664aa0"/>
<circle cx="1439.8" cy="530.6" r="4.3" fill="#817ebb"/>
<circle cx="1191.3" cy="730.6" r="2.4" fill="#7363ac"/>
<circle cx="1434.1" cy="611.3" r="9.7" fill="#786eb2"/>
<circle cx="1406.9" cy="636.7" r="8.3" fill="#7568af"/>
<circle cx="1282.2" cy="729" r="3.8" fill="#6b53a4"/>
<circle cx="1292.7" cy="752.9" r="9.2" fill="#776cb1"/>
<circle cx="1174.8" cy="781.7" r="3.3" fill="#694fa2"/>
<circle cx="1373.1" cy="631.9" r="4.9" fill="#694fa2"/>
<circle cx="1292.8" cy="689.8" r="4.3" fill="#684da1"/>
<circle cx="1177.1" cy="743.8" r="2.1" fill="#664aa0"/>
<circle cx="1250.3" cy="735.5" r="5.4" fill="#684da1"/>
<circle cx="1190.2" cy="764.6" r="4.9" fill="#684da1"/>
<circle cx="1235.6" cy="710.4" r="3.4" fill="#6d56a6"/>
<circle cx="1158.2" cy="823.4" r="6.1" fill="#684ea1"/>
<circle cx="1337.5" cy="682" r="6.3" fill="#664aa0"/>
<circle cx="1349.2" cy="643.2" r="3.5" fill="#694fa2"/>
<circle cx="1350.2" cy="696.6" r="9.7" fill="#796fb2"/>
<circle cx="1301.4" cy="660.2" r="2.3" fill="#766ab0"/>
<circle cx="1377.4" cy="687.3" r="8.4" fill="#7a72b4"/>
<circle cx="1203.9" cy="810" r="5.4" fill="#786db2"/>
<circle cx="1232" cy="734.2" r="4" fill="#684da1"/>
<circle cx="1247.3" cy="810.3" r="7.8" fill="#7669b0"/>
<circle cx="1308.8" cy="656.8" r="3" fill="#705ca9"/>
<circle cx="1475.1" cy="541.4" r="3.6" fill="#7465ad"/>
<circle cx="1233.1" cy="756.9" r="4.8" fill="#6c56a5"/>
<circle cx="1229.9" cy="741.6" r="5.2" fill="#6a52a3"/>
<circle cx="1421.1" cy="560.5" r="2.8" fill="#715eaa"/>
<circle cx="1374.4" cy="604.4" r="4.6" fill="#6f5aa8"/>
<circle cx="1377.4" cy="575.3" r="3.9" fill="#664aa0"/>
<circle cx="1180.4" cy="805.5" r="3.6" fill="#65489f"/>
<circle cx="1252.7" cy="677.5" r="2.9" fill="#7363ac"/>
<circle cx="1243.5" cy="793.9" r="7.1" fill="#7465ad"/>
<circle cx="1322.4" cy="671.9" r="5.6" fill="#6d58a6"/>
<circle cx="1170.7" cy="780.5" r="3.8" fill="#62429c"/>
<circle cx="1211.7" cy="762.9" r="5.2" fill="#684ea1"/>
<circle cx="1220.3" cy="788.3" r="4.6" fill="#796fb3"/>
<circle cx="1292.5" cy="697.8" r="3.4" fill="#664a9f"/>
<circle cx="1346.1" cy="671.1" r="5.3" fill="#65479e"/>
<circle cx="1162.9" cy="852.2" r="5.7" fill="#7a70b3"/>
<circle cx="1526.7" cy="526.5" r="8.8" fill="#776bb0"/>
<circle cx="1432.3" cy="619.7" r="8.9" fill="#66499f"/>
<circle cx="1296.4" cy="765.5" r="11.2" fill="#7465ae"/>
<circle cx="1352.5" cy="653.7" r="4" fill="#6d57a6"/>
<circle cx="1161.2" cy="752.7" r="3" fill="#6d58a7"/>
<circle cx="1174" cy="734.6" r="3" fill="#664aa0"/>
<circle cx="1291.1" cy="775.8" r="9.5" fill="#776ab0"/>
<circle cx="1168.8" cy="851.1" r="5.9" fill="#766ab0"/>
<circle cx="1457.8" cy="572.2" r="6" fill="#7668af"/>
<circle cx="1221.8" cy="717.7" r="4" fill="#7363ac"/>
<circle cx="1495.6" cy="492.1" r="3" fill="#7669af"/>
<circle cx="1504.6" cy="499.9" r="3.1" fill="#776ab0"/>
<circle cx="1183.9" cy="771.1" r="3" fill="#63439d"/>
<circle cx="1292.1" cy="677.2" r="3.5" fill="#6c56a6"/>
<circle cx="1340.4" cy="726.8" r="11" fill="#7b74b5"/>
<circle cx="1205.6" cy="744" r="4.2" fill="#6950a2"/>
<circle cx="1348.7" cy="633" r="5.5" fill="#6e58a7"/>
<circle cx="1163.6" cy="907.6" r="9.4" fill="#7668af"/>
<circle cx="1315.1" cy="642.9" r="3.6" fill="#664aa0"/>
<circle cx="1519.1" cy="483.2" r="3.6" fill="#7669af"/>
<circle cx="1512.4" cy="524.2" r="7.4" fill="#7b73b5"/>
<circle cx="1182.6" cy="785.1" r="4.3" fill="#684da1"/>
<circle cx="1322.5" cy="710.6" r="7.2" fill="#7669b0"/>
<circle cx="1422.6" cy="542.3" r="4.5" fill="#8b87bf"/>
<circle cx="1208.5" cy="782.2" r="3.6" fill="#684da1"/>
<circle cx="1326.7" cy="673.1" r="4.2" fill="#6b52a4"/>
<circle cx="1455.7" cy="603.3" r="13.6" fill="#7567af"/>
<circle cx="1152.6" cy="803.5" r="3.7" fill="#64469e"/>
<circle cx="1369.4" cy="597.6" r="2.3" fill="#8b87bf"/>
<circle cx="1211.2" cy="710.4" r="3.7" fill="#8b87bf"/>
<circle cx="1280.1" cy="689.5" r="2.6" fill="#705da9"/>
<circle cx="1272" cy="689.6" r="3.3" fill="#6e59a7"/>
<circle cx="1545.1" cy="465.3" r="5.1" fill="#705eaa"/>
<circle cx="1156.8" cy="825.6" r="5.8" fill="#64459d"/>
<circle cx="1311.4" cy="663.1" r="3.3" fill="#6a51a3"/>
<circle cx="1222.2" cy="799" r="5.7" fill="#7c75b6"/>
<circle cx="1505.3" cy="510.4" r="3.7" fill="#7364ad"/>
<circle cx="1336.4" cy="696.6" r="6.9" fill="#7362ac"/>
<circle cx="1497.5" cy="519.7" r="4.8" fill="#705da9"/>
<circle cx="1276.4" cy="671.9" r="3.7" fill="#766ab0"/>
<circle cx="1352.2" cy="639.3" r="4.4" fill="#6b54a5"/>
<circle cx="1405.7" cy="567.5" r="4.2" fill="#6c55a5"/>
<circle cx="1271.8" cy="759.8" r="6.9" fill="#796eb2"/>
<circle cx="1247.5" cy="669.7" r="4" fill="#8b87bf"/>
<circle cx="1220.5" cy="720.1" r="2.5" fill="#7567ae"/>
<circle cx="1195.8" cy="779.5" r="5.1" fill="#603e9a"/>
<circle cx="1193.9" cy="796.9" r="6.1" fill="#61409b"/>
<circle cx="1315.5" cy="708.5" r="4.9" fill="#776ab0"/>
<circle cx="1328.1" cy="735.8" r="10.1" fill="#776bb1"/>
<circle cx="1171.2" cy="747" r="3.6" fill="#7363ac"/>
<circle cx="1174.3" cy="785.9" r="3.6" fill="#6d57a6"/>
<circle cx="1222.9" cy="788.8" r="4.5" fill="#7567af"/>
<circle cx="1203.3" cy="751" r="4.1" fill="#63449d"/>
<circle cx="1208.3" cy="828.4" r="5.2" fill="#796fb3"/>
<circle cx="1327.4" cy="634.6" r="3.7" fill="#7c74b5"/>
<circle cx="1521.2" cy="503.7" r="4.1" fill="#705da9"/>
<circle cx="1376.5" cy="661.4" r="7.8" fill="#7567ae"/>
<circle cx="1327.2" cy="705.2" r="6.6" fill="#796fb2"/>
<circle cx="1271.6" cy="769" r="7.2" fill="#776cb1"/>
<circle cx="1462.3" cy="544.9" r="4.7" fill="#7160ab"/>
<circle cx="1350.7" cy="656.8" r="4.4" fill="#6b54a4"/>
<circle cx="1159.1" cy="901.7" r="8.5" fill="#786db2"/>
<circle cx="1369" cy="642.3" r="5.3" fill="#694ea2"/>
<circle cx="1256.8" cy="757.5" r="4.6" fill="#796fb3"/>
<circle cx="1246.8" cy="761.4" r="4.8" fill="#65489f"/>
<circle cx="1474.5" cy="561.7" r="7.3" fill="#7566ae"/>
<circle cx="1505.8" cy="523.7" r="5.6" fill="#776cb1"/>
<circle cx="1259.7" cy="756.1" r="5.6" fill="#7b72b4"/>
<circle cx="1303.4" cy="659.8" r="3.1" fill="#7c74b5"/>
<circle cx="1152" cy="844.2" r="4.1" fill="#786db2"/>
<circle cx="1235.8" cy="704.5" r="3.9" fill="#766ab0"/>
<circle cx="1256.2" cy="788.9" r="7.1" fill="#776ab0"/>
<circle cx="1147.6" cy="857.2" r="4.8" fill="#786db1"/>
<circle cx="1387.1" cy="618.1" r="5.3" fill="#7567af"/>
<circle cx="1489.4" cy="518.6" r="3.8" fill="#796fb3"/>
<circle cx="1298.7" cy="641.6" r="3.3" fill="#8b87bf"/>
<circle cx="1178.8" cy="822.9" r="4" fill="#786eb2"/>
<circle cx="1218.5" cy="722.6" r="2.5" fill="#6e58a7"/>
<circle cx="1269.1" cy="773.2" r="6.3" fill="#786eb2"/>
<circle cx="1174.4" cy="797.3" r="5.9" fill="#61409b"/>
<circle cx="1357.8" cy="604.4" r="2.6" fill="#817ebb"/>
<circle cx="1462.1" cy="556.4" r="4.8" fill="#66499f"/>
<circle cx="1328.7" cy="720.6" r="6.9" fill="#766ab0"/>
<circle cx="1267.3" cy="793.1" r="8.1" fill="#7668af"/>
<circle cx="1207" cy="812.6" r="5.6" fill="#766ab0"/>
<circle cx="1233.3" cy="737.2" r="4.3" fill="#694ea2"/>
<circle cx="1552.9" cy="456.5" r="3.3" fill="#7363ac"/>
<circle cx="1271.4" cy="765.1" r="5.8" fill="#776cb1"/>
<circle cx="1161.6" cy="786.3" r="4.5" fill="#6c54a5"/>
<circle cx="1419.1" cy="608.3" r="5.9" fill="#7669b0"/>
<circle cx="1375.4" cy="635.7" r="5.9" fill="#6f5ba8"/>
<circle cx="1151.8" cy="743.3" r="3.2" fill="#766ab0"/>
<circle cx="1368" cy="632.2" r="4.4" fill="#6b53a4"/>
<circle cx="1212.8" cy="788.2" r="6.2" fill="#664aa0"/>
<circle cx="1151.9" cy="889.5" r="5.5" fill="#796fb3"/>
<circle cx="1393.8" cy="568" r="4" fill="#8b87bf"/>
<circle cx="1146" cy="899.9" r="5.3" fill="#786eb2"/>
<circle cx="1241.9" cy="775.3" r="6" fill="#766ab0"/>
<circle cx="1183.7" cy="741.4" r="3.8" fill="#664aa0"/>
<circle cx="1419.1" cy="619.6" r="7.7" fill="#7669b0"/>
<circle cx="1194.3" cy="805.3" r="5.4" fill="#6a51a3"/>
<circle cx="1198" cy="844.3" r="7.8" fill="#7568af"/>
<circle cx="1182" cy="815.4" r="4.7" fill="#694fa2"/>
<circle cx="1249.7" cy="694.9" r="2.6" fill="#7363ac"/>
<circle cx="1171.7" cy="875.3" r="7.9" fill="#7465ad"/>
<circle cx="1349.2" cy="616.4" r="3.9" fill="#7362ac"/>
<circle cx="1389.1" cy="597" r="4" fill="#705eaa"/>
<circle cx="1350.6" cy="626.3" r="5.3" fill="#65489f"/>
<circle cx="1189.1" cy="865.4" r="7.6" fill="#776bb1"/>
<circle cx="1229.3" cy="759.9" r="4.7" fill="#6d57a6"/>
<circle cx="1250.6" cy="703.7" r="4" fill="#705eaa"/>
<circle cx="1201.4" cy="743.9" r="2.6" fill="#7466ae"/>
<circle cx="1165.6" cy="849.5" r="5.1" fill="#786eb2"/>
<circle cx="1265.6" cy="784.8" r="7.9" fill="#786eb2"/>
<circle cx="1154.4" cy="892.7" r="5" fill="#7363ad"/>
<circle cx="1457.3" cy="591.9" r="9.1" fill="#776cb1"/>
<circle cx="1322.6" cy="675.3" r="4.1" fill="#62429c"/>
<circle cx="1161.8" cy="898.2" r="9.6" fill="#796eb2"/>
<circle cx="1275.3" cy="759.5" r="7.4" fill="#7a70b3"/>
<circle cx="1241" cy="787.9" r="6.3" fill="#786db2"/>
<circle cx="1332.8" cy="672.1" r="4" fill="#694ea2"/>
<circle cx="1168.2" cy="825.2" r="5.1" fill="#694ea2"/>
<circle cx="1397.6" cy="567" r="3.8" fill="#7c74b5"/>
<circle cx="1422.9" cy="568.7" r="3.6" fill="#63449d"/>
<circle cx="1203.5" cy="867.3" r="6.3" fill="#66499f"/>
<circle cx="1229.6" cy="677.2" r="2.2" fill="#8b87bf"/>
<circle cx="1215.4" cy="780.4" r="3.9" fill="#674ca1"/>
<circle cx="1182.2" cy="740.2" r="3.7" fill="#766ab0"/>
<circle cx="1216.6" cy="820.2" r="6.2" fill="#776cb1"/>
<circle cx="1381.2" cy="585.5" r="3" fill="#817ebb"/>
<circle cx="1232.9" cy="723.4" r="3.9" fill="#6e5aa7"/>
<circle cx="1217.8" cy="771.9" r="5.9" fill="#684da1"/>
<circle cx="1534.4" cy="504.1" r="5.7" fill="#65479e"/>
<circle cx="1152.7" cy="749" r="3.1" fill="#817ebb"/>
<circle cx="1356.6" cy="699.4" r="11.5" fill="#7668af"/>
<circle cx="1280.6" cy="675.6" r="3.5" fill="#664aa0"/>
<circle cx="1186.9" cy="738.9" r="2.7" fill="#664aa0"/>
<circle cx="1196.2" cy="751.6" r="3.5" fill="#65489f"/>
<circle cx="1436.2" cy="565.9" r="5.3" fill="#705ca9"/>
<circle cx="1193.5" cy="847.2" r="5.5" fill="#766ab0"/>
<circle cx="1184" cy="870.5" r="8.1" fill="#776ab0"/>
<circle cx="1402.8" cy="656.4" r="11.1" fill="#7568af"/>
<circle cx="1250.4" cy="771.5" r="5.3" fill="#796eb2"/>
<circle cx="1409.1" cy="542.5" r="3.9" fill="#817ebb"/>
<circle cx="1178.1" cy="888.2" r="7.5" fill="#776bb1"/>
<circle cx="1225.4" cy="711" r="2.6" fill="#664aa0"/>
<circle cx="1150.5" cy="881.8" r="6.7" fill="#7568af"/>
<circle cx="1197.4" cy="813.5" r="5" fill="#7b73b5"/>
<circle cx="1158.6" cy="748.2" r="3.9" fill="#664aa0"/>
<circle cx="1356.7" cy="690.3" r="7" fill="#7a71b4"/>
<circle cx="1258.5" cy="813.5" r="9.4" fill="#766ab0"/>
<circle cx="1201.7" cy="732.7" r="2.7" fill="#817ebb"/>
<circle cx="1225.6" cy="828.9" r="7.4" fill="#7b74b5"/>
<circle cx="1273.7" cy="773.1" r="7.5" fill="#786db2"/>
<circle cx="1387.6" cy="612" r="5.3" fill="#705ca9"/>
<circle cx="1241.2" cy="814.7" r="10.6" fill="#796fb3"/>
<circle cx="1381.7" cy="684.4" r="8.5" fill="#7669b0"/>
<circle cx="1171.8" cy="802.1" r="3.9" fill="#674aa0"/>
<circle cx="1439.5" cy="541.6" r="2.7" fill="#715eaa"/>
<circle cx="1494.6" cy="524.1" r="5.1" fill="#65479e"/>
<circle cx="1246.2" cy="712" r="3.6" fill="#705ca9"/>
<circle cx="1193.6" cy="762.5" r="4.7" fill="#694fa2"/>
<circle cx="1255.1" cy="681" r="2.6" fill="#6e58a7"/>
<circle cx="1231.7" cy="747.4" r="4.6" fill="#64459e"/>
<circle cx="1294.4" cy="730.4" r="4.7" fill="#786db1"/>
<circle cx="1282.1" cy="751.3" r="5.7" fill="#7a70b3"/>
<circle cx="1502.8" cy="547.2" r="9.3" fill="#7c75b6"/>
<circle cx="1152.3" cy="774.6" r="2.6" fill="#7a70b3"/>
<circle cx="1210" cy="723.5" r="3.5" fill="#6e58a7"/>
<circle cx="1147.5" cy="864.3" r="4.5" fill="#7a71b4"/>
<circle cx="1383.2" cy="646.9" r="8.2" fill="#786cb1"/>
<circle cx="1223.5" cy="730.7" r="3.5" fill="#766ab0"/>
<circle cx="1210.6" cy="759.9" r="5.4" fill="#5f3c99"/>
<circle cx="1320.8" cy="628" r="2.7" fill="#664aa0"/>
<circle cx="1352.1" cy="643.4" r="5.4" fill="#684da1"/>
<circle cx="1377.1" cy="594.1" r="4.1" fill="#694fa2"/>
<circle cx="1555.3" cy="476.6" r="5.8" fill="#7261ab"/>
<circle cx="1177.1" cy="797.4" r="4" fill="#65479e"/>
<circle cx="1424.3" cy="587.8" r="4.7" fill="#7262ac"/>
<circle cx="1165.5" cy="751.7" r="2.9" fill="#766ab0"/>
<circle cx="1275.1" cy="744.1" r="5.2" fill="#776bb1"/>
<circle cx="1500.5" cy="519.5" r="4.8" fill="#7567af"/>
<circle cx="1273.6" cy="681.1" r="2.4" fill="#7363ac"/>
<circle cx="1400.4" cy="611.2" r="4.9" fill="#64459d"/>
<circle cx="1199.8" cy="735.4" r="4" fill="#603f9a"/>
<circle cx="1524.5" cy="526.3" r="10.2" fill="#776cb1"/>
<circle cx="1230.1" cy="702.3" r="3.6" fill="#664aa0"/>
<circle cx="1385.8" cy="652.8" r="8.9" fill="#7b73b5"/>
<circle cx="1512.3" cy="524.3" r="7.5" fill="#796eb2"/>
<circle cx="1194.6" cy="807.8" r="4.4" fill="#7970b3"/>
<circle cx="1252.3" cy="749.5" r="5.9" fill="#6c55a5"/>
<circle cx="1460.7" cy="538.3" r="3.5" fill="#6f5aa8"/>
<circle cx="1183.4" cy="862.4" r="8.8" fill="#7567af"/>
<circle cx="1206.7" cy="789.9" r="4.7" fill="#62429c"/>
<circle cx="1499" cy="504.2" r="4.3" fill="#715eaa"/>
<circle cx="1441.4" cy="555.2" r="3.2" fill="#6b53a4"/>
<circle cx="1154.2" cy="904.4" r="5.3" fill="#66499f"/>
<circle cx="1205.7" cy="818.4" r="5.9" fill="#7567ae"/>
<circle cx="1494.2" cy="554.5" r="7.2" fill="#7a71b4"/>
<circle cx="1268.4" cy="776.8" r="9.7" fill="#7a70b3"/>
<circle cx="1277.1" cy="681.1" r="2.1" fill="#766ab0"/>
<circle cx="1426.4" cy="557.3" r="2.2" fill="#6f5ba8"/>
<circle cx="1315.4" cy="635.7" r="2.7" fill="#6e58a7"/>
<circle cx="1153" cy="756.4" r="2.1" fill="#766ab0"/>
<circle cx="1284.1" cy="747" r="6.8" fill="#7669b0"/>
<circle cx="1548" cy="479.5" r="3.6" fill="#786db2"/>
<circle cx="1258.4" cy="795.6" r="9.9" fill="#7b72b4"/>
<circle cx="1173.1" cy="741.2" r="3.4" fill="#7c74b5"/>
<circle cx="1416" cy="587.6" r="3.4" fill="#705ca9"/>
<circle cx="1407.3" cy="650.4" r="8.5" fill="#7b73b5"/>
<circle cx="1343" cy="628.6" r="2.9" fill="#6e59a7"/>
<circle cx="1268.5" cy="685.2" r="2.4" fill="#6e58a7"/>
<circle cx="1184.1" cy="738.9" r="2.5" fill="#8b87bf"/>
<circle cx="1257.2" cy="720.1" r="3.4" fill="#684da1"/>
<circle cx="1223.1" cy="745.2" r="4.3" fill="#6a51a3"/>
<circle cx="1553.1" cy="463.9" r="4.7" fill="#7466ae"/>
<circle cx="1381" cy="656.5" r="8.4" fill="#7363ad"/>
<circle cx="1198.1" cy="773.9" r="3.5" fill="#6b54a4"/>
<circle cx="1197.9" cy="807.8" r="3.9" fill="#7a71b4"/>
<circle cx="1177" cy="746.5" r="3.1" fill="#8b87bf"/>
<circle cx="1217.2" cy="735.2" r="2.1" fill="#6b53a4"/>
<circle cx="1288.1" cy="734" r="5.5" fill="#7260ab"/>
<circle cx="1252.9" cy="697.9" r="2.3" fill="#6e58a7"/>
<circle cx="1158.8" cy="762.7" r="3" fill="#674ba0"/>
<circle cx="1159.9" cy="881.8" r="6.7" fill="#786db2"/>
<circle cx="1206.8" cy="862.6" r="10.4" fill="#7a71b4"/>
<circle cx="1413.3" cy="601" r="4.6" fill="#694fa2"/>
<circle cx="1229.6" cy="824.3" r="8.5" fill="#7970b3"/>
<circle cx="1309.3" cy="623.1" r="2.7" fill="#664aa0"/>
<circle cx="1204.4" cy="818.8" r="5.8" fill="#7568af"/>
<circle cx="1171.1" cy="775.7" r="4.7" fill="#603e9a"/>
<circle cx="1192.4" cy="845.3" r="8.6" fill="#786eb2"/>
<circle cx="1244.2" cy="686.7" r="2.5" fill="#7363ac"/>
<circle cx="1452.5" cy="545.5" r="3.9" fill="#62439c"/>
<circle cx="1451.3" cy="594.2" r="9.2" fill="#7c75b6"/>
<circle cx="1357.2" cy="617.3" r="2.2" fill="#6e58a7"/>
<circle cx="1258.5" cy="743.4" r="5.4" fill="#66499f"/>
<circle cx="1298.1" cy="718.5" r="4.7" fill="#786cb1"/>
<circle cx="1252.9" cy="717.9" r="3.3" fill="#684ea1"/>
<circle cx="1424.2" cy="593.5" r="5.8" fill="#705eaa"/>
<circle cx="1434.3" cy="585.9" r="4.3" fill="#7160ab"/>
<circle cx="1241.9" cy="720.8" r="4.8" fill="#613f9a"/>
<circle cx="1154.5" cy="753.6" r="2.2" fill="#8b87bf"/>
<circle cx="1301.6" cy="670.1" r="3.9" fill="#6f5ba8"/>
<circle cx="1240.3" cy="770.2" r="5.5" fill="#786eb2"/>
<circle cx="1284.4" cy="669.1" r="2.7" fill="#766ab0"/>
<circle cx="1181.6" cy="820.5" r="4.5" fill="#7668af"/>
<circle cx="1301.3" cy="676.4" r="5.1" fill="#6a51a3"/>
<circle cx="1244.7" cy="687" r="3.5" fill="#664aa0"/>
<circle cx="1204.2" cy="839.3" r="5.5" fill="#776bb1"/>
<circle cx="1308.5" cy="712.1" r="6.2" fill="#674ba0"/>
<circle cx="1159.4" cy="863.5" r="6.3" fill="#786cb1"/>
<circle cx="1273.8" cy="666.9" r="3.1" fill="#8b87bf"/>
<circle cx="1377.4" cy="573.2" r="4.2" fill="#664aa0"/>
<circle cx="1394.8" cy="577.2" r="3.4" fill="#776cb1"/>
<circle cx="1311.1" cy="697.4" r="3.6" fill="#64459d"/>
<circle cx="1180.1" cy="847.1" r="4.8" fill="#7669b0"/>
<circle cx="1242.2" cy="705.7" r="2.7" fill="#776bb1"/>
<circle cx="1311" cy="658.1" r="2.1" fill="#705da9"/>
<circle cx="1158.5" cy="875.8" r="7.4" fill="#786cb1"/>
<circle cx="1147.4" cy="798.7" r="5.1" fill="#65489f"/>
<circle cx="1209.5" cy="829.9" r="6.4" fill="#776ab0"/>
<circle cx="1157.9" cy="762.9" r="3.7" fill="#715eaa"/>
<circle cx="1233.4" cy="712.8" r="3" fill="#6d56a6"/>
<circle cx="1311.9" cy="710" r="5.4" fill="#7a72b4"/>
<circle cx="1309.6" cy="676.9" r="5.1" fill="#6e5aa8"/>
<circle cx="1173.7" cy="817.6" r="5.3" fill="#684ea1"/>
<circle cx="1390" cy="568.9" r="3.2" fill="#766ab0"/>
<circle cx="1301.2" cy="737.6" r="8.6" fill="#7b73b5"/>
<circle cx="1548.5" cy="504.1" r="13.1" fill="#7567af"/>
<circle cx="1306.7" cy="668.8" r="2.3" fill="#705ca9"/>
<circle cx="1418.1" cy="596" r="3.6" fill="#63449d"/>
<circle cx="1279.3" cy="766.6" r="6" fill="#7a70b3"/>
<circle cx="1363.5" cy="611.2" r="2.1" fill="#776bb1"/>
<circle cx="1187.9" cy="803" r="4.9" fill="#684da1"/>
<circle cx="1278.3" cy="667.9" r="4" fill="#766ab0"/>
<circle cx="1219" cy="775.9" r="5.2" fill="#66499f"/>
<circle cx="1179.4" cy="852" r="5.4" fill="#7669af"/>
<circle cx="1477.6" cy="516.6" r="3.5" fill="#6d56a6"/>
<circle cx="1210.4" cy="834.5" r="7" fill="#7668af"/>
<circle cx="1249.6" cy="700.4" r="2.7" fill="#6e58a7"/>
<circle cx="1162.1" cy="781.7" r="4.4" fill="#674ba0"/>
<circle cx="1198.9" cy="767.5" r="5.1" fill="#63439c"/>
<circle cx="1174.9" cy="762.7" r="2.1" fill="#705eaa"/>
<circle cx="1299.7" cy="661.2" r="2.1" fill="#8b87bf"/>
<circle cx="1174.2" cy="851.9" r="4.8" fill="#66499f"/>
<circle cx="1212.9" cy="733.6" r="2.3" fill="#6f5ba8"/>
<circle cx="1317.8" cy="687.3" r="5.8" fill="#6f5ba8"/>
<circle cx="1252.4" cy="766.4" r="5.2" fill="#796fb2"/>
<circle cx="1145" cy="774.4" r="3.5" fill="#6f5aa8"/>
<circle cx="1258.5" cy="701.8" r="3.7" fill="#684ea1"/>
<circle cx="1209.4" cy="745.4" r="2.9" fill="#6d56a6"/>
<circle cx="1442.2" cy="574.8" r="5.3" fill="#7364ad"/>
<circle cx="1366.8" cy="638.5" r="5.8" fill="#694fa2"/>
<circle cx="1269.5" cy="724.9" r="4.8" fill="#64459d"/>
<circle cx="1329.3" cy="682.9" r="4.1" fill="#715fab"/>
<circle cx="1176.4" cy="790.3" r="4.1" fill="#684da1"/>
<circle cx="1195.6" cy="781.9" r="4.2" fill="#684ea1"/>
<circle cx="1302.8" cy="703.6" r="5.8" fill="#65489f"/>
<circle cx="1287.4" cy="756.7" r="8.2" fill="#7362ac"/>
<circle cx="1244.7" cy="730.4" r="4.7" fill="#6a50a3"/>
<circle cx="1163.4" cy="784.9" r="5.6" fill="#6c54a5"/>
<circle cx="1196.9" cy="767.9" r="5.6" fill="#694fa2"/>
<circle cx="1188.3" cy="878.1" r="9.3" fill="#7b72b4"/>
<circle cx="1150.1" cy="860.1" r="4.8" fill="#7a71b4"/>
<circle cx="1365.5" cy="665.6" r="6.8" fill="#7b73b5"/>
<circle cx="1303.3" cy="657.9" r="2.7" fill="#817ebb"/>
<circle cx="1455.8" cy="557.5" r="4.2" fill="#6d56a6"/>
<circle cx="1175.9" cy="891.4" r="7.7" fill="#7a71b4"/>
<circle cx="1370.7" cy="624" r="3.9" fill="#705ca9"/>
<circle cx="1148.6" cy="789.8" r="3.6" fill="#6a50a3"/>
<circle cx="1144.9" cy="829" r="4.5" fill="#613f9b"/>
<circle cx="1225" cy="803.3" r="5.9" fill="#7669b0"/>
<circle cx="1300" cy="704.5" r="5.2" fill="#613f9b"/>
<circle cx="1343.2" cy="628" r="3.7" fill="#7568af"/>
<circle cx="1216.6" cy="808.7" r="5.1" fill="#7970b3"/>
<circle cx="1200.2" cy="842.3" r="6.2" fill="#7466ae"/>
<circle cx="1251.7" cy="760.8" r="4.7" fill="#786cb1"/>
<circle cx="1295.2" cy="700.3" r="3.8" fill="#66499f"/>
<circle cx="1160.1" cy="828.5" r="4.8" fill="#66499f"/>
<circle cx="1424.1" cy="609.9" r="6.9" fill="#776bb1"/>
<circle cx="1270.9" cy="672" r="2.6" fill="#817ebb"/>
<circle cx="1462.7" cy="561.6" r="6.2" fill="#6e5aa8"/>
<circle cx="1171.1" cy="818.9" r="4.3" fill="#694fa2"/>
<circle cx="1240" cy="788.9" r="7.3" fill="#7a70b3"/>
<circle cx="1388.7" cy="635.5" r="5.6" fill="#64459d"/>
<circle cx="1294.4" cy="739.3" r="6" fill="#7a70b3"/>
<circle cx="1243.7" cy="786.4" r="5.2" fill="#7568af"/>
<circle cx="1318.7" cy="721.9" r="9" fill="#7466ae"/>
<circle cx="1203.5" cy="784.2" r="4.2" fill="#674ba0"/>
<circle cx="1382.9" cy="629.7" r="4.3" fill="#6c55a5"/>
<circle cx="1171.8" cy="822.9" r="5.4" fill="#66499f"/>
<circle cx="1300.8" cy="745.4" r="6.5" fill="#7b73b5"/>
<circle cx="1174.7" cy="748.3" r="2.5" fill="#766ab0"/>
<circle cx="1190.5" cy="772.5" r="3.6" fill="#603e9a"/>
<circle cx="1217.1" cy="724.4" r="3.5" fill="#6f5ba8"/>
<circle cx="1418" cy="574.3" r="5.1" fill="#62429c"/>
<circle cx="1184" cy="835.8" r="5.3" fill="#7a70b3"/>
<circle cx="1382.8" cy="669.4" r="8.7" fill="#776cb1"/>
<circle cx="1200.9" cy="787.7" r="5.7" fill="#65479e"/>
<circle cx="1227.2" cy="749.2" r="5.6" fill="#65479e"/>
<circle cx="1219.2" cy="717.8" r="2.1" fill="#6e58a7"/>
<circle cx="1161.4" cy="766.7" r="3.4" fill="#6c56a6"/>
<circle cx="1150.2" cy="878" r="5.4" fill="#776ab0"/>
<circle cx="1217.9" cy="830.6" r="7.9" fill="#7669b0"/>
<circle cx="1240.5" cy="731.5" r="4.9" fill="#684ca1"/>
<circle cx="1228.3" cy="773.8" r="4.9" fill="#63459d"/>
<circle cx="1251.7" cy="733.2" r="3.6" fill="#613f9b"/>
<circle cx="1197.1" cy="792.9" r="5.7" fill="#6a51a3"/>
<circle cx="1389.6" cy="601.5" r="3.2" fill="#684ea1"/>
<circle cx="1391.3" cy="577.5" r="3.8" fill="#6e58a7"/>
<circle cx="1198.5" cy="738.3" r="3.2" fill="#674ca0"/>
<circle cx="1216.6" cy="741.1" r="3.9" fill="#65479e"/>
<circle cx="1320.4" cy="737" r="9.5" fill="#7669b0"/>
<circle cx="1168.8" cy="746.6" r="2.9" fill="#766ab0"/>
<circle cx="1167.6" cy="892.6" r="5.6" fill="#66499f"/>
<circle cx="1180.7" cy="726.8" r="3.8" fill="#8b87bf"/>
<circle cx="1188.2" cy="740.7" r="2.3" fill="#817ebb"/>
<circle cx="1176.3" cy="891.7" r="7.6" fill="#786eb2"/>
<circle cx="1168.8" cy="816.1" r="5.8" fill="#674ca0"/>
<circle cx="1353" cy="647.6" r="4.5" fill="#6e58a7"/>
<circle cx="1148.3" cy="843.6" r="4.9" fill="#613f9a"/>
<circle cx="1263.5" cy="749.8" r="5.7" fill="#674aa0"/>
<circle cx="1394.7" cy="649.1" r="9" fill="#7669af"/>
<circle cx="1392.2" cy="626.3" r="3.7" fill="#66499f"/>
<circle cx="1200.3" cy="767.1" r="4.4" fill="#6b52a4"/>
<circle cx="1164.1" cy="821.9" r="5" fill="#63439c"/>
<circle cx="1173.3" cy="744.5" r="3.8" fill="#817ebb"/>
<circle cx="1180.7" cy="743.3" r="3.1" fill="#817ebb"/>
<circle cx="1354.5" cy="661.2" r="5.8" fill="#65489f"/>
<circle cx="1153.2" cy="778.4" r="4.4" fill="#6a51a3"/>
<circle cx="1543.9" cy="513.6" r="12.7" fill="#7363ad"/>
<circle cx="1162.5" cy="814.4" r="5.7" fill="#64459d"/>
<circle cx="1207.6" cy="744.6" r="2.9" fill="#65489e"/>
<circle cx="1396.6" cy="578.7" r="3.2" fill="#6f5ba8"/>
<circle cx="1213.8" cy="738.2" r="2.8" fill="#6e59a7"/>
<circle cx="1223.8" cy="817.6" r="7.5" fill="#796eb2"/>
<circle cx="1194.3" cy="878.6" r="8.7" fill="#7a70b3"/>
<circle cx="1253.8" cy="757.6" r="3.8" fill="#684da1"/>
<circle cx="1176.6" cy="768.8" r="3.6" fill="#65489f"/>
<circle cx="1147" cy="897.4" r="5.6" fill="#776ab0"/>
<circle cx="1281.9" cy="704" r="5.5" fill="#684da1"/>
<circle cx="1237.4" cy="831.2" r="8.5" fill="#776cb1"/>
<circle cx="1222.8" cy="701.7" r="3.9" fill="#6e58a7"/>
<circle cx="1165.2" cy="776.3" r="3.4" fill="#674ca1"/>
<circle cx="1225" cy="797.1" r="4.4" fill="#66499f"/>
<circle cx="1431.1" cy="559.9" r="3.1" fill="#6e59a7"/>
<circle cx="1227.6" cy="760.2" r="3.6" fill="#5e3a98"/>
<circle cx="1202.8" cy="751.7" r="3.7" fill="#64469e"/>
<circle cx="1275.3" cy="672.7" r="3.2" fill="#6e58a7"/>
<circle cx="1282" cy="670.3" r="2.2" fill="#664aa0"/>
<circle cx="1234.9" cy="704.7" r="2" fill="#6e58a7"/>
<circle cx="1154.9" cy="776" r="3.5" fill="#6e59a7"/>
<circle cx="1174.3" cy="847.4" r="6.1" fill="#776bb1"/>
<circle cx="1401" cy="580.3" r="2.2" fill="#6b53a4"/>
<circle cx="1212.1" cy="802.9" r="5.8" fill="#7668af"/>
<circle cx="1147" cy="767.4" r="4" fill="#7465ad"/>
<circle cx="1287.7" cy="663.5" r="2.3" fill="#664aa0"/>
<circle cx="1205.1" cy="816.1" r="6.3" fill="#796fb3"/>
<circle cx="1371.9" cy="674.9" r="8.4" fill="#776ab0"/>
<circle cx="1253.2" cy="777.5" r="5" fill="#7a70b3"/>
<circle cx="1210.8" cy="727.7" r="2.7" fill="#817ebb"/>
<circle cx="1170.7" cy="746.6" r="3.5" fill="#817ebb"/>
<circle cx="1167.4" cy="852.6" r="6.5" fill="#66499f"/>
<circle cx="1303.8" cy="739.8" r="8.3" fill="#786db2"/>
<circle cx="1220.8" cy="726" r="3.1" fill="#705da9"/>
<circle cx="1416.8" cy="608.2" r="4.3" fill="#613f9a"/>
<circle cx="1184.6" cy="739.7" r="2.6" fill="#6e58a7"/>
<circle cx="1492.3" cy="551" r="6.7" fill="#7566ae"/>
<circle cx="1188.7" cy="826.2" r="4.9" fill="#7c75b6"/>
<circle cx="1182.9" cy="886.1" r="5.8" fill="#776ab0"/>
<circle cx="1159" cy="769.9" r="3.9" fill="#66499f"/>
<circle cx="1291.8" cy="697.4" r="3.5" fill="#63439c"/>
<circle cx="1231.4" cy="749.1" r="3.3" fill="#64459d"/>
<circle cx="1362.1" cy="624" r="5.2" fill="#6e59a7"/>
<circle cx="1395.4" cy="627.5" r="5.2" fill="#6f5ba8"/>
<circle cx="1266.4" cy="772.9" r="5.8" fill="#7a71b4"/>
<circle cx="1258.9" cy="692.9" r="3.7" fill="#6e58a7"/>
<circle cx="1222.4" cy="719.1" r="2" fill="#8b87bf"/>
<circle cx="1526.9" cy="479.9" r="3.4" fill="#705ca9"/>
<circle cx="1171.2" cy="755.9" r="2.2" fill="#715faa"/>
<circle cx="1300.5" cy="750.7" r="9.4" fill="#7466ae"/>
<circle cx="1396.1" cy="667.4" r="10.6" fill="#776ab0"/>
<circle cx="1189.6" cy="850.6" r="5.7" fill="#786cb1"/>
<circle cx="1339" cy="613.3" r="3.4" fill="#664aa0"/>
<circle cx="1194" cy="796.4" r="4.9" fill="#64469e"/>
<circle cx="1179.6" cy="841.1" r="6" fill="#786db1"/>
<circle cx="1385.4" cy="641.4" r="6.7" fill="#7970b3"/>
<circle cx="1460.5" cy="573.3" r="6.3" fill="#776ab0"/>
<circle cx="1220" cy="697.4" r="3.1" fill="#6e58a7"/>
<circle cx="1179.9" cy="718" r="2" fill="#766ab0"/>
<circle cx="1358.5" cy="593.2" r="3.4" fill="#766ab0"/>
<circle cx="1341.4" cy="701.6" r="6.2" fill="#7669b0"/>
<circle cx="1219.5" cy="846.1" r="7.8" fill="#7567af"/>
<circle cx="1220.3" cy="715.2" r="3" fill="#8b87bf"/>
<circle cx="1155.1" cy="806.4" r="3.9" fill="#65489f"/>
<circle cx="1234.7" cy="760.9" r="5.5" fill="#6a52a3"/>
<circle cx="1383.1" cy="632.5" r="5.6" fill="#6a52a4"/>
<circle cx="1177" cy="760.5" r="2" fill="#6c55a5"/>
<circle cx="1253.1" cy="778.7" r="6.2" fill="#776cb1"/>
<circle cx="1149.5" cy="776.2" r="4.2" fill="#6d58a6"/>
<circle cx="1322.1" cy="688.1" r="4.4" fill="#66489f"/>
<circle cx="1161.1" cy="828.8" r="5.4" fill="#674ba0"/>
<circle cx="1157.1" cy="802.5" r="4.3" fill="#63439d"/>
<circle cx="1185.8" cy="845.5" r="5.9" fill="#766ab0"/>
<circle cx="1245.6" cy="785.9" r="7" fill="#786db2"/>
<circle cx="1184.4" cy="763.5" r="4.5" fill="#6d58a6"/>
<circle cx="1217" cy="783.3" r="4.6" fill="#6c55a5"/>
<circle cx="1164.5" cy="769.4" r="2.4" fill="#694fa2"/>
<circle cx="1161.3" cy="774.3" r="3.7" fill="#6c55a5"/>
<circle cx="1335.3" cy="704.8" r="6.8" fill="#796fb3"/>
<circle cx="1351.9" cy="603.3" r="3.4" fill="#817ebb"/>
<circle cx="1162.8" cy="820.3" r="5.5" fill="#6a50a3"/>
<circle cx="1171.7" cy="806.6" r="4.3" fill="#603d99"/>
<circle cx="1191.2" cy="753.2" r="4.1" fill="#7568af"/>
<circle cx="1152.3" cy="825.8" r="5.5" fill="#6c55a5"/>
<circle cx="1268.2" cy="703.9" r="4.6" fill="#64469e"/>
<circle cx="1178" cy="843.5" r="5.4" fill="#7c74b5"/>
<circle cx="1288.6" cy="746" r="6.6" fill="#7970b3"/>
<circle cx="1299" cy="744" r="7.7" fill="#776bb1"/>
<circle cx="1204.3" cy="824.9" r="5.5" fill="#7668af"/>
<circle cx="1196.8" cy="750.9" r="4.4" fill="#674ba0"/>
<circle cx="1201.6" cy="795" r="6.3" fill="#65479e"/>
<circle cx="1152.7" cy="809.4" r="4.4" fill="#5e3998"/>
<circle cx="1144.9" cy="883.6" r="5.6" fill="#7669b0"/>
<circle cx="1556.2" cy="492.1" r="12" fill="#7b73b5"/>
<circle cx="1198.4" cy="777" r="4.7" fill="#64459d"/>
<circle cx="1309.9" cy="652.6" r="4.1" fill="#7364ad"/>
<circle cx="1264.5" cy="703.3" r="2.5" fill="#705da9"/>
<circle cx="1226.9" cy="714.4" r="3.5" fill="#8b87bf"/>
<circle cx="1255.8" cy="691.5" r="2.8" fill="#7c74b5"/>
<circle cx="1237.4" cy="774.4" r="4.5" fill="#776cb1"/>
<circle cx="1178.6" cy="830.6" r="4.3" fill="#786eb2"/>
<circle cx="1219.3" cy="747" r="3.9" fill="#63439c"/>
<circle cx="1229.7" cy="710.2" r="3.1" fill="#817ebb"/>
<circle cx="1242.8" cy="692.3" r="3.7" fill="#664aa0"/>
<circle cx="1165.3" cy="879.3" r="7.3" fill="#786db2"/>
<circle cx="1243.4" cy="747.8" r="3.9" fill="#6e59a7"/>
<circle cx="1287.2" cy="665.4" r="2.5" fill="#6e58a7"/>
<circle cx="1192.9" cy="848.7" r="6.4" fill="#7669b0"/>
<circle cx="1522.9" cy="469.7" r="3.5" fill="#664aa0"/>
<circle cx="1232" cy="707.1" r="3.1" fill="#664aa0"/>
<circle cx="1264.9" cy="715.5" r="4.8" fill="#6c55a5"/>
<circle cx="1196.9" cy="792.2" r="4.7" fill="#684da1"/>
<circle cx="1241.3" cy="752.9" r="3.5" fill="#684ea1"/>
<circle cx="1260.1" cy="753.3" r="4.7" fill="#7a71b4"/>
<circle cx="1368.2" cy="594" r="4.2" fill="#7c74b5"/>
<circle cx="1458.1" cy="536.7" r="5.3" fill="#7364ad"/>
<circle cx="1151.5" cy="891.5" r="6.7" fill="#786eb2"/>
<circle cx="1511.7" cy="502.4" r="4.4" fill="#7262ac"/>
<circle cx="1176.9" cy="817.4" r="5.4" fill="#6a52a3"/>
<circle cx="1329.1" cy="723.1" r="7.4" fill="#66499f"/>
<circle cx="1192.5" cy="767.2" r="4.6" fill="#64469e"/>
<circle cx="1158.7" cy="836.6" r="4" fill="#65479e"/>
<circle cx="1225.5" cy="778.7" r="5.6" fill="#6c55a5"/>
<circle cx="1549.6" cy="465.3" r="3.6" fill="#6e59a7"/>
<circle cx="1225.8" cy="711.2" r="2" fill="#7363ac"/>
<circle cx="1198" cy="784.4" r="5.3" fill="#684ea2"/>
<circle cx="1244.3" cy="806.3" r="6.4" fill="#796fb3"/>
<circle cx="1353.1" cy="607.7" r="2.8" fill="#7c74b5"/>
<circle cx="1340.7" cy="663.4" r="5.4" fill="#6a50a3"/>
<circle cx="1175.8" cy="779.1" r="4.1" fill="#6a51a3"/>
<circle cx="1174.2" cy="819.7" r="5.3" fill="#6950a2"/>
<circle cx="1197.9" cy="726.2" r="2.4" fill="#8b87bf"/>
<circle cx="1331.8" cy="630.9" r="3.4" fill="#8b87bf"/>
<circle cx="1324.9" cy="721" r="6.2" fill="#6f5ca9"/>
<circle cx="1155.3" cy="778.4" r="4.7" fill="#6950a2"/>
<circle cx="1329.3" cy="660.7" r="5" fill="#674ca1"/>
<circle cx="1360.5" cy="635.3" r="4.9" fill="#7160ab"/>
<circle cx="1411.9" cy="587.6" r="5.2" fill="#705da9"/>
<circle cx="1300.9" cy="713.3" r="4.9" fill="#674ba0"/>
<circle cx="1178.7" cy="796.2" r="4.6" fill="#65479e"/>
<circle cx="1236.8" cy="759.6" r="3.6" fill="#684ea1"/>
<circle cx="1272" cy="724.1" r="5.1" fill="#5f3c99"/>
<circle cx="1249.5" cy="802.6" r="6.8" fill="#7566ae"/>
<circle cx="1298.2" cy="671.3" r="2.1" fill="#7465ae"/>
<circle cx="1396.9" cy="594.8" r="5.4" fill="#674ba0"/>
<circle cx="1183" cy="738.1" r="3.3" fill="#6e5aa8"/>
<circle cx="1496" cy="533.8" r="5.7" fill="#7970b3"/>
<circle cx="1337.5" cy="636.4" r="2.1" fill="#7c76b6"/>
<circle cx="1161.7" cy="811.6" r="5.2" fill="#6b54a4"/>
<circle cx="1337.7" cy="640.7" r="5.1" fill="#674ca1"/>
<circle cx="1262.4" cy="803" r="12.2" fill="#7668af"/>
<circle cx="1218.6" cy="781.8" r="4.8" fill="#66499f"/>
<circle cx="1392.2" cy="654.1" r="10" fill="#7568af"/>
<circle cx="1454.2" cy="570" r="5.8" fill="#6f5ca9"/>
<circle cx="1207.3" cy="793" r="5.9" fill="#65479e"/>
<circle cx="1220.4" cy="728.1" r="4.1" fill="#7465ad"/>
<circle cx="1237.8" cy="758" r="3.8" fill="#6a50a3"/>
<circle cx="1200.9" cy="836.9" r="5.2" fill="#786eb2"/>
<circle cx="1205.6" cy="785.7" r="6" fill="#63439c"/>
<circle cx="1398.8" cy="615.5" r="6.1" fill="#613f9b"/>
<circle cx="1284.7" cy="772.8" r="10.9" fill="#786db2"/>
<circle cx="1484.3" cy="504.6" r="3.9" fill="#6950a2"/>
<circle cx="1147.1" cy="781" r="4" fill="#694fa2"/>
<circle cx="1329.8" cy="658.9" r="4.5" fill="#705da9"/>
<circle cx="1192.9" cy="738.7" r="2.3" fill="#776ab0"/>
<circle cx="1173.7" cy="747" r="2" fill="#766ab0"/>
<circle cx="1208.1" cy="773.8" r="3.5" fill="#64459d"/>
<circle cx="1283" cy="690.9" r="3.7" fill="#7262ac"/>
<circle cx="1427.9" cy="526.6" r="5.2" fill="#8b87bf"/>
<circle cx="1302.9" cy="673.2" r="3.9" fill="#7363ad"/>
<circle cx="1361.1" cy="572" r="3" fill="#664aa0"/>
<circle cx="1248.5" cy="730.2" r="3.9" fill="#674ba0"/>
<circle cx="1536.3" cy="490.3" r="3.4" fill="#7668af"/>
<circle cx="1477.1" cy="552.4" r="4" fill="#705ca9"/>
<circle cx="1241.6" cy="745.5" r="4.5" fill="#684ea1"/>
<circle cx="1246.2" cy="735.7" r="4.8" fill="#684ea1"/>
<circle cx="1255.8" cy="653.6" r="2.2" fill="#7c74b5"/>
<circle cx="1232.8" cy="771.6" r="5.2" fill="#61409b"/>
<circle cx="1384.9" cy="581.1" r="3.1" fill="#817ebb"/>
<circle cx="1376.8" cy="639.9" r="5.1" fill="#65489f"/>
<circle cx="1171.7" cy="855.7" r="5" fill="#7a71b4"/>
<circle cx="1287.9" cy="710.5" r="3.9" fill="#674ca0"/>
<circle cx="1359.6" cy="703.8" r="8.4" fill="#7567ae"/>
<circle cx="1357.5" cy="668.3" r="6.7" fill="#7a71b4"/>
<circle cx="1173.1" cy="789.5" r="4.7" fill="#63449d"/>
<circle cx="1229.1" cy="761.5" r="5.4" fill="#674ba0"/>
<circle cx="1179" cy="801.2" r="4.3" fill="#684da1"/>
<circle cx="1356" cy="701.4" r="9.5" fill="#7465ad"/>
<circle cx="1408.8" cy="643.3" r="7.9" fill="#776bb0"/>
<circle cx="1331" cy="656.9" r="5.4" fill="#62419c"/>
<circle cx="1290.9" cy="691.4" r="3.4" fill="#6a51a3"/>
<circle cx="1182.1" cy="831.8" r="5.1" fill="#7e79b8"/>
<circle cx="1356.4" cy="677" r="6.2" fill="#7464ad"/>
<circle cx="1174.7" cy="795.4" r="3.6" fill="#694fa2"/>
<circle cx="1208.7" cy="754.5" r="3.4" fill="#5f3d99"/>
<circle cx="1177" cy="747" r="3.9" fill="#7669b0"/>
<circle cx="1318.3" cy="715.2" r="6.2" fill="#66499f"/>
<circle cx="1380.2" cy="574.3" r="3.4" fill="#817ebb"/>
<circle cx="1184.5" cy="843.1" r="5.2" fill="#66499f"/>
<circle cx="1222.8" cy="738.8" r="4.4" fill="#63439c"/>
<circle cx="1147.5" cy="852.8" r="4" fill="#786db2"/>
<circle cx="1402.2" cy="653.1" r="11.7" fill="#776bb0"/>
<circle cx="1274.2" cy="720.4" r="5.7" fill="#684da1"/>
<circle cx="1223" cy="852.5" r="7.9" fill="#796fb3"/>
<circle cx="1344.9" cy="709.2" r="8.8" fill="#786db1"/>
<circle cx="1306.8" cy="652.7" r="2.2" fill="#817ebb"/>
<circle cx="1418.4" cy="587.2" r="3.4" fill="#6950a2"/>
<circle cx="1237.3" cy="774.9" r="4.7" fill="#7566ae"/>
<circle cx="1244.6" cy="760.6" r="4.3" fill="#6c54a5"/>
<circle cx="1236.8" cy="709.8" r="3.7" fill="#7c74b5"/>
<circle cx="1335.1" cy="606.6" r="4" fill="#8b87bf"/>
<circle cx="1218.3" cy="785.6" r="3.9" fill="#64459d"/>
<circle cx="1158" cy="737.8" r="1.9" fill="#6e58a7"/>
<circle cx="1252" cy="697.6" r="2" fill="#7363ac"/>
<circle cx="1217.5" cy="716.7" r="3.8" fill="#817ebb"/>
<circle cx="1276.2" cy="723.7" r="3.7" fill="#6e59a7"/>
<circle cx="1222.5" cy="822.4" r="5.8" fill="#796eb2"/>
<circle cx="1246.3" cy="745.6" r="4" fill="#674ba0"/>
<circle cx="1274.1" cy="707.7" r="3.6" fill="#6c55a5"/>
<circle cx="1288.4" cy="764.5" r="9.7" fill="#796fb3"/>
<circle cx="1166.6" cy="890" r="8.1" fill="#786db2"/>
<circle cx="1317.9" cy="648.2" r="3.6" fill="#776bb1"/>
<circle cx="1319.5" cy="711.8" r="7.8" fill="#7669b0"/>
<circle cx="1175.7" cy="864" r="8" fill="#786cb1"/>
<circle cx="1194.9" cy="733.3" r="2.4" fill="#817ebb"/>
<circle cx="1290.3" cy="708.1" r="5.2" fill="#674ba0"/>
<circle cx="1277.9" cy="699.3" r="3.9" fill="#674ca1"/>
<circle cx="1203.9" cy="730.7" r="3.8" fill="#664aa0"/>
<circle cx="1251.1" cy="707.1" r="4" fill="#715faa"/>
<circle cx="1219.4" cy="831.1" r="8.7" fill="#7669b0"/>
<circle cx="1178.8" cy="765.8" r="4.6" fill="#64459d"/>
<circle cx="1417.3" cy="571.4" r="3.9" fill="#6b52a4"/>
<circle cx="1297.7" cy="695" r="5" fill="#674ca0"/>
<circle cx="1411.1" cy="566" r="3.6" fill="#684da1"/>
<circle cx="1247.7" cy="715.5" r="2.1" fill="#7566ae"/>
<circle cx="1151.5" cy="863.9" r="5.1" fill="#786eb2"/>
<circle cx="1281.7" cy="733.2" r="5.8" fill="#684da1"/>
<circle cx="1262.8" cy="776.7" r="8.2" fill="#776bb1"/>
<circle cx="1255.7" cy="769.9" r="5.9" fill="#7a72b4"/>
<circle cx="1304.5" cy="653.8" r="2.8" fill="#664aa0"/>
<circle cx="1231.5" cy="738.4" r="3.8" fill="#66499f"/>
<circle cx="1282.2" cy="748.6" r="5.7" fill="#7970b3"/>
<circle cx="1238.5" cy="831.1" r="10.8" fill="#776ab0"/>
<circle cx="1361.6" cy="636.6" r="4.1" fill="#674ba0"/>
<circle cx="1202" cy="852" r="7.6" fill="#776bb1"/>
<circle cx="1345.3" cy="652.8" r="4.2" fill="#6950a2"/>
<circle cx="1183.3" cy="750.1" r="3.5" fill="#6a51a3"/>
<circle cx="1276.6" cy="775.4" r="8" fill="#7465ad"/>
<circle cx="1256.6" cy="789.7" r="8.5" fill="#786cb1"/>
<circle cx="1251.8" cy="739.7" r="5" fill="#674ba0"/>
<circle cx="1147.7" cy="761.9" r="2.9" fill="#817ebb"/>
<circle cx="1347.1" cy="609.7" r="2.6" fill="#7363ac"/>
<circle cx="1192.7" cy="821.3" r="4.3" fill="#796fb3"/>
<circle cx="1168.9" cy="747.2" r="2.5" fill="#7c74b5"/>
<circle cx="1378.4" cy="595.4" r="3.6" fill="#664aa0"/>
<circle cx="1410" cy="573.6" r="4" fill="#705da9"/>
<circle cx="1379.6" cy="614.8" r="4.4" fill="#6b53a4"/>
<circle cx="1282.4" cy="671.2" r="3.4" fill="#7363ac"/>
<circle cx="1220.3" cy="779.2" r="5.4" fill="#694fa2"/>
<circle cx="1179.7" cy="761.5" r="3.9" fill="#7160ab"/>
<circle cx="1174" cy="746.5" r="3.4" fill="#7c74b5"/>
<circle cx="1177.1" cy="758.2" r="2.5" fill="#715faa"/>
<circle cx="1205.4" cy="830" r="5.9" fill="#786db1"/>
<circle cx="1157.6" cy="885.9" r="6.3" fill="#7b73b5"/>
<circle cx="1442.8" cy="589.9" r="6.3" fill="#7566ae"/>
<circle cx="1186.2" cy="765.2" r="2.9" fill="#694fa2"/>
<circle cx="1227.1" cy="827.7" r="7.1" fill="#796eb2"/>
<circle cx="1154.1" cy="878.6" r="6.5" fill="#776bb0"/>
<circle cx="1150.6" cy="745.7" r="2.4" fill="#817ebb"/>
<circle cx="1191.3" cy="809.7" r="4.1" fill="#63439c"/>
<circle cx="1365" cy="604.3" r="3.4" fill="#705ca9"/>
<circle cx="1193.3" cy="871" r="7.9" fill="#7a70b3"/>
<circle cx="1168.5" cy="742.2" r="3.8" fill="#8b87bf"/>
<circle cx="1461.7" cy="556.8" r="5" fill="#705ca9"/>
<circle cx="1198.5" cy="779" r="5.5" fill="#684ea1"/>
<circle cx="1312.9" cy="672.5" r="3.3" fill="#66499f"/>
<circle cx="1450.1" cy="576.5" r="4.8" fill="#7262ac"/>
<circle cx="1192.8" cy="818" r="5" fill="#7669af"/>
<circle cx="1289" cy="703" r="3.4" fill="#694fa2"/>
<circle cx="1173.5" cy="790.8" r="5.1" fill="#5e3998"/>
<circle cx="1271.5" cy="777.9" r="8.8" fill="#796fb3"/>
<circle cx="1392.2" cy="644.2" r="8.7" fill="#786db2"/>
<circle cx="1178.8" cy="792.8" r="4.9" fill="#62429c"/>
<circle cx="1414.5" cy="557" r="2.1" fill="#6d57a6"/>
<circle cx="1390.5" cy="594.9" r="3.3" fill="#6d58a6"/>
<circle cx="1397.6" cy="572.4" r="3.8" fill="#6d58a6"/>
<circle cx="1165.3" cy="796.2" r="3.4" fill="#65479e"/>
<circle cx="1392.3" cy="667.8" r="9.3" fill="#796eb2"/>
<circle cx="1444" cy="618.8" r="9" fill="#7566ae"/>
<circle cx="1146.5" cy="847.3" r="4.4" fill="#64469e"/>
<circle cx="1245.4" cy="741.5" r="5.1" fill="#6c55a5"/>
<circle cx="1161.5" cy="855.3" r="5.4" fill="#786eb2"/>
<circle cx="1147" cy="877.4" r="5.9" fill="#7b73b5"/>
<circle cx="1226.3" cy="741.4" r="4.8" fill="#674ca0"/>
<circle cx="1332.1" cy="672.2" r="5.6" fill="#6a51a3"/>
<circle cx="1336.1" cy="685.7" r="5.5" fill="#694fa2"/>
<circle cx="1246.6" cy="782.5" r="6.8" fill="#7970b3"/>
<circle cx="1238.7" cy="770.7" r="4.2" fill="#613f9b"/>
<circle cx="1358.4" cy="639.4" r="4.4" fill="#5e3998"/>
<circle cx="1294.9" cy="705.1" r="4.5" fill="#684da1"/>
<circle cx="1147.7" cy="841.2" r="5.7" fill="#613f9b"/>
<circle cx="1173" cy="851.9" r="5.7" fill="#776bb0"/>
<circle cx="1192.9" cy="813.3" r="4.7" fill="#7567ae"/>
<circle cx="1198.7" cy="804.6" r="5.3" fill="#6b53a4"/>
<circle cx="1254.8" cy="731.1" r="5.5" fill="#62429c"/>
<circle cx="1557" cy="484.6" r="7.2" fill="#7b73b5"/>
<circle cx="1304.1" cy="677.3" r="3.2" fill="#63459d"/>
<circle cx="1273.4" cy="758.8" r="5.6" fill="#776ab0"/>
<circle cx="1304.3" cy="710" r="4.3" fill="#6d56a6"/>
<circle cx="1180.2" cy="764" r="4.7" fill="#6a50a3"/>
<circle cx="1254.7" cy="677.3" r="4.1" fill="#8b87bf"/>
<circle cx="1440.1" cy="531.2" r="2.2" fill="#7261ab"/>
<circle cx="1387.2" cy="575" r="4.1" fill="#7363ac"/>
<circle cx="1229.4" cy="777.3" r="4.2" fill="#64469e"/>
<circle cx="1161.6" cy="782" r="4.6" fill="#6a51a3"/>
<circle cx="1309" cy="682.3" r="4.1" fill="#6d56a6"/>
<circle cx="1203.7" cy="722.1" r="3.3" fill="#664aa0"/>
<circle cx="1162.5" cy="820.7" r="4.5" fill="#674ba0"/>
<circle cx="1450.1" cy="576.7" r="5.1" fill="#694fa2"/>
<circle cx="1205.3" cy="774" r="4.4" fill="#65489f"/>
<circle cx="1152.7" cy="753" r="2.8" fill="#817ebb"/>
<circle cx="1232.7" cy="715.6" r="3.9" fill="#6e58a7"/>
<circle cx="1240.6" cy="819.5" r="9.8" fill="#66499f"/>
<circle cx="1155.8" cy="887.3" r="7.5" fill="#766ab0"/>
<circle cx="1145.6" cy="829.1" r="5.1" fill="#6e58a7"/>
<circle cx="1236.3" cy="748.8" r="4.3" fill="#664aa0"/>
<circle cx="1278.9" cy="697.5" r="3.5" fill="#603e9a"/>
<circle cx="1178" cy="771.2" r="4.6" fill="#684ea1"/>
<circle cx="1299.2" cy="771.4" r="12.5" fill="#796eb2"/>
<circle cx="1367.2" cy="610" r="3.9" fill="#674ca1"/>
<circle cx="1417.5" cy="574.7" r="4.8" fill="#6d57a6"/>
<circle cx="1323.4" cy="698.8" r="6" fill="#776bb0"/>
<circle cx="1223.6" cy="813.6" r="7" fill="#7668af"/>
<circle cx="1278.6" cy="731.5" r="5.2" fill="#694ea2"/>
<circle cx="1289.9" cy="682" r="4.9" fill="#5e3b98"/>
<circle cx="1388.6" cy="607.8" r="4.7" fill="#6e59a7"/>
<circle cx="1522.7" cy="531.9" r="10" fill="#7566ae"/>
<circle cx="1336.4" cy="682.8" r="5.1" fill="#6b53a4"/>
<circle cx="1381.1" cy="620.1" r="4" fill="#62429c"/>
<circle cx="1271.6" cy="661" r="4" fill="#7c74b5"/>
<circle cx="1359.8" cy="634.7" r="5.3" fill="#694ea2"/>
<circle cx="1339.4" cy="692.9" r="6.2" fill="#7669af"/>
<circle cx="1196.8" cy="853" r="6.7" fill="#7d76b7"/>
<circle cx="1169.7" cy="774.9" r="3.7" fill="#61419b"/>
<circle cx="1284.4" cy="688.1" r="4.1" fill="#674ca0"/>
<circle cx="1193.4" cy="837.6" r="6.2" fill="#786cb1"/>
<circle cx="1342.5" cy="677.2" r="6.4" fill="#684ea2"/>
<circle cx="1242.7" cy="738.1" r="3.8" fill="#63449d"/>
<circle cx="1299.4" cy="713.7" r="6.1" fill="#64459d"/>
<circle cx="1305.3" cy="658.1" r="3.9" fill="#766ab0"/>
<circle cx="1428.2" cy="635.5" r="12" fill="#7669b0"/>
<circle cx="1232.3" cy="812.3" r="8" fill="#796eb2"/>
<circle cx="1334.5" cy="697.9" r="6.4" fill="#796fb2"/>
<circle cx="1482.2" cy="578.4" r="13.8" fill="#776ab0"/>
<circle cx="1170.4" cy="767.5" r="3.1" fill="#7d77b7"/>
<circle cx="1155.6" cy="810.5" r="4.4" fill="#6950a3"/>
<circle cx="1265.9" cy="719.9" r="4.5" fill="#664aa0"/>
<circle cx="1190.3" cy="816.9" r="4.7" fill="#776cb1"/>
<circle cx="1486.8" cy="493.1" r="5" fill="#8b87bf"/>
<circle cx="1546.4" cy="499.3" r="8.2" fill="#7669b0"/>
<circle cx="1222.9" cy="796.9" r="5.7" fill="#796eb2"/>
<circle cx="1554.5" cy="459.7" r="4.1" fill="#7464ad"/>
<circle cx="1292.4" cy="641.8" r="3.4" fill="#6e58a7"/>
<circle cx="1215.7" cy="723.7" r="3.1" fill="#664aa0"/>
<circle cx="1339.2" cy="611.6" r="4" fill="#664aa0"/>
<circle cx="1208.3" cy="753" r="4.1" fill="#64459d"/>
<circle cx="1156.4" cy="744.9" r="2.7" fill="#817ebb"/>
<circle cx="1306.1" cy="714.1" r="6" fill="#7a72b4"/>
<circle cx="1148.3" cy="848.2" r="3.8" fill="#786db2"/>
<circle cx="1170.8" cy="854.6" r="6.1" fill="#66499f"/>
<circle cx="1157.1" cy="780.3" r="3.7" fill="#6a50a3"/>
<circle cx="1339.5" cy="666.2" r="5.6" fill="#6a51a3"/>
<circle cx="1151" cy="759.3" r="3.1" fill="#664aa0"/>
<circle cx="1151.2" cy="886.4" r="4.7" fill="#7464ad"/>
<circle cx="1419.1" cy="604.4" r="4.7" fill="#6e59a7"/>
<circle cx="1348.7" cy="654.8" r="4.5" fill="#6c56a6"/>
<circle cx="1235.7" cy="791" r="7.2" fill="#766ab0"/>
<circle cx="1301.8" cy="741.5" r="6.7" fill="#7669af"/>
<circle cx="1159.5" cy="789.5" r="3.2" fill="#64459d"/>
<circle cx="1299.4" cy="756.5" r="6.9" fill="#786db2"/>
<circle cx="1240.8" cy="714.7" r="2.8" fill="#6e5aa8"/>
<circle cx="1242" cy="783.4" r="5.6" fill="#7567af"/>
<circle cx="1297.8" cy="700.8" r="5.8" fill="#684ea1"/>
<circle cx="1315.2" cy="755.2" r="10.5" fill="#7b73b5"/>
<circle cx="1308" cy="679.8" r="4.8" fill="#64459d"/>
<circle cx="1158.1" cy="741.1" r="3.2" fill="#8b87bf"/>
<circle cx="1268.8" cy="673.8" r="3.3" fill="#6e58a7"/>
<circle cx="1303.9" cy="730.5" r="6" fill="#786db2"/>
<circle cx="1398.8" cy="639.5" r="6.8" fill="#7669af"/>
<circle cx="1305.5" cy="647.3" r="2.4" fill="#8b87bf"/>
<circle cx="1147" cy="899.9" r="6.9" fill="#776bb0"/>
<circle cx="1165.2" cy="746.7" r="3.8" fill="#7c74b5"/>
<circle cx="1342.9" cy="670.4" r="3.7" fill="#694ea2"/>
<circle cx="1318.3" cy="637.2" r="4" fill="#817ebb"/>
<circle cx="1548.5" cy="484.4" r="4.6" fill="#694fa2"/>
<circle cx="1276.9" cy="677.2" r="2.6" fill="#8b87bf"/>
<circle cx="1192.1" cy="741.9" r="2.4" fill="#776cb1"/>
<circle cx="1385.4" cy="558" r="3.7" fill="#8b87bf"/>
<circle cx="1359.1" cy="692.7" r="10.3" fill="#776bb0"/>
<circle cx="1147.1" cy="837.7" r="4.3" fill="#65489f"/>
<circle cx="1467.6" cy="550.5" r="4.5" fill="#7568af"/>
<circle cx="1257.1" cy="696" r="2.6" fill="#705ca9"/>
<circle cx="1205" cy="770.1" r="5.7" fill="#694ea2"/>
<circle cx="1177.1" cy="835.5" r="5" fill="#786db2"/>
<circle cx="1174.5" cy="743" r="3.6" fill="#766ab0"/>
<circle cx="1375" cy="606.4" r="2.4" fill="#7464ad"/>
<circle cx="1192.3" cy="802.7" r="5.5" fill="#63449d"/>
<circle cx="1436.7" cy="601.6" r="8.5" fill="#7669af"/>
<circle cx="1525.8" cy="534.4" r="11.9" fill="#786db2"/>
<circle cx="1236.5" cy="733.9" r="3.6" fill="#6a51a3"/>
<circle cx="1208.2" cy="727.8" r="2.9" fill="#766ab0"/>
<circle cx="1315.5" cy="679.6" r="5.7" fill="#705da9"/>
<circle cx="1150.2" cy="758.1" r="3.6" fill="#674ba0"/>
<circle cx="1225.5" cy="843.5" r="9" fill="#7b73b5"/>
<circle cx="1191.1" cy="846.6" r="7.1" fill="#7568af"/>
<circle cx="1282.7" cy="719" r="4.3" fill="#63439c"/>
<circle cx="1203.9" cy="742.1" r="2.9" fill="#6a52a3"/>
<circle cx="1256.6" cy="756" r="5.6" fill="#674ba0"/>
<circle cx="1455" cy="596.2" r="8.3" fill="#7970b3"/>
<circle cx="1549" cy="478.7" r="3.9" fill="#776bb0"/>
<circle cx="1332.8" cy="669.9" r="5.3" fill="#65489f"/>
<circle cx="1144.2" cy="896.3" r="7.4" fill="#7d77b7"/>
<circle cx="1307.9" cy="729.3" r="6.3" fill="#7c75b6"/>
<circle cx="1258.4" cy="749.6" r="5.9" fill="#664aa0"/>
<circle cx="1229.3" cy="833" r="10.2" fill="#7a70b3"/>
<circle cx="1257" cy="714.1" r="5.4" fill="#64459e"/>
<circle cx="1527.5" cy="489.6" r="5.4" fill="#776bb1"/>
<circle cx="1276" cy="696.8" r="4.7" fill="#684da1"/>
<circle cx="1186.8" cy="801.7" r="4.4" fill="#66499f"/>
<circle cx="1290" cy="761.5" r="8.3" fill="#7a71b3"/>
<circle cx="1156.1" cy="898.2" r="6" fill="#7567ae"/>
<circle cx="1254" cy="784.1" r="8.1" fill="#776bb0"/>
<circle cx="1276.6" cy="780.6" r="7.8" fill="#776bb1"/>
<circle cx="1351" cy="686" r="7.8" fill="#7970b3"/>
<circle cx="1174.2" cy="885.8" r="8.8" fill="#7567ae"/>
<circle cx="1268.1" cy="683.9" r="2.5" fill="#7363ac"/>
<circle cx="1147.7" cy="745.8" r="2.5" fill="#664aa0"/>
<circle cx="1167.4" cy="751" r="2.3" fill="#664aa0"/>
<circle cx="1168.3" cy="774.7" r="4.5" fill="#66499f"/>
<circle cx="1370.1" cy="627.7" r="5.6" fill="#7566ae"/>
<circle cx="1170.6" cy="792.7" r="5.6" fill="#6e5aa8"/>
<circle cx="1157.5" cy="870.2" r="4.5" fill="#7a72b4"/>
<circle cx="1200.6" cy="801.6" r="4.8" fill="#776bb1"/>
<circle cx="1405.2" cy="614.1" r="5.7" fill="#6c56a5"/>
<circle cx="1305.5" cy="694.5" r="3.7" fill="#6950a2"/>
<circle cx="1213.9" cy="776.9" r="5.9" fill="#5f3c99"/>
<circle cx="1328" cy="630.6" r="2.3" fill="#817ebb"/>
<circle cx="1274.2" cy="715.3" r="5.3" fill="#62419c"/>
<circle cx="1283.3" cy="716.3" r="5.8" fill="#6d57a6"/>
<circle cx="1171.3" cy="859.7" r="7" fill="#796fb3"/>
<circle cx="1363.4" cy="618.1" r="3.5" fill="#7261ab"/>
<circle cx="1338.6" cy="651" r="3.3" fill="#6b52a4"/>
<circle cx="1378.4" cy="638.8" r="6" fill="#65479e"/>
<circle cx="1209.1" cy="853" r="7.4" fill="#7a70b3"/>
<circle cx="1232.9" cy="758.7" r="5.6" fill="#6950a2"/>
<circle cx="1396.1" cy="605" r="5.1" fill="#674ba0"/>
<circle cx="1290.8" cy="709.6" r="4.5" fill="#6a51a3"/>
<circle cx="1147.8" cy="831.6" r="5.9" fill="#6f5ba8"/>
<circle cx="1168.8" cy="776" r="3.4" fill="#62429c"/>
<circle cx="1223" cy="734" r="3.1" fill="#6f5ba8"/>
<circle cx="1340.6" cy="725.3" r="9.7" fill="#7465ad"/>
<circle cx="1331.9" cy="707.5" r="6.2" fill="#776bb1"/>
<circle cx="1515.7" cy="526.1" r="7.5" fill="#776ab0"/>
<circle cx="1506.7" cy="529.8" r="7.4" fill="#786eb2"/>
<circle cx="1302.3" cy="709.2" r="3.7" fill="#6e59a7"/>
<circle cx="1351.5" cy="664.3" r="5.8" fill="#6b54a4"/>
<circle cx="1184.7" cy="793.2" r="5.9" fill="#694ea2"/>
<circle cx="1224.8" cy="761.2" r="5.9" fill="#6a51a3"/>
<circle cx="1146" cy="845" r="3.8" fill="#786db2"/>
<circle cx="1225.2" cy="817.9" r="8.1" fill="#66499f"/>
<circle cx="1216" cy="778.6" r="5.5" fill="#62419b"/>
<circle cx="1213.8" cy="796.6" r="4.7" fill="#786db1"/>
<circle cx="1207.5" cy="747.1" r="3.9" fill="#65489f"/>
<circle cx="1393.6" cy="585.7" r="3.3" fill="#7362ac"/>
<circle cx="1153.2" cy="892.3" r="6.5" fill="#766ab0"/>
<circle cx="1303.8" cy="650.6" r="2.2" fill="#6e58a7"/>
<circle cx="1157.7" cy="899.5" r="9.4" fill="#66499f"/>
<circle cx="1150.3" cy="791.4" r="3.3" fill="#5f3d99"/>
<circle cx="1168.3" cy="747.6" r="2.3" fill="#7363ac"/>
<circle cx="1351.7" cy="672.6" r="5.1" fill="#66499f"/>
<circle cx="1164.7" cy="872.1" r="6.2" fill="#66499f"/>
<circle cx="1186.6" cy="878.8" r="9.8" fill="#7a71b4"/>
<circle cx="1160.2" cy="837.9" r="4.2" fill="#796eb2"/>
<circle cx="1194.4" cy="844.7" r="6.1" fill="#776bb1"/>
<circle cx="1328.1" cy="619.2" r="3.8" fill="#817ebb"/>
<circle cx="1283.7" cy="784.6" r="7.8" fill="#7567ae"/>
<circle cx="1181" cy="740.5" r="3.3" fill="#7363ac"/>
<circle cx="1186.3" cy="760.2" r="4.5" fill="#684da1"/>
<circle cx="1220.4" cy="801.1" r="5.3" fill="#786eb2"/>
<circle cx="1181.3" cy="827.6" r="5.2" fill="#7970b3"/>
<circle cx="1275.4" cy="750.7" r="6" fill="#7668af"/>
<circle cx="1282.3" cy="720" r="5.9" fill="#694fa2"/>
<circle cx="1216.2" cy="794.7" r="4.7" fill="#7a70b3"/>
<circle cx="1301.6" cy="660.1" r="3.8" fill="#8b87bf"/>
<circle cx="1145.7" cy="861.8" r="5.3" fill="#776ab0"/>
<circle cx="1205.6" cy="720.8" r="2.1" fill="#8b87bf"/>
<circle cx="1176.9" cy="728.3" r="2.1" fill="#817ebb"/>
<circle cx="1162.4" cy="751.8" r="3.1" fill="#7c74b5"/>
<circle cx="1319.5" cy="683.6" r="5.3" fill="#6a52a3"/>
<circle cx="1232.3" cy="800.7" r="6.4" fill="#7970b3"/>
<circle cx="1300.4" cy="694.6" r="4.9" fill="#63449d"/>
<circle cx="1225.9" cy="745" r="4.5" fill="#674ba0"/>
<circle cx="1285.1" cy="716" r="5.5" fill="#694fa2"/>
<circle cx="1519.2" cy="473.8" r="4.4" fill="#817ebb"/>
<circle cx="1173.5" cy="818.1" r="3.8" fill="#684da1"/>
<circle cx="1502.7" cy="478.5" r="4.2" fill="#664aa0"/>
<circle cx="1340.2" cy="710.1" r="8.2" fill="#796eb2"/>
<circle cx="1400.5" cy="618.5" r="6.3" fill="#6b52a4"/>
<circle cx="1228" cy="708.6" r="3.2" fill="#664aa0"/>
<circle cx="1546.6" cy="480.1" r="5.3" fill="#7260ab"/>
<circle cx="1235" cy="687.5" r="3.4" fill="#7c74b5"/>
<circle cx="1350.1" cy="634.6" r="4.6" fill="#694fa2"/>
<circle cx="1242.9" cy="773.7" r="4.9" fill="#796fb3"/>
<circle cx="1170.4" cy="810.2" r="4.9" fill="#65479e"/>
<circle cx="1200.8" cy="732.1" r="1.9" fill="#817ebb"/>
<circle cx="1225.3" cy="763.8" r="3.9" fill="#61409b"/>
<circle cx="1291.5" cy="666.1" r="3.6" fill="#766ab0"/>
<circle cx="1169.2" cy="896.5" r="7" fill="#776bb1"/>
<circle cx="1214.8" cy="743.7" r="5.3" fill="#6a52a4"/>
<circle cx="1211.3" cy="837.7" r="6.3" fill="#786db1"/>
<circle cx="1218.4" cy="804.9" r="5.3" fill="#7669b0"/>
<circle cx="1155.4" cy="844.7" r="4.7" fill="#7364ad"/>
<circle cx="1199.2" cy="821.7" r="5.1" fill="#776bb0"/>
<circle cx="1292.6" cy="690.2" r="4.5" fill="#664aa0"/>
<circle cx="1183.7" cy="874.5" r="6.2" fill="#66499f"/>
<circle cx="1393.5" cy="576" r="3.1" fill="#7c74b5"/>
<circle cx="1149.1" cy="811.3" r="3.7" fill="#684da1"/>
<circle cx="1212" cy="807.3" r="5.8" fill="#7669b0"/>
<circle cx="1200.6" cy="802.2" r="5" fill="#674ba0"/>
<circle cx="1204.1" cy="821.8" r="5.9" fill="#7566ae"/>
<circle cx="1307.1" cy="703.3" r="4.3" fill="#6a51a3"/>
<circle cx="1189.2" cy="757.9" r="5" fill="#62419b"/>
<circle cx="1381.9" cy="656.4" r="7.7" fill="#7568af"/>
<circle cx="1280.7" cy="773.6" r="10.2" fill="#796fb2"/>
<circle cx="1333" cy="723.8" r="10.3" fill="#7669b0"/>
<circle cx="1243.2" cy="697.6" r="3.5" fill="#7363ac"/>
<circle cx="1258.4" cy="728.6" r="4" fill="#5e3b98"/>
<circle cx="1193.8" cy="773.3" r="5.2" fill="#65479e"/>
<circle cx="1373.8" cy="622.9" r="4.1" fill="#6e59a7"/>
<circle cx="1319.5" cy="639.7" r="3.3" fill="#7c74b5"/>
<circle cx="1266.2" cy="686" r="3.1" fill="#664aa0"/>
<circle cx="1178.3" cy="875.1" r="8.4" fill="#7a71b4"/>
<circle cx="1173.1" cy="825.5" r="3.9" fill="#7c74b5"/>
<circle cx="1161.3" cy="792.9" r="5.7" fill="#63439c"/>
<circle cx="1220.6" cy="724" r="3.8" fill="#674ca0"/>
<circle cx="1218.4" cy="778.9" r="4.4" fill="#674ca0"/>
<circle cx="1292.5" cy="678" r="2.6" fill="#6e5aa8"/>
<circle cx="1190.4" cy="807.1" r="5.1" fill="#65489f"/>
<circle cx="1235.6" cy="703.7" r="2.2" fill="#817ebb"/>
<circle cx="1230.4" cy="816.6" r="8.8" fill="#796fb3"/>
<circle cx="1212.9" cy="743.4" r="3" fill="#6a51a3"/>
<circle cx="1169.6" cy="755.1" r="4.2" fill="#705ca9"/>
<circle cx="1160.6" cy="904.7" r="10" fill="#786eb2"/>
<circle cx="1208.2" cy="858.9" r="9.7" fill="#796eb2"/>
<circle cx="1309.2" cy="695.6" r="4.5" fill="#694fa2"/>
<circle cx="1241.4" cy="736.4" r="3.6" fill="#613f9b"/>
<circle cx="1282.6" cy="727.1" r="5.6" fill="#664aa0"/>
<circle cx="1259" cy="692" r="2.2" fill="#8b87bf"/>
<circle cx="1515.9" cy="481.4" r="3.5" fill="#6f5aa8"/>
<circle cx="1524.7" cy="469.1" r="3.5" fill="#766ab0"/>
<circle cx="1263.6" cy="638" r="3.7" fill="#664aa0"/>
<circle cx="1186.6" cy="770.2" r="5.4" fill="#65489f"/>
<circle cx="1161.8" cy="751.7" r="3.5" fill="#7669b0"/>
<circle cx="1269.4" cy="748.4" r="5.2" fill="#7669af"/>
<circle cx="1481.5" cy="551.6" r="8.1" fill="#7970b3"/>
<circle cx="1195.2" cy="843" r="4.9" fill="#786db2"/>
<circle cx="1192.4" cy="777.1" r="5.7" fill="#6a50a3"/>
<circle cx="1152.8" cy="804.3" r="5.7" fill="#5e3998"/>
<circle cx="1261.2" cy="801.7" r="10.3" fill="#786cb1"/>
<circle cx="1214.6" cy="765.4" r="5.3" fill="#694fa2"/>
<circle cx="1382.7" cy="631.4" r="5.5" fill="#6950a2"/>
<circle cx="1299.6" cy="731.4" r="5.6" fill="#776bb0"/>
<circle cx="1393.6" cy="607.1" r="5.4" fill="#6e58a7"/>
<circle cx="1183" cy="738.2" r="3.9" fill="#664aa0"/>
<circle cx="1215.9" cy="718.4" r="2.7" fill="#6e58a7"/>
<circle cx="1443.6" cy="557" r="5.4" fill="#64459d"/>
<circle cx="1420.2" cy="574.5" r="5" fill="#7363ac"/>
<circle cx="1331.5" cy="624.9" r="2.6" fill="#766ab0"/>
<circle cx="1166" cy="856.3" r="5.4" fill="#7a70b3"/>
<circle cx="1388.4" cy="671.6" r="10.4" fill="#796fb2"/>
<circle cx="1227.7" cy="807.4" r="5.5" fill="#7363ac"/>
<circle cx="1223.2" cy="813.4" r="7.9" fill="#786db2"/>
<circle cx="1244.3" cy="750.1" r="3.9" fill="#684da1"/>
<circle cx="1531" cy="440.2" r="5.2" fill="#8b87bf"/>
<circle cx="1524.8" cy="479.9" r="4.1" fill="#715faa"/>
<circle cx="1513.3" cy="521.5" r="4" fill="#776bb0"/>
<circle cx="1178" cy="742.8" r="3.2" fill="#817ebb"/>
<circle cx="1202.1" cy="730.4" r="2" fill="#664aa0"/>
<circle cx="1440.7" cy="602.9" r="10.8" fill="#786eb2"/>
<circle cx="1479.7" cy="577.5" r="9.8" fill="#796fb3"/>
<circle cx="1167.8" cy="829.6" r="5.1" fill="#674ca1"/>
<circle cx="1383" cy="622.7" r="5.4" fill="#6d57a6"/>
<circle cx="1240.1" cy="771.8" r="4.8" fill="#7a70b3"/>
<circle cx="1480.7" cy="560.1" r="7.9" fill="#7a72b4"/>
<circle cx="1240.7" cy="817.4" r="7.4" fill="#7a71b4"/>
<circle cx="1331.1" cy="631.6" r="3.3" fill="#6e5aa8"/>
<circle cx="1225" cy="778" r="5.5" fill="#684ca1"/>
<circle cx="1215.4" cy="724.9" r="2.3" fill="#7363ac"/>
<circle cx="1304.2" cy="662.3" r="2.7" fill="#7261ab"/>
<circle cx="1321" cy="692.9" r="3.8" fill="#664aa0"/>
<circle cx="1250.3" cy="729.4" r="3.3" fill="#674ba0"/>
<circle cx="1319.3" cy="648.3" r="2.8" fill="#7669b0"/>
<circle cx="1151.7" cy="877" r="6.1" fill="#7970b3"/>
<circle cx="1344.3" cy="645" r="5.1" fill="#6a50a3"/>
<circle cx="1217.5" cy="799.2" r="5.7" fill="#7567af"/>
<circle cx="1155.7" cy="822.6" r="5.9" fill="#684ca1"/>
<circle cx="1167.9" cy="847.4" r="5" fill="#776ab0"/>
<circle cx="1149.5" cy="779.4" r="2.9" fill="#684ea1"/>
<circle cx="1382.9" cy="637.8" r="3.9" fill="#6a51a3"/>
<circle cx="1359.4" cy="601.6" r="2.7" fill="#6c54a5"/>
<circle cx="1356.1" cy="712.7" r="12.1" fill="#7a72b4"/>
<circle cx="1228.5" cy="744.2" r="3.5" fill="#64469e"/>
<circle cx="1180.3" cy="822.5" r="4.8" fill="#7b73b5"/>
<circle cx="1183" cy="761" r="4.3" fill="#603e9a"/>
<circle cx="1306.9" cy="665.2" r="2.8" fill="#705eaa"/>
<circle cx="1172" cy="792" r="5.5" fill="#6c55a5"/>
<circle cx="1264.1" cy="694.1" r="3.5" fill="#6b52a4"/>
<circle cx="1258.7" cy="808" r="10" fill="#796eb2"/>
<circle cx="1342.9" cy="696" r="6.7" fill="#7a70b3"/>
<circle cx="1368.1" cy="584.8" r="3.5" fill="#817ebb"/>
<circle cx="1297.3" cy="716.9" r="5.9" fill="#64459d"/>
<circle cx="1385.6" cy="683.8" r="10.3" fill="#786db2"/>
<circle cx="1242.6" cy="718.7" r="2.9" fill="#62419b"/>
<circle cx="1286.6" cy="696.9" r="4.4" fill="#705da9"/>
<circle cx="1358.9" cy="601.1" r="2.7" fill="#8b87bf"/>
<circle cx="1389.9" cy="648.9" r="7.5" fill="#7a71b4"/>
<circle cx="1176.3" cy="756.4" r="2.3" fill="#705ca9"/>
<circle cx="1471" cy="559.5" r="4.3" fill="#6f5aa8"/>
<circle cx="1152.2" cy="813.2" r="4.2" fill="#66499f"/>
<circle cx="1204.5" cy="757" r="5.3" fill="#694fa2"/>
<circle cx="1235.2" cy="789.3" r="5.9" fill="#7c74b5"/>
<circle cx="1147.4" cy="873" r="4.5" fill="#796eb2"/>
<circle cx="1182.7" cy="785.5" r="5.5" fill="#6a51a3"/>
<circle cx="1218" cy="717.2" r="3.7" fill="#8b87bf"/>
<circle cx="1280.7" cy="666.7" r="3.2" fill="#817ebb"/>
<circle cx="1349.7" cy="664.5" r="5.4" fill="#7262ac"/>
<circle cx="1459.2" cy="599.2" r="13.8" fill="#766ab0"/>
<circle cx="1536.6" cy="489.2" r="5.9" fill="#63449d"/>
<circle cx="1327.8" cy="690.6" r="5.9" fill="#65489f"/>
<circle cx="1232.1" cy="789" r="6.2" fill="#776ab0"/>
<circle cx="1170.2" cy="738.1" r="2.6" fill="#8b87bf"/>
<circle cx="1216.3" cy="801" r="5.7" fill="#786eb2"/>
<circle cx="1301.2" cy="676" r="5" fill="#6950a2"/>
<circle cx="1172.6" cy="833.9" r="4.5" fill="#715faa"/>
<circle cx="1353.8" cy="644" r="4.6" fill="#6e59a7"/>
<circle cx="1146.2" cy="763.1" r="2.7" fill="#6f5ba8"/>
<circle cx="1378.7" cy="662.2" r="6.5" fill="#786db2"/>
<circle cx="1357.7" cy="674" r="6" fill="#776ab0"/>
<circle cx="1351.6" cy="643.5" r="3.6" fill="#6c55a5"/>
<circle cx="1151.3" cy="762.5" r="3.9" fill="#6d57a6"/>
<circle cx="1161" cy="765.7" r="2.3" fill="#6c55a5"/>
<circle cx="1158.3" cy="845.4" r="5.3" fill="#786cb1"/>
<circle cx="1475.8" cy="515.4" r="3.9" fill="#6e59a7"/>
<circle cx="1245.8" cy="767.7" r="4.7" fill="#7c75b6"/>
<circle cx="1408.8" cy="573.7" r="4.5" fill="#65489f"/>
<circle cx="1160.2" cy="797.8" r="5.1" fill="#6b54a4"/>
<circle cx="1393" cy="645.5" r="6.5" fill="#7970b3"/>
<circle cx="1171.9" cy="803.8" r="4.4" fill="#5f3c99"/>
<circle cx="1183.2" cy="838.2" r="4.4" fill="#7567af"/>
<circle cx="1163.3" cy="801.8" r="5" fill="#63439d"/>
<circle cx="1160.6" cy="899.6" r="7" fill="#796fb3"/>
<circle cx="1520" cy="505.1" r="4.4" fill="#7c74b5"/>
<circle cx="1239.7" cy="773.3" r="5.4" fill="#7669b0"/>
<circle cx="1549.3" cy="487.7" r="6.1" fill="#7261ab"/>
<circle cx="1188.2" cy="800.6" r="5.3" fill="#5f3d99"/>
<circle cx="1532.2" cy="511.6" r="7.8" fill="#796eb2"/>
<circle cx="1271.6" cy="678.6" r="4.1" fill="#6e58a7"/>
<circle cx="1157" cy="872" r="5.2" fill="#776bb1"/>
<circle cx="1152.2" cy="833.3" r="4.5" fill="#62429c"/>
<circle cx="1237.4" cy="705.2" r="3.4" fill="#766ab0"/>
<circle cx="1210.7" cy="759.1" r="3.3" fill="#65479e"/>
<circle cx="1148" cy="812.2" r="4.6" fill="#6b53a4"/>
<circle cx="1395.8" cy="619.1" r="3.9" fill="#6f5ba8"/>
<circle cx="1357.6" cy="650.4" r="4.7" fill="#705ca9"/>
<circle cx="1236.1" cy="788.8" r="5.2" fill="#776cb1"/>
<circle cx="1232.8" cy="696.1" r="3.2" fill="#664aa0"/>
<circle cx="1522.8" cy="527.6" r="12.6" fill="#7a70b3"/>
<circle cx="1291" cy="658.6" r="4" fill="#7363ac"/>
<circle cx="1155.3" cy="847.3" r="3.7" fill="#66499f"/>
<circle cx="1324.1" cy="631.6" r="3" fill="#817ebb"/>
<circle cx="1243" cy="751" r="6" fill="#64469e"/>
<circle cx="1301.2" cy="759.6" r="9.6" fill="#786db2"/>
<circle cx="1501.1" cy="527.3" r="5.3" fill="#6e59a7"/>
<circle cx="1485.7" cy="554.3" r="6.7" fill="#786cb1"/>
<circle cx="1174.3" cy="831" r="5" fill="#786eb2"/>
<circle cx="1221.3" cy="813.6" r="5.7" fill="#786db2"/>
<circle cx="1457" cy="539.2" r="4.5" fill="#6a52a3"/>
<circle cx="1158.8" cy="746.8" r="1.9" fill="#7363ac"/>
<circle cx="1440.3" cy="594.2" r="7.8" fill="#796eb2"/>
<circle cx="1234.4" cy="709.3" r="3.3" fill="#7363ac"/>
<circle cx="1434.6" cy="595.6" r="6.2" fill="#776cb1"/>
<circle cx="1165.9" cy="741.3" r="3.2" fill="#664aa0"/>
<circle cx="1255.4" cy="734.4" r="5.3" fill="#6d56a6"/>
<circle cx="1348.4" cy="678.5" r="5.3" fill="#766ab0"/>
<circle cx="1173.5" cy="867.8" r="5.4" fill="#7568af"/>
<circle cx="1261" cy="749.8" r="5" fill="#63439c"/>
<circle cx="1228.4" cy="819.9" r="9.4" fill="#776cb1"/>
<circle cx="1252.2" cy="689.6" r="3.8" fill="#817ebb"/>
<circle cx="1270.4" cy="723.1" r="5.6" fill="#674ba0"/>
<circle cx="1277.2" cy="712.9" r="3.4" fill="#684ea2"/>
<circle cx="1244.1" cy="788.1" r="6.4" fill="#7b73b5"/>
<circle cx="1421.3" cy="622" r="8.3" fill="#786eb2"/>
<circle cx="1259.1" cy="690.1" r="2.9" fill="#664aa0"/>
<circle cx="1213.9" cy="821.5" r="6.5" fill="#66499f"/>
<circle cx="1451.4" cy="598.4" r="10.3" fill="#7668af"/>
<circle cx="1379.4" cy="629.9" r="5.9" fill="#684ea1"/>
<circle cx="1333.6" cy="713.9" r="7.3" fill="#796fb3"/>
<circle cx="1497.7" cy="498.7" r="3.4" fill="#7262ac"/>
<circle cx="1234.1" cy="822.2" r="7.8" fill="#7b73b5"/>
<circle cx="1187.7" cy="775.6" r="4.8" fill="#684da1"/>
<circle cx="1149.6" cy="896.5" r="6.3" fill="#796fb3"/>
<circle cx="1226.2" cy="716.6" r="3.1" fill="#6950a2"/>
<circle cx="1248.1" cy="811.8" r="11.4" fill="#796fb2"/>
<circle cx="1252.7" cy="775.8" r="5.2" fill="#7668af"/>
<circle cx="1226" cy="765" r="4.8" fill="#694fa2"/>
<circle cx="1205.3" cy="838.5" r="5.9" fill="#7567af"/>
<circle cx="1193.2" cy="823.8" r="4.8" fill="#7568af"/>
<circle cx="1209.9" cy="818.9" r="7" fill="#796fb2"/>
<circle cx="1182.9" cy="773.2" r="4.6" fill="#62429c"/>
<circle cx="1291.9" cy="677.3" r="3" fill="#6c55a5"/>
<circle cx="1162.8" cy="857.5" r="4.4" fill="#786db2"/>
<circle cx="1286.9" cy="717.1" r="4.3" fill="#6d56a6"/>
<circle cx="1162.9" cy="782.6" r="3.6" fill="#5f3b99"/>
<circle cx="1197.9" cy="869.9" r="9.3" fill="#776bb1"/>
<circle cx="1250" cy="743.3" r="4.7" fill="#674ca0"/>
<circle cx="1430.1" cy="592.3" r="4" fill="#6f5ca9"/>
<circle cx="1197.1" cy="852.7" r="7.2" fill="#776bb0"/>
<circle cx="1346.4" cy="705.5" r="7.5" fill="#7566ae"/>
<circle cx="1188.2" cy="799" r="3.7" fill="#6c54a5"/>
<circle cx="1280.9" cy="781.9" r="10.2" fill="#796eb2"/>
<circle cx="1238.9" cy="692.3" r="3.6" fill="#664aa0"/>
<circle cx="1158.5" cy="875.7" r="6.3" fill="#7c75b6"/>
<circle cx="1172.6" cy="869.8" r="5.4" fill="#786db1"/>
<circle cx="1213.1" cy="700.3" r="3.4" fill="#817ebb"/>
<circle cx="1244.3" cy="814.7" r="8.1" fill="#786cb1"/>
<circle cx="1225.6" cy="738.6" r="4.9" fill="#62419c"/>
<circle cx="1165.7" cy="837.7" r="4.3" fill="#7c75b6"/>
<circle cx="1272.6" cy="692.7" r="2" fill="#7465ae"/>
<circle cx="1328.3" cy="636.7" r="2.1" fill="#6b52a4"/>
<circle cx="1351.1" cy="698.1" r="11.1" fill="#776bb0"/>
<circle cx="1179" cy="753.9" r="4.1" fill="#7364ad"/>
<circle cx="1213.4" cy="749.5" r="4.6" fill="#6b53a4"/>
<circle cx="1323.2" cy="673.5" r="4" fill="#6c54a5"/>
<circle cx="1300.2" cy="695.6" r="3.8" fill="#6b53a4"/>
<circle cx="1203.1" cy="855" r="8.5" fill="#7363ac"/>
<circle cx="1217.6" cy="718.3" r="2.5" fill="#817ebb"/>
<circle cx="1373.5" cy="593.2" r="2.6" fill="#766ab0"/>
<circle cx="1305" cy="652.4" r="3" fill="#6e58a7"/>
<circle cx="1172.6" cy="804.5" r="4" fill="#62419b"/>
<circle cx="1374.9" cy="683.5" r="10.9" fill="#7a72b4"/>
<circle cx="1184" cy="728.2" r="2.3" fill="#7363ac"/>
<circle cx="1316.3" cy="660.3" r="3.8" fill="#64469e"/>
<circle cx="1153.7" cy="845.1" r="3.7" fill="#7668af"/>
<circle cx="1371.2" cy="692.2" r="11.9" fill="#796fb2"/>
<circle cx="1420.8" cy="556.1" r="3.2" fill="#6c55a5"/>
<circle cx="1471.2" cy="512.1" r="3.9" fill="#715faa"/>
<circle cx="1144.2" cy="810.7" r="5.8" fill="#684ca1"/>
<circle cx="1159.9" cy="767" r="2.9" fill="#7566ae"/>
<circle cx="1285.1" cy="756.1" r="6.1" fill="#786db2"/>
<circle cx="1156.4" cy="919.6" r="9" fill="#7b72b4"/>
<circle cx="1426.7" cy="631.9" r="8.5" fill="#7970b3"/>
<circle cx="1310.4" cy="703.4" r="4.7" fill="#684ca1"/>
<circle cx="1177.3" cy="811.8" r="3.6" fill="#64459d"/>
<circle cx="1386.4" cy="611.6" r="5" fill="#6f5ba8"/>
<circle cx="1223.3" cy="837.9" r="11.1" fill="#7a72b4"/>
<circle cx="1175.1" cy="708.2" r="2.8" fill="#664aa0"/>
<circle cx="1188.9" cy="867.5" r="5.7" fill="#786cb1"/>
<circle cx="1399.5" cy="588.9" r="4.8" fill="#6d57a6"/>
<circle cx="1459.1" cy="546.3" r="5.2" fill="#6a51a3"/>
<circle cx="1387.5" cy="610.1" r="5.6" fill="#684da1"/>
<circle cx="1216.7" cy="829" r="8.1" fill="#786db2"/>
<circle cx="1431.3" cy="527.4" r="4.3" fill="#664aa0"/>
<circle cx="1147.7" cy="754" r="3.7" fill="#7363ac"/>
<circle cx="1279.7" cy="716.2" r="4.4" fill="#6b53a4"/>
<circle cx="1318.8" cy="738.6" r="9.3" fill="#776ab0"/>
<circle cx="1179.8" cy="866.3" r="7.9" fill="#7b73b5"/>
<circle cx="1376.3" cy="585.8" r="3.5" fill="#664aa0"/>
<circle cx="1232.3" cy="744.9" r="4.6" fill="#62429c"/>
<circle cx="1154.5" cy="749.2" r="3.6" fill="#6e58a7"/>
<circle cx="1512" cy="521.1" r="4.7" fill="#7566ae"/>
<circle cx="1355.6" cy="579.1" r="4.2" fill="#664aa0"/>
<circle cx="1358.2" cy="637.6" r="4.5" fill="#674ba0"/>
<circle cx="1264.8" cy="727.6" r="4.7" fill="#64469e"/>
<circle cx="1265.6" cy="697.7" r="2" fill="#6c55a5"/>
<circle cx="1202" cy="725.8" r="2.1" fill="#8b87bf"/>
<circle cx="1289" cy="734.2" r="5" fill="#7464ad"/>
<circle cx="1163.5" cy="826.2" r="6.3" fill="#65479e"/>
<circle cx="1274" cy="736.4" r="5.7" fill="#66499f"/>
<circle cx="1201.7" cy="777.3" r="3.6" fill="#65489f"/>
<circle cx="1328.4" cy="668" r="5.2" fill="#603d9a"/>
<circle cx="1145.9" cy="864.7" r="4.5" fill="#796fb3"/>
<circle cx="1286.4" cy="706.2" r="5.2" fill="#66499f"/>
<circle cx="1538.7" cy="483.4" r="4" fill="#63449d"/>
<circle cx="1370.8" cy="638.1" r="5" fill="#664aa0"/>
<circle cx="1175.6" cy="820.5" r="6.1" fill="#65479e"/>
<circle cx="1293" cy="698.7" r="5.5" fill="#64469e"/>
<circle cx="1160.2" cy="863.4" r="5.6" fill="#786db2"/>
<circle cx="1225.8" cy="723.9" r="3.1" fill="#7261ab"/>
<circle cx="1300" cy="649.2" r="2.5" fill="#7363ac"/>
<circle cx="1291.1" cy="747.4" r="6.7" fill="#7669b0"/>
<circle cx="1168.3" cy="751.5" r="3.8" fill="#8b87bf"/>
<circle cx="1517.2" cy="529.5" r="7.7" fill="#776ab0"/>
<circle cx="1185.3" cy="849.7" r="7" fill="#7a71b4"/>
<circle cx="1397.8" cy="633.2" r="6.1" fill="#766ab0"/>
<circle cx="1171.8" cy="796.4" r="4.5" fill="#61409b"/>
<circle cx="1375.7" cy="609.1" r="3.3" fill="#6d56a6"/>
<circle cx="1177.6" cy="831.9" r="5.2" fill="#7668af"/>
<circle cx="1283.9" cy="646" r="2.7" fill="#766ab0"/>
<circle cx="1178.5" cy="817.8" r="5.1" fill="#63439c"/>
<circle cx="1421.5" cy="567.7" r="3.4" fill="#7160ab"/>
<circle cx="1250.3" cy="787.4" r="7.6" fill="#786db1"/>
<circle cx="1273.3" cy="733.3" r="5.3" fill="#66499f"/>
<circle cx="1151.8" cy="901.1" r="9" fill="#7a71b4"/>
<circle cx="1342.7" cy="626.4" r="3.3" fill="#705da9"/>
<circle cx="1186.6" cy="847" r="6.6" fill="#796fb3"/>
<circle cx="1165.8" cy="751.1" r="2.6" fill="#664aa0"/>
<circle cx="1394.9" cy="585" r="2.7" fill="#7363ad"/>
<circle cx="1218.3" cy="716.7" r="2.7" fill="#8b87bf"/>
<circle cx="1198.6" cy="800.3" r="5.4" fill="#66499f"/>
<circle cx="1295.8" cy="757.1" r="9.8" fill="#796eb2"/>
<circle cx="1205.8" cy="713.8" r="2.8" fill="#7c74b5"/>
<circle cx="1197.6" cy="798.1" r="4.8" fill="#64469e"/>
<circle cx="1416.7" cy="647.6" r="11.5" fill="#766ab0"/>
<circle cx="1148.9" cy="777.1" r="2.1" fill="#6c55a5"/>
<circle cx="1154.8" cy="811.6" r="4" fill="#65479e"/>
<circle cx="1160.7" cy="882" r="5.9" fill="#7466ae"/>
<circle cx="1358.2" cy="681.2" r="7.8" fill="#7a70b3"/>
<circle cx="1162.4" cy="760.8" r="4.1" fill="#6d57a6"/>
<circle cx="1199.6" cy="839.8" r="7.7" fill="#776ab0"/>
<circle cx="1302.5" cy="710.8" r="5.6" fill="#64469e"/>
<circle cx="1271.4" cy="758.9" r="6.8" fill="#796eb2"/>
<circle cx="1209" cy="726.1" r="2.3" fill="#664aa0"/>
<circle cx="1178.3" cy="844" r="5.6" fill="#7b73b5"/>
<circle cx="1401" cy="590.9" r="4.3" fill="#65479e"/>
<circle cx="1156.5" cy="846.7" r="4.6" fill="#776ab0"/>
<circle cx="1398.6" cy="569.4" r="3.5" fill="#664aa0"/>
<circle cx="1356.1" cy="688" r="9.6" fill="#786cb1"/>
<circle cx="1274.3" cy="699.2" r="4.6" fill="#63449d"/>
<circle cx="1302.8" cy="735.9" r="6.1" fill="#7970b3"/>
<circle cx="1366.7" cy="632.3" r="5.5" fill="#6a51a3"/>
<circle cx="1269.3" cy="798.6" r="7.9" fill="#776cb1"/>
<circle cx="1247.1" cy="708.7" r="3.3" fill="#7c76b6"/>
<circle cx="1194.1" cy="750.4" r="3.2" fill="#6a51a3"/>
<circle cx="1376.8" cy="598.2" r="2.8" fill="#6f5ba8"/>
<circle cx="1236.9" cy="826.9" r="11.6" fill="#7669af"/>
<circle cx="1221" cy="707.2" r="3.8" fill="#7c74b5"/>
<circle cx="1526.6" cy="492.6" r="3.5" fill="#715faa"/>
<circle cx="1255.8" cy="794.1" r="8.7" fill="#786cb1"/>
<circle cx="1375.8" cy="605.4" r="3.1" fill="#6a50a3"/>
<circle cx="1296.8" cy="702.8" r="3.4" fill="#684da1"/>
<circle cx="1472.2" cy="590.3" r="9.1" fill="#786cb1"/>
<circle cx="1334.4" cy="700.6" r="7.7" fill="#786db2"/>
<circle cx="1223.2" cy="766.9" r="4.4" fill="#65489f"/>
<circle cx="1375.3" cy="594.6" r="3.2" fill="#7464ad"/>
<circle cx="1196.1" cy="855.2" r="5.8" fill="#7c74b5"/>
<circle cx="1242.1" cy="699" r="2.3" fill="#7c74b5"/>
<circle cx="1383.7" cy="603.7" r="3.9" fill="#6d57a6"/>
<circle cx="1192.7" cy="732.2" r="2.5" fill="#664aa0"/>
<circle cx="1180.3" cy="769.8" r="4.3" fill="#66499f"/>
<circle cx="1458.2" cy="539.8" r="3.3" fill="#7160ab"/>
<circle cx="1181" cy="878.1" r="5.6" fill="#776bb1"/>
<circle cx="1239.8" cy="689.2" r="2.6" fill="#8b87bf"/>
<circle cx="1289.7" cy="733.9" r="5.3" fill="#7567ae"/>
<circle cx="1410.8" cy="564" r="4" fill="#6b52a4"/>
<circle cx="1159.3" cy="802.8" r="3.8" fill="#65489f"/>
<circle cx="1420.4" cy="616.5" r="7" fill="#796fb2"/>
<circle cx="1165.2" cy="749.2" r="3.4" fill="#6e58a7"/>
<circle cx="1157.8" cy="846.5" r="4.6" fill="#7970b3"/>
<circle cx="1199.1" cy="763.4" r="5.2" fill="#6b53a4"/>
<circle cx="1186.2" cy="806.6" r="5.5" fill="#62419c"/>
<circle cx="1272.9" cy="720" r="3.6" fill="#63439c"/>
<circle cx="1379.1" cy="608.5" r="4" fill="#705da9"/>
<circle cx="1542.4" cy="467.3" r="2.5" fill="#6950a2"/>
<circle cx="1255" cy="758.6" r="5.1" fill="#6950a2"/>
<circle cx="1203.8" cy="767.4" r="5.3" fill="#62429c"/>
<circle cx="1538.9" cy="456.1" r="5.1" fill="#664aa0"/>
<circle cx="1346.5" cy="582.4" r="2.8" fill="#8b87bf"/>
<circle cx="1288.6" cy="672.1" r="2.8" fill="#7363ac"/>
<circle cx="1167.3" cy="752.5" r="3" fill="#766ab0"/>
<circle cx="1196" cy="828.4" r="5.7" fill="#7364ad"/>
<circle cx="1415.7" cy="639.3" r="8.1" fill="#7970b3"/>
<circle cx="1478.8" cy="553" r="7.1" fill="#786cb1"/>
<circle cx="1459.5" cy="571.2" r="4.2" fill="#7363ad"/>
<circle cx="1238.1" cy="824.1" r="8.1" fill="#7465ad"/>
<circle cx="1303.6" cy="680.7" r="5" fill="#674ba0"/>
<circle cx="1218.3" cy="839.3" r="7.7" fill="#66499f"/>
<circle cx="1244.7" cy="747.2" r="5.3" fill="#694fa2"/>
<circle cx="1154.6" cy="817.5" r="4.5" fill="#6a52a3"/>
<circle cx="1392.9" cy="569.2" r="3.7" fill="#7363ac"/>
<circle cx="1559.9" cy="489" r="9.5" fill="#7567ae"/>
<circle cx="1169.5" cy="897.4" r="9.5" fill="#7a71b4"/>
<circle cx="1334.5" cy="686" r="6.6" fill="#796fb3"/>
<circle cx="1209.7" cy="726.7" r="2.9" fill="#766ab0"/>
<circle cx="1348.6" cy="716.2" r="12.3" fill="#7261ab"/>
<circle cx="1156.3" cy="738.1" r="3.4" fill="#6e58a7"/>
<circle cx="1188.9" cy="752.6" r="2.4" fill="#7465ad"/>
<circle cx="1161.1" cy="797" r="4.4" fill="#6b53a4"/>
<circle cx="1166.5" cy="752.5" r="1.9" fill="#7363ac"/>
<circle cx="1449.8" cy="618.4" r="13" fill="#7c76b6"/>
<circle cx="1179.6" cy="728.5" r="2.4" fill="#766ab0"/>
<circle cx="1176.8" cy="743" r="2.6" fill="#817ebb"/>
<circle cx="1351.1" cy="625.7" r="5" fill="#694fa2"/>
<circle cx="1172.9" cy="743.9" r="2.1" fill="#6e58a7"/>
<circle cx="1158.5" cy="754.3" r="3.5" fill="#664aa0"/>
<circle cx="1217.4" cy="800.5" r="4.7" fill="#766ab0"/>
<circle cx="1309.3" cy="705.9" r="5.6" fill="#64459d"/>
<circle cx="1500.1" cy="544.9" r="9.8" fill="#796fb3"/>
<circle cx="1206.9" cy="697.5" r="3.5" fill="#7c74b5"/>
<circle cx="1159.6" cy="815.2" r="4.3" fill="#5e3998"/>
<circle cx="1291.4" cy="696.1" r="5.1" fill="#6a50a3"/>
<circle cx="1244.7" cy="789.7" r="7" fill="#7a72b4"/>
<circle cx="1284.4" cy="754.3" r="7.6" fill="#7c74b5"/>
<circle cx="1239.7" cy="729.9" r="5.1" fill="#6b52a4"/>
<circle cx="1386" cy="622.1" r="5.1" fill="#7464ad"/>
<circle cx="1265.1" cy="759.8" r="6" fill="#786cb1"/>
<circle cx="1198.6" cy="722.7" r="2" fill="#7363ac"/>
<circle cx="1228.8" cy="785.9" r="5.3" fill="#786db2"/>
<circle cx="1167.3" cy="699.7" r="2.7" fill="#6e58a7"/>
<circle cx="1161.9" cy="840.1" r="4.7" fill="#7568af"/>
<circle cx="1257.8" cy="694" r="3.5" fill="#8b87bf"/>
<circle cx="1179.3" cy="806.4" r="5.1" fill="#664aa0"/>
<circle cx="1351.6" cy="681.3" r="7.7" fill="#7669b0"/>
<circle cx="1307.1" cy="756.2" r="10.4" fill="#776bb1"/>
<circle cx="1472" cy="540.4" r="4.1" fill="#64469e"/>
<circle cx="1145.2" cy="784.6" r="4.7" fill="#6c55a5"/>
<circle cx="1470.6" cy="543.8" r="4.6" fill="#715faa"/>
<circle cx="1301.7" cy="692.3" r="5.4" fill="#63449d"/>
<circle cx="1242.3" cy="734.1" r="5.6" fill="#64469e"/>
<circle cx="1280.3" cy="794.1" r="8.3" fill="#7567ae"/>
<circle cx="1432.7" cy="575.9" r="5" fill="#7262ac"/>
<circle cx="1241.1" cy="686.5" r="2.3" fill="#817ebb"/>
<circle cx="1520.2" cy="541.4" r="11" fill="#796fb3"/>
<circle cx="1245.8" cy="821" r="10.8" fill="#7566ae"/>
<circle cx="1527.1" cy="472.2" r="2.5" fill="#6d56a6"/>
<circle cx="1389.6" cy="665" r="11" fill="#7669b0"/>
<circle cx="1264.8" cy="700.7" r="2.2" fill="#786cb1"/>
<circle cx="1326.4" cy="740.9" r="11.8" fill="#7b73b5"/>
<circle cx="1152.7" cy="844.4" r="4.4" fill="#7b74b5"/>
<circle cx="1414.3" cy="637.6" r="21" fill="#796fb7" fill-opacity="0.92"/>
<circle cx="1441.5" cy="622" r="21" fill="#796fb7" fill-opacity="0.92"/>
<circle cx="1473" cy="585" r="21" fill="#796fb7" fill-opacity="0.92"/>
<circle cx="1508.5" cy="559.7" r="21" fill="#796fb7" fill-opacity="0.92"/>
<circle cx="1528.6" cy="531" r="20.6" fill="#796fb7" fill-opacity="0.92"/>
<circle cx="1545.7" cy="454.8" r="11.4" fill="#7a70b8" fill-opacity="0.92"/>
<circle cx="1577.1" cy="475.7" r="21.3" fill="#7a72b8" fill-opacity="0.92"/>
<circle cx="1542.9" cy="484.3" r="15.2" fill="#7a72b8" fill-opacity="0.92"/>
<circle cx="1401.4" cy="682.1" r="14.4" fill="#796fb7" fill-opacity="0.92"/>
<circle cx="1374.8" cy="695.4" r="11" fill="#796fb7" fill-opacity="0.92"/>
<circle cx="1385" cy="660" r="16" fill="#796fb7" fill-opacity="0.92"/>
<circle cx="1356" cy="719.8" r="10" fill="#796fb7" fill-opacity="0.92"/>
<circle cx="1342.7" cy="698.7" r="10" fill="#6b4fa9" fill-opacity="0.92"/>
<circle cx="1326" cy="739.7" r="8.4" fill="#7565b4" fill-opacity="0.92"/>
<circle cx="1341.6" cy="746.3" r="10" fill="#8a84c2" fill-opacity="0.92"/>
<circle cx="1348.2" cy="757.4" r="4.9" fill="#9690c8" fill-opacity="0.92"/>
<circle cx="1311.7" cy="767.4" r="9.3" fill="#6b4fa9" fill-opacity="0.92"/>
<circle cx="1320.6" cy="785.1" r="8.9" fill="#7565b4" fill-opacity="0.92"/>
<circle cx="1270.7" cy="780.7" r="7.8" fill="#6b4fa9" fill-opacity="0.92"/>
<circle cx="1284" cy="805" r="8.9" fill="#7565b4" fill-opacity="0.92"/>
<circle cx="1266.3" cy="795" r="6.6" fill="#7a70b8" fill-opacity="0.92"/>
<circle cx="1247.4" cy="779.6" r="4.9" fill="#7565b4" fill-opacity="0.92"/>
<circle cx="1260.7" cy="825.6" r="3.3" fill="#9690c8" fill-opacity="0.92"/>
<circle cx="1248.6" cy="830.5" r="7.1" fill="#6b4fa9" fill-opacity="0.92"/>
<circle cx="1260.3" cy="838.9" r="6.6" fill="#7565b4" fill-opacity="0.92"/>
<circle cx="1237.5" cy="848.2" r="6.2" fill="#7a70b8" fill-opacity="0.92"/>
<circle cx="1228.6" cy="862.6" r="6.2" fill="#7a70b8" fill-opacity="0.92"/>
<circle cx="1219.8" cy="879.3" r="5.5" fill="#6b4fa9" fill-opacity="0.92"/>
<circle cx="1217.5" cy="871.5" r="4" fill="#9690c8" fill-opacity="0.92"/>
<circle cx="1835.2" cy="178.1" r="21.9" fill="#928fc6" fill-opacity="0.92"/>
<circle cx="1830.1" cy="162.3" r="14.9" fill="#8079bd" fill-opacity="0.92"/>
<circle cx="1863.2" cy="138.5" r="6.3" fill="#857fc0" fill-opacity="0.92"/>
<circle cx="1848.6" cy="153.3" r="6.3" fill="#7a6cb8" fill-opacity="0.92"/>
<circle cx="1796.2" cy="215.2" r="17" fill="#8a86c3" fill-opacity="0.92"/>
<circle cx="1807.6" cy="199.6" r="13.7" fill="#8883c2" fill-opacity="0.92"/>
<circle cx="1794.3" cy="202.9" r="7.6" fill="#6d52ad" fill-opacity="0.92"/>
<circle cx="1800.5" cy="201" r="7.6" fill="#6d52ad" fill-opacity="0.92"/>
<circle cx="1782" cy="226.7" r="11.4" fill="#8a86c3" fill-opacity="0.92"/>
<circle cx="1772.4" cy="234.3" r="8.6" fill="#8a86c3" fill-opacity="0.92"/>
<circle cx="1784.8" cy="234.3" r="6.7" fill="#9792c9" fill-opacity="0.92"/>
<circle cx="1761.9" cy="249.5" r="13" fill="#8883c2" fill-opacity="0.92"/>
<circle cx="1728.6" cy="231.4" r="10.5" fill="#7a72b8" fill-opacity="0.92"/>
<circle cx="1751.4" cy="226.7" r="7" fill="#9691c8" fill-opacity="0.92"/>
<circle cx="1739" cy="242.9" r="7" fill="#8580c0" fill-opacity="0.92"/>
<circle cx="1730.9" cy="255.2" r="6.7" fill="#908cc6" fill-opacity="0.92"/>
<circle cx="1746.1" cy="256.2" r="6.7" fill="#6e55ae" fill-opacity="0.92"/>
<circle cx="1744.8" cy="266.7" r="5.7" fill="#9590c8" fill-opacity="0.92"/>
<circle cx="1721.3" cy="262.9" r="6.1" fill="#7f78bc" fill-opacity="0.92"/>
<circle cx="1720" cy="268.6" r="4.8" fill="#7f78bc" fill-opacity="0.92"/>
<circle cx="1705.7" cy="193.9" r="6.1" fill="#7a70b8" fill-opacity="0.92"/>
<circle cx="1680.6" cy="265.1" r="7" fill="#8580c0" fill-opacity="0.92"/>
<circle cx="1721" cy="286.7" r="5.7" fill="#8681c1" fill-opacity="0.92"/>
<circle cx="1713.9" cy="296.2" r="6.3" fill="#807abd" fill-opacity="0.92"/>
<circle cx="1663.8" cy="304.8" r="4.8" fill="#8d89c4" fill-opacity="0.92"/>
<circle cx="1674.9" cy="302.5" r="4.2" fill="#8580c0" fill-opacity="0.92"/>
<circle cx="1678.1" cy="307.6" r="5.7" fill="#7a6fb7" fill-opacity="0.92"/>
<circle cx="1686.7" cy="302.9" r="5.3" fill="#827cbd" fill-opacity="0.92"/>
<circle cx="1698.1" cy="308.6" r="7.6" fill="#7060b0" fill-opacity="0.92"/>
<circle cx="1707.2" cy="313.3" r="5.7" fill="#7f78bc" fill-opacity="0.92"/>
<circle cx="1693.3" cy="329.2" r="12.4" fill="#9f9cce" fill-opacity="0.92"/>
<circle cx="1673.3" cy="333" r="8.6" fill="#8580c0" fill-opacity="0.92"/>
<circle cx="1681.5" cy="336.7" r="6.7" fill="#6a50aa" fill-opacity="0.92"/>
<circle cx="1624.8" cy="305.2" r="6.3" fill="#8a86c3" fill-opacity="0.92"/>
<circle cx="1653.3" cy="320.5" r="5.3" fill="#8580c0" fill-opacity="0.92"/>
<circle cx="1655.6" cy="341" r="5.3" fill="#8580c0" fill-opacity="0.92"/>
<circle cx="1670.5" cy="345.2" r="8.6" fill="#8782c2" fill-opacity="0.92"/>
<circle cx="1669.5" cy="355.7" r="7.6" fill="#8f8bc5" fill-opacity="0.92"/>
<circle cx="1654.3" cy="361.4" r="8.6" fill="#7a70b8" fill-opacity="0.92"/>
<circle cx="1657.1" cy="370" r="5.7" fill="#7a70b8" fill-opacity="0.92"/>
<circle cx="1646.7" cy="366.2" r="4.2" fill="#8580c0" fill-opacity="0.92"/>
<circle cx="1649.5" cy="378.6" r="7.6" fill="#7b72b9" fill-opacity="0.92"/>
<circle cx="1630.5" cy="364.3" r="5.1" fill="#8a86c3" fill-opacity="0.92"/>
<circle cx="1593" cy="376.3" r="5.3" fill="#8a86c3" fill-opacity="0.92"/>
<circle cx="1606.7" cy="411.9" r="14.3" fill="#8580c0" fill-opacity="0.92"/>
<circle cx="1621.5" cy="396.7" r="20.6" fill="#8580c0" fill-opacity="0.92"/>
<circle cx="1632.4" cy="385.2" r="6.7" fill="#6f5db0" fill-opacity="0.92"/>
<circle cx="1618.1" cy="390" r="4.2" fill="#7565b4" fill-opacity="0.92"/>
<circle cx="1572" cy="394.2" r="4.2" fill="#8580c0" fill-opacity="0.92"/>
<circle cx="1556.6" cy="411.5" r="5.7" fill="#6a58ad" fill-opacity="0.92"/>
<circle cx="1522.9" cy="417.2" r="5.3" fill="#7565b4" fill-opacity="0.92"/>
<circle cx="1575.2" cy="409" r="4.2" fill="#8580c0" fill-opacity="0.92"/>
<circle cx="1580.6" cy="413.8" r="6.1" fill="#7b72b9" fill-opacity="0.92"/>
<circle cx="1592.4" cy="423.3" r="8.6" fill="#7060b0" fill-opacity="0.92"/>
<circle cx="1577.1" cy="425.2" r="6.7" fill="#7f78bc" fill-opacity="0.92"/>
<circle cx="1569.9" cy="427.5" r="4.2" fill="#8580c0" fill-opacity="0.92"/>
<circle cx="1543.4" cy="427.1" r="5.7" fill="#8580c0" fill-opacity="0.92"/>
<circle cx="1537.1" cy="436.7" r="3.8" fill="#8580c0" fill-opacity="0.92"/>
<circle cx="1548.6" cy="435.7" r="5.7" fill="#8580c0" fill-opacity="0.92"/>
<circle cx="1556.2" cy="438.6" r="5.3" fill="#8580c0" fill-opacity="0.92"/>
<circle cx="1584.8" cy="440.5" r="8.6" fill="#7565b4" fill-opacity="0.92"/>
<circle cx="1601.9" cy="434.8" r="7.6" fill="#7b72b9" fill-opacity="0.92"/>
<circle cx="1600" cy="442.4" r="4.8" fill="#7b72b9" fill-opacity="0.92"/>
<circle cx="1544.8" cy="448.1" r="4.8" fill="#b5b3d9" fill-opacity="0.92"/>
<circle cx="1561.9" cy="453.8" r="6.7" fill="#6d56ad" fill-opacity="0.92"/>
<circle cx="1531.4" cy="453.8" r="5.7" fill="#7b72b9" fill-opacity="0.92"/>
<circle cx="1544.8" cy="461.4" r="7.6" fill="#6d56ad" fill-opacity="0.92"/>
<circle cx="1438.5" cy="467.7" r="3.8" fill="#8580c0" fill-opacity="0.92"/>
<circle cx="1454.9" cy="469.4" r="4.2" fill="#8580c0" fill-opacity="0.92"/>
<circle cx="1384.8" cy="518.6" r="4.2" fill="#7565b4" fill-opacity="0.92"/>
<circle cx="1389" cy="511" r="3" fill="#9f9cce" fill-opacity="0.92"/>
<circle cx="1443.8" cy="512.9" r="3.8" fill="#8580c0" fill-opacity="0.92"/>
<circle cx="1422.9" cy="520.5" r="4.2" fill="#8580c0" fill-opacity="0.92"/>
<circle cx="1408.6" cy="529" r="3.4" fill="#8580c0" fill-opacity="0.92"/>
<circle cx="1413.3" cy="535.7" r="4.8" fill="#6d56ad" fill-opacity="0.92"/>
<circle cx="1503.8" cy="456.7" r="4.2" fill="#8580c0" fill-opacity="0.92"/>
<circle cx="1511.4" cy="454.8" r="4.2" fill="#8580c0" fill-opacity="0.92"/>
<circle cx="1504.8" cy="465.2" r="3" fill="#8580c0" fill-opacity="0.92"/>
<circle cx="1517.1" cy="465.2" r="4.2" fill="#7b72b9" fill-opacity="0.92"/>
</g>
<rect x="1144.0" y="128.9" width="744.2" height="755.8000000000001" fill="none" stroke="#000" stroke-width="2.2"/>
<line x1="1134.4" y1="128.9" x2="1144" y2="128.9" stroke="#000" stroke-width="2.2" />
<text x="1050.4" y="144.9" font-size="44">10<tspan dx="0.9" dy="-17.6" font-size="30.8">2</tspan></text>
<line x1="1138.2" y1="254.1" x2="1144" y2="254.1" stroke="#000" stroke-width="1.4" />
<line x1="1138.2" y1="222.5" x2="1144" y2="222.5" stroke="#000" stroke-width="1.4" />
<line x1="1138.2" y1="200.2" x2="1144" y2="200.2" stroke="#000" stroke-width="1.4" />
<line x1="1138.2" y1="182.8" x2="1144" y2="182.8" stroke="#000" stroke-width="1.4" />
<line x1="1138.2" y1="168.6" x2="1144" y2="168.6" stroke="#000" stroke-width="1.4" />
<line x1="1138.2" y1="156.6" x2="1144" y2="156.6" stroke="#000" stroke-width="1.4" />
<line x1="1138.2" y1="146.3" x2="1144" y2="146.3" stroke="#000" stroke-width="1.4" />
<line x1="1138.2" y1="137.1" x2="1144" y2="137.1" stroke="#000" stroke-width="1.4" />
<line x1="1134.4" y1="308" x2="1144" y2="308" stroke="#000" stroke-width="2.2" />
<text x="1050.4" y="324" font-size="44">10<tspan dx="0.9" dy="-17.6" font-size="30.8">1</tspan></text>
<line x1="1138.2" y1="433.2" x2="1144" y2="433.2" stroke="#000" stroke-width="1.4" />
<line x1="1138.2" y1="401.6" x2="1144" y2="401.6" stroke="#000" stroke-width="1.4" />
<line x1="1138.2" y1="379.3" x2="1144" y2="379.3" stroke="#000" stroke-width="1.4" />
<line x1="1138.2" y1="361.9" x2="1144" y2="361.9" stroke="#000" stroke-width="1.4" />
<line x1="1138.2" y1="347.7" x2="1144" y2="347.7" stroke="#000" stroke-width="1.4" />
<line x1="1138.2" y1="335.7" x2="1144" y2="335.7" stroke="#000" stroke-width="1.4" />
<line x1="1138.2" y1="325.4" x2="1144" y2="325.4" stroke="#000" stroke-width="1.4" />
<line x1="1138.2" y1="316.2" x2="1144" y2="316.2" stroke="#000" stroke-width="1.4" />
<line x1="1134.4" y1="487.1" x2="1144" y2="487.1" stroke="#000" stroke-width="2.2" />
<text x="1050.4" y="503.1" font-size="44">10<tspan dx="0.9" dy="-17.6" font-size="30.8">0</tspan></text>
<line x1="1138.2" y1="612.3" x2="1144" y2="612.3" stroke="#000" stroke-width="1.4" />
<line x1="1138.2" y1="580.7" x2="1144" y2="580.7" stroke="#000" stroke-width="1.4" />
<line x1="1138.2" y1="558.4" x2="1144" y2="558.4" stroke="#000" stroke-width="1.4" />
<line x1="1138.2" y1="541" x2="1144" y2="541" stroke="#000" stroke-width="1.4" />
<line x1="1138.2" y1="526.8" x2="1144" y2="526.8" stroke="#000" stroke-width="1.4" />
<line x1="1138.2" y1="514.8" x2="1144" y2="514.8" stroke="#000" stroke-width="1.4" />
<line x1="1138.2" y1="504.5" x2="1144" y2="504.5" stroke="#000" stroke-width="1.4" />
<line x1="1138.2" y1="495.3" x2="1144" y2="495.3" stroke="#000" stroke-width="1.4" />
<line x1="1134.4" y1="666.2" x2="1144" y2="666.2" stroke="#000" stroke-width="2.2" />
<text x="1024.6" y="682.2" font-size="44">10<tspan dx="-0.4" dy="-17.6" font-size="30.8">−1</tspan></text>
<line x1="1138.2" y1="791.4" x2="1144" y2="791.4" stroke="#000" stroke-width="1.4" />
<line x1="1138.2" y1="759.8" x2="1144" y2="759.8" stroke="#000" stroke-width="1.4" />
<line x1="1138.2" y1="737.5" x2="1144" y2="737.5" stroke="#000" stroke-width="1.4" />
<line x1="1138.2" y1="720.1" x2="1144" y2="720.1" stroke="#000" stroke-width="1.4" />
<line x1="1138.2" y1="705.9" x2="1144" y2="705.9" stroke="#000" stroke-width="1.4" />
<line x1="1138.2" y1="693.9" x2="1144" y2="693.9" stroke="#000" stroke-width="1.4" />
<line x1="1138.2" y1="683.6" x2="1144" y2="683.6" stroke="#000" stroke-width="1.4" />
<line x1="1138.2" y1="674.4" x2="1144" y2="674.4" stroke="#000" stroke-width="1.4" />
<line x1="1134.4" y1="845.3" x2="1144" y2="845.3" stroke="#000" stroke-width="2.2" />
<text x="1024.6" y="861.3" font-size="44">10<tspan dx="-0.4" dy="-17.6" font-size="30.8">−2</tspan></text>
<line x1="1138.2" y1="873" x2="1144" y2="873" stroke="#000" stroke-width="1.4" />
<line x1="1138.2" y1="862.7" x2="1144" y2="862.7" stroke="#000" stroke-width="1.4" />
<line x1="1138.2" y1="853.5" x2="1144" y2="853.5" stroke="#000" stroke-width="1.4" />
<line x1="1144" y1="884.7" x2="1144" y2="893.9" stroke="#000" stroke-width="2.2" />
<text x="1093.6" y="938" font-size="44">10<tspan dx="-0.4" dy="-17.6" font-size="30.8">−3</tspan></text>
<line x1="1441.1" y1="884.7" x2="1441.1" y2="893.9" stroke="#000" stroke-width="2.2" />
<text x="1390.7" y="938" font-size="44">10<tspan dx="-0.4" dy="-17.6" font-size="30.8">−1</tspan></text>
<line x1="1738.5" y1="884.7" x2="1738.5" y2="893.9" stroke="#000" stroke-width="2.2" />
<text x="1701.1" y="938" font-size="44">10<tspan dx="0.9" dy="-17.6" font-size="30.8">1</tspan></text>
<text x="1218" y="1001" font-size="50">cluster volume [m<tspan dy="-18" font-size="35">2</tspan><tspan dy="18"> sec]</tspan></text>
<text x="999" y="504.5" font-size="50" text-anchor="middle" transform="rotate(-90 999 504.5)">cluster area [m<tspan dy="-18" font-size="35">2</tspan><tspan dy="18">]</tspan></text>
<circle cx="1356.6" cy="816" r="13.4" fill="#a9a6d3" stroke="#000" stroke-width="2"/>
<text x="1405" y="828.5" font-size="50" text-anchor="start" fill="#000">cluster time [sec]</text>
<rect x="1933.7" y="128.9" width="38.6" height="755.8000000000001" fill="url(#purples)" stroke="#000" stroke-width="2"/>
<line x1="1972.3" y1="324.4" x2="1981.7" y2="324.4" stroke="#000" stroke-width="2.2" />
<text x="1992.3" y="340.4" font-size="44">10<tspan dx="0.9" dy="-17.6" font-size="30.8">0</tspan></text>
<line x1="1972.3" y1="604.7" x2="1981.7" y2="604.7" stroke="#000" stroke-width="2.2" />
<text x="1992.3" y="620.7" font-size="44">10<tspan dx="-0.4" dy="-17.6" font-size="30.8">−1</tspan></text>
<line x1="1972.3" y1="885" x2="1981.7" y2="885" stroke="#000" stroke-width="2.2" />
<text x="1992.3" y="901" font-size="44">10<tspan dx="-0.4" dy="-17.6" font-size="30.8">−2</tspan></text>
<line x1="1972.3" y1="800.6" x2="1977.9" y2="800.6" stroke="#000" stroke-width="1.4" />
<line x1="1972.3" y1="751.3" x2="1977.9" y2="751.3" stroke="#000" stroke-width="1.4" />
<line x1="1972.3" y1="716.2" x2="1977.9" y2="716.2" stroke="#000" stroke-width="1.4" />
<line x1="1972.3" y1="689.1" x2="1977.9" y2="689.1" stroke="#000" stroke-width="1.4" />
<line x1="1972.3" y1="666.9" x2="1977.9" y2="666.9" stroke="#000" stroke-width="1.4" />
<line x1="1972.3" y1="648.1" x2="1977.9" y2="648.1" stroke="#000" stroke-width="1.4" />
<line x1="1972.3" y1="631.9" x2="1977.9" y2="631.9" stroke="#000" stroke-width="1.4" />
<line x1="1972.3" y1="617.5" x2="1977.9" y2="617.5" stroke="#000" stroke-width="1.4" />
<line x1="1972.3" y1="520.3" x2="1977.9" y2="520.3" stroke="#000" stroke-width="1.4" />
<line x1="1972.3" y1="471" x2="1977.9" y2="471" stroke="#000" stroke-width="1.4" />
<line x1="1972.3" y1="435.9" x2="1977.9" y2="435.9" stroke="#000" stroke-width="1.4" />
<line x1="1972.3" y1="408.8" x2="1977.9" y2="408.8" stroke="#000" stroke-width="1.4" />
<line x1="1972.3" y1="386.6" x2="1977.9" y2="386.6" stroke="#000" stroke-width="1.4" />
<line x1="1972.3" y1="367.8" x2="1977.9" y2="367.8" stroke="#000" stroke-width="1.4" />
<line x1="1972.3" y1="351.6" x2="1977.9" y2="351.6" stroke="#000" stroke-width="1.4" />
<line x1="1972.3" y1="337.2" x2="1977.9" y2="337.2" stroke="#000" stroke-width="1.4" />
<line x1="1972.3" y1="240" x2="1977.9" y2="240" stroke="#000" stroke-width="1.4" />
<line x1="1972.3" y1="190.7" x2="1977.9" y2="190.7" stroke="#000" stroke-width="1.4" />
<line x1="1972.3" y1="155.6" x2="1977.9" y2="155.6" stroke="#000" stroke-width="1.4" />
<line x1="1972.3" y1="128.5" x2="1977.9" y2="128.5" stroke="#000" stroke-width="1.4" />
<text x="2109" y="506.5" font-size="50" text-anchor="middle" transform="rotate(90 2109 506.5)">cluster front speed [m/sec]</text>
</g>
</svg>
</body></html>
